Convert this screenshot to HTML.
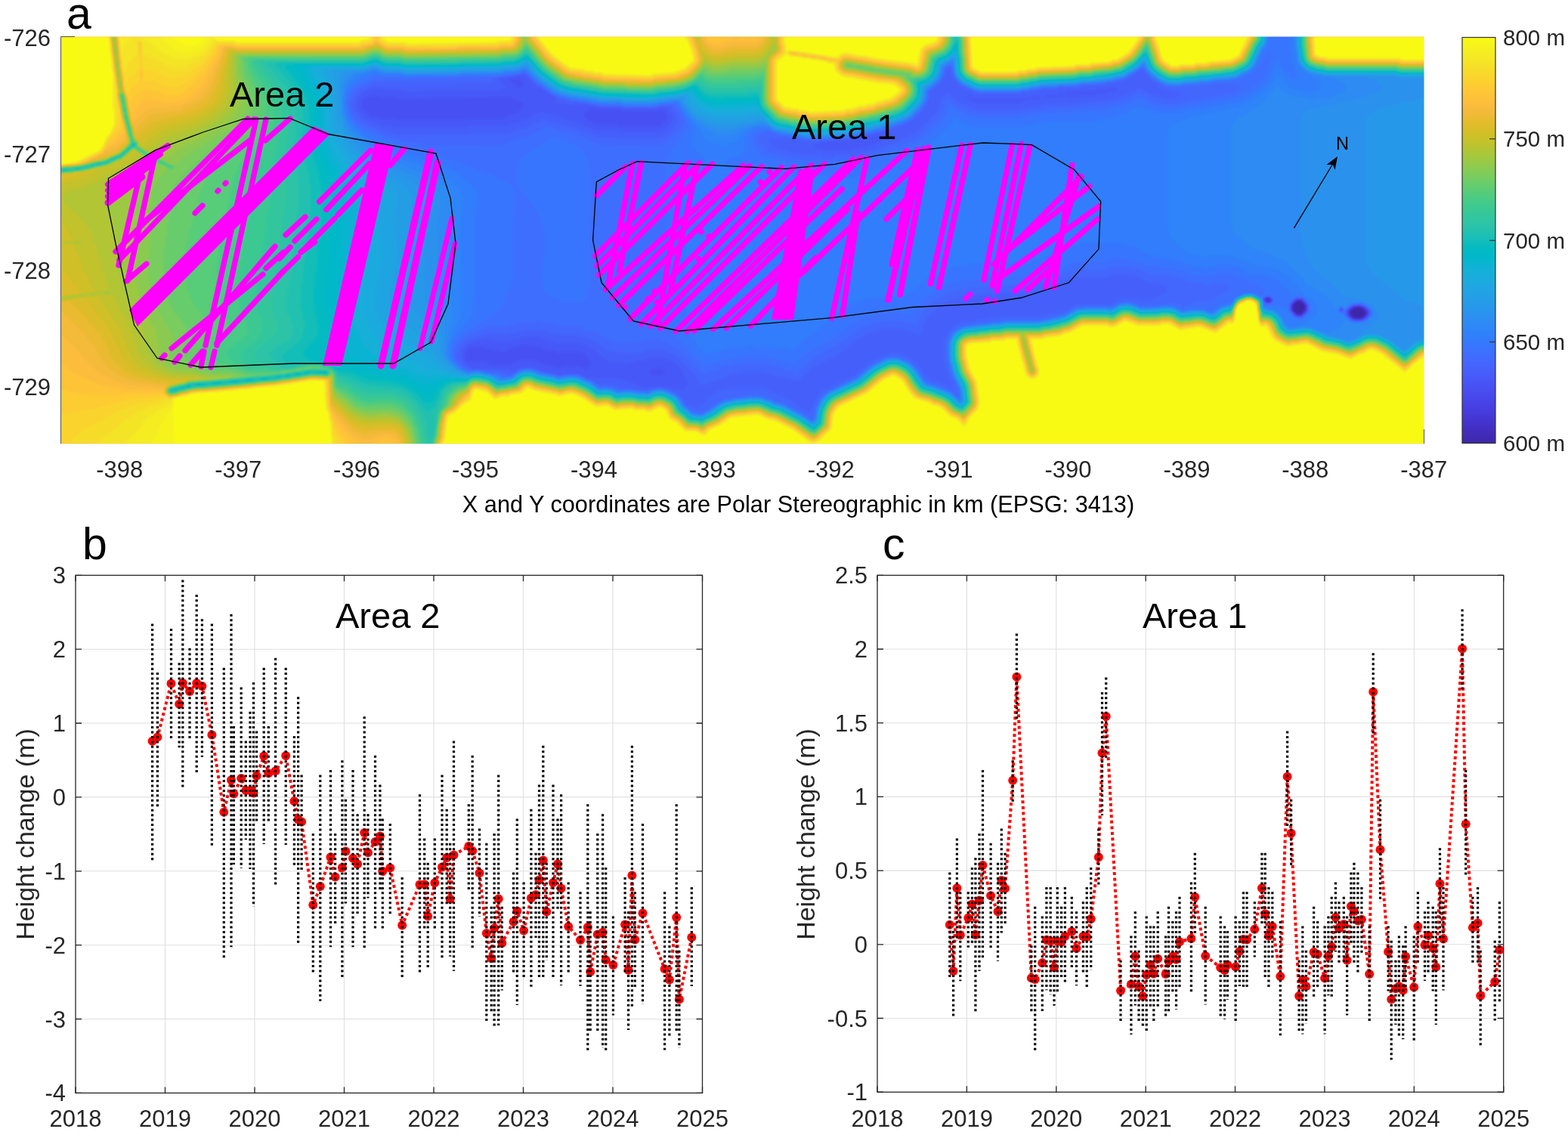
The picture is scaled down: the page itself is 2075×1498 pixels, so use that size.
<!DOCTYPE html>
<html><head><meta charset="utf-8"><title>Figure</title>
<style>html,body{margin:0;padding:0;background:#fff;}body{width:2075px;height:1498px;position:relative;overflow:hidden;}</style>
</head><body>
<svg xmlns="http://www.w3.org/2000/svg" width="2075" height="1498" viewBox="0 0 2075 1498" style="position:absolute;left:0;top:0" font-family="'Liberation Sans', Arial, sans-serif"><defs>
<filter id="cmap" filterUnits="userSpaceOnUse" x="80" y="48" width="1805" height="540" color-interpolation-filters="sRGB">
<feGaussianBlur stdDeviation="1.6"/><feComponentTransfer><feFuncR type="table" tableValues="0.2422 0.2504 0.2578 0.2647 0.2706 0.2751 0.2783 0.2803 0.2813 0.2810 0.2795 0.2760 0.2699 0.2602 0.2440 0.2206 0.1963 0.1834 0.1786 0.1764 0.1687 0.1540 0.1460 0.1380 0.1248 0.1113 0.0952 0.0689 0.0297 0.0036 0.0067 0.0433 0.0964 0.1408 0.1717 0.1938 0.2161 0.2470 0.2906 0.3406 0.3909 0.4456 0.5044 0.5616 0.6174 0.6720 0.7242 0.7738 0.8203 0.8634 0.9035 0.9393 0.9728 0.9956 0.9970 0.9952 0.9892 0.9786 0.9676 0.9610 0.9597 0.9628 0.9691 0.9769"/><feFuncG type="table" tableValues="0.1504 0.1650 0.1818 0.1978 0.2147 0.2342 0.2559 0.2782 0.3006 0.3228 0.3447 0.3667 0.3892 0.4123 0.4358 0.4603 0.4847 0.5074 0.5289 0.5499 0.5703 0.5902 0.6091 0.6276 0.6459 0.6635 0.6798 0.6948 0.7082 0.7203 0.7312 0.7411 0.7500 0.7584 0.7670 0.7758 0.7843 0.7918 0.7973 0.8008 0.8029 0.8024 0.7993 0.7942 0.7876 0.7793 0.7698 0.7598 0.7498 0.7406 0.7330 0.7288 0.7298 0.7434 0.7659 0.7893 0.8136 0.8386 0.8639 0.8890 0.9135 0.9373 0.9606 0.9839"/><feFuncB type="table" tableValues="0.6603 0.7076 0.7511 0.7952 0.8364 0.8710 0.8991 0.9221 0.9414 0.9579 0.9717 0.9829 0.9906 0.9952 0.9988 0.9973 0.9892 0.9798 0.9682 0.9520 0.9359 0.9218 0.9079 0.8973 0.8883 0.8763 0.8598 0.8394 0.8163 0.7917 0.7660 0.7394 0.7120 0.6842 0.6554 0.6251 0.5923 0.5567 0.5188 0.4789 0.4354 0.3909 0.3480 0.3045 0.2612 0.2227 0.1910 0.1646 0.1535 0.1596 0.1774 0.2100 0.2394 0.2371 0.2199 0.2028 0.1885 0.1766 0.1643 0.1537 0.1423 0.1265 0.1064 0.0805"/><feFuncA type="identity"/></feComponentTransfer>
</filter>
<filter id="b3" filterUnits="userSpaceOnUse" x="0" y="0" width="2075" height="700" color-interpolation-filters="sRGB"><feGaussianBlur stdDeviation="3"/></filter>
<filter id="b6" filterUnits="userSpaceOnUse" x="0" y="0" width="2075" height="700" color-interpolation-filters="sRGB"><feGaussianBlur stdDeviation="6"/></filter>
<filter id="b9" filterUnits="userSpaceOnUse" x="0" y="0" width="2075" height="700" color-interpolation-filters="sRGB"><feGaussianBlur stdDeviation="9"/></filter>
<filter id="b14" filterUnits="userSpaceOnUse" x="0" y="0" width="2075" height="700" color-interpolation-filters="sRGB"><feGaussianBlur stdDeviation="14"/></filter>
<filter id="b22" filterUnits="userSpaceOnUse" x="0" y="0" width="2075" height="700" color-interpolation-filters="sRGB"><feGaussianBlur stdDeviation="22"/></filter>
<filter id="b35" filterUnits="userSpaceOnUse" x="0" y="0" width="2075" height="700" color-interpolation-filters="sRGB"><feGaussianBlur stdDeviation="35"/></filter>
<clipPath id="mapclip"><rect x="80" y="48.5" width="1804.5" height="538.7"/></clipPath>
<clipPath id="bclip"><rect x="100" y="761" width="830" height="686"/></clipPath>
<clipPath id="cclip"><rect x="1161" y="761" width="829" height="686"/></clipPath>
<linearGradient id="cbar" x1="0" y1="1" x2="0" y2="0"><stop offset="0.0000" stop-color="#3e26a8"/><stop offset="0.0159" stop-color="#402ab4"/><stop offset="0.0317" stop-color="#422ec0"/><stop offset="0.0476" stop-color="#4332cb"/><stop offset="0.0635" stop-color="#4537d5"/><stop offset="0.0794" stop-color="#463cde"/><stop offset="0.0952" stop-color="#4741e5"/><stop offset="0.1111" stop-color="#4747eb"/><stop offset="0.1270" stop-color="#484df0"/><stop offset="0.1429" stop-color="#4852f4"/><stop offset="0.1587" stop-color="#4758f8"/><stop offset="0.1746" stop-color="#465efb"/><stop offset="0.1905" stop-color="#4563fd"/><stop offset="0.2063" stop-color="#4269fe"/><stop offset="0.2222" stop-color="#3e6fff"/><stop offset="0.2381" stop-color="#3875fe"/><stop offset="0.2540" stop-color="#327cfc"/><stop offset="0.2698" stop-color="#2f81fa"/><stop offset="0.2857" stop-color="#2e87f7"/><stop offset="0.3016" stop-color="#2d8cf3"/><stop offset="0.3175" stop-color="#2b91ef"/><stop offset="0.3333" stop-color="#2797eb"/><stop offset="0.3492" stop-color="#259be8"/><stop offset="0.3651" stop-color="#23a0e5"/><stop offset="0.3810" stop-color="#20a5e3"/><stop offset="0.3968" stop-color="#1ca9df"/><stop offset="0.4127" stop-color="#18addb"/><stop offset="0.4286" stop-color="#12b1d6"/><stop offset="0.4444" stop-color="#08b5d0"/><stop offset="0.4603" stop-color="#01b8ca"/><stop offset="0.4762" stop-color="#02bac3"/><stop offset="0.4921" stop-color="#0bbdbd"/><stop offset="0.5079" stop-color="#19bfb6"/><stop offset="0.5238" stop-color="#24c1ae"/><stop offset="0.5397" stop-color="#2cc4a7"/><stop offset="0.5556" stop-color="#31c69f"/><stop offset="0.5714" stop-color="#37c897"/><stop offset="0.5873" stop-color="#3fca8e"/><stop offset="0.6032" stop-color="#4acb84"/><stop offset="0.6190" stop-color="#57cc7a"/><stop offset="0.6349" stop-color="#64cd6f"/><stop offset="0.6508" stop-color="#72cd64"/><stop offset="0.6667" stop-color="#81cc59"/><stop offset="0.6825" stop-color="#8fcb4e"/><stop offset="0.6984" stop-color="#9dc943"/><stop offset="0.7143" stop-color="#abc739"/><stop offset="0.7302" stop-color="#b9c431"/><stop offset="0.7460" stop-color="#c5c22a"/><stop offset="0.7619" stop-color="#d1bf27"/><stop offset="0.7778" stop-color="#dcbd29"/><stop offset="0.7937" stop-color="#e6bb2d"/><stop offset="0.8095" stop-color="#f0ba36"/><stop offset="0.8254" stop-color="#f8ba3d"/><stop offset="0.8413" stop-color="#febe3c"/><stop offset="0.8571" stop-color="#fec338"/><stop offset="0.8730" stop-color="#fec934"/><stop offset="0.8889" stop-color="#fccf30"/><stop offset="0.9048" stop-color="#fad62d"/><stop offset="0.9206" stop-color="#f7dc2a"/><stop offset="0.9365" stop-color="#f5e327"/><stop offset="0.9524" stop-color="#f5e924"/><stop offset="0.9683" stop-color="#f6ef20"/><stop offset="0.9841" stop-color="#f7f51b"/><stop offset="1.0000" stop-color="#f9fb15"/></linearGradient>
</defs><g clip-path="url(#mapclip)"><g filter="url(#cmap)"><rect x="78" y="46" width="1810" height="544" fill="#000000"/><path fill-rule="evenodd" fill="#050505" d="M1787,413L1793,407L1801,407L1807,415L1801,421L1793,421ZM1715,399L1723,399L1725,401L1727,409L1723,415L1715,415L1713,413L1711,405ZM79,47L79,589L1887,589L1887,47Z"/><path fill-rule="evenodd" fill="#0a0a0a" d="M1787,411L1791,407L1803,407L1807,411L1807,417L1803,421L1791,421L1787,417ZM1715,399L1723,399L1727,403L1727,411L1723,415L1715,415L1711,411L1711,403ZM79,47L79,589L1887,589L1887,47Z"/><path fill-rule="evenodd" fill="#0f0f0f" d="M1785,413L1791,407L1803,407L1809,415L1803,421L1791,421ZM1717,397L1721,397L1727,403L1727,411L1721,417L1717,417L1711,411L1711,403ZM79,47L79,589L1887,589L1887,47Z"/><path fill-rule="evenodd" fill="#141414" d="M1785,411L1789,407L1799,405L1801,407L1805,407L1809,411L1809,417L1805,421L1795,423L1793,421L1789,421L1785,417ZM1715,397L1723,397L1729,405L1729,409L1723,417L1715,417L1709,409L1709,405ZM1677,393L1683,397L1679,401L1673,397ZM79,47L79,589L1887,589L1887,47Z"/><path fill-rule="evenodd" fill="#1a1a1a" d="M1785,411L1793,405L1801,405L1809,411L1809,417L1801,423L1793,423L1785,417ZM1715,397L1723,397L1729,403L1729,411L1723,417L1715,417L1709,411L1709,403ZM1673,395L1675,393L1681,393L1683,395L1683,399L1681,401L1675,401L1673,399ZM79,47L79,589L1887,589L1887,47Z"/><path fill-rule="evenodd" fill="#1f1f1f" d="M1783,413L1785,409L1791,405L1803,405L1809,409L1811,415L1809,419L1803,423L1791,423L1785,419ZM1719,395L1729,403L1729,411L1719,419L1709,411L1709,403ZM1673,395L1675,393L1681,393L1683,395L1683,399L1681,401L1675,401L1673,399ZM79,47L79,589L1887,589L1887,47Z"/><path fill-rule="evenodd" fill="#242424" d="M1773,409L1775,407L1777,411L1775,413ZM1783,411L1789,405L1805,405L1811,411L1811,417L1805,423L1789,423L1783,417ZM1717,395L1725,397L1729,401L1729,405L1731,407L1729,409L1729,413L1721,419L1713,417L1709,413L1709,409L1707,407L1709,405L1709,401ZM1673,395L1675,393L1681,393L1683,395L1683,399L1681,401L1675,401L1673,399ZM79,47L79,589L1887,589L1887,47Z"/><path fill-rule="evenodd" fill="#292929" d="M859,493L865,487L875,487L881,493L877,497L863,497ZM615,467L623,459L641,459L643,461L649,461L651,463L657,463L667,467L671,463L681,459L687,459L689,457L707,457L709,459L715,459L717,461L737,465L739,467L743,467L745,465L765,465L767,467L773,467L781,477L781,483L775,489L765,485L745,485L743,487L739,487L737,485L715,481L707,477L689,477L673,483L651,483L641,479L619,479L615,475ZM1771,409L1773,407L1777,407L1779,411L1777,413L1773,413ZM1783,411L1789,405L1799,403L1801,405L1805,405L1811,411L1811,417L1805,423L1795,425L1793,423L1789,423L1783,417ZM1715,395L1723,395L1731,405L1729,413L1723,419L1715,419L1707,409L1709,401ZM1673,395L1675,393L1681,393L1683,395L1683,399L1681,401L1675,401L1673,399ZM773,149L783,143L789,143L791,145L821,145L823,147L869,147L871,145L877,145L883,151L883,159L873,167L819,167L817,165L787,165L773,155ZM479,133L483,129L487,129L489,127L501,127L503,129L525,129L527,131L675,129L691,135L693,137L693,141L685,149L677,151L667,157L615,157L613,159L527,159L525,157L503,157L501,155L493,155L489,153L479,143ZM673,105L675,103L683,103L687,101L693,111L693,115L691,117L687,117ZM79,47L79,589L1887,589L1887,47Z"/><path fill-rule="evenodd" fill="#2e2e2e" d="M611,465L617,457L629,451L641,449L643,447L645,449L667,453L669,451L677,451L679,449L687,449L689,447L697,447L699,445L709,445L711,447L717,447L719,449L739,453L741,455L743,453L767,453L789,465L805,479L829,481L831,479L839,479L841,477L853,477L859,473L877,473L879,475L883,475L891,479L903,491L911,507L909,511L903,515L889,515L887,513L849,513L839,507L835,507L827,503L821,503L815,499L777,501L765,495L745,495L743,497L739,497L737,495L715,491L707,487L689,487L683,491L675,491L673,489L665,489L663,487L627,489L613,479L611,475ZM1771,409L1773,407L1777,407L1779,411L1777,413L1773,413ZM1781,413L1787,405L1801,403L1803,405L1807,405L1811,409L1813,415L1807,423L1793,425L1791,423L1787,423L1783,419ZM1713,395L1725,395L1731,403L1731,411L1725,419L1713,419L1707,411L1707,403ZM1671,397L1675,393L1681,393L1685,397L1681,401L1675,401ZM1181,177L1175,183L1163,189L1159,189L1145,195L1139,195L1137,197L1129,197L1127,199L1089,199L1087,197L1081,197L1077,193L1081,189L1085,189L1087,187L1125,185L1127,183L1135,183L1145,179L1161,177L1169,173L1173,173ZM1279,129L1281,127L1287,127L1289,129L1363,129L1365,127L1375,127L1377,129L1375,131L1357,133L1349,137L1293,137L1283,133ZM1479,117L1477,121L1465,123L1463,125L1451,125L1449,127L1429,127L1427,129L1413,129L1411,127L1405,127L1403,129L1385,129L1383,127L1385,125L1399,125L1401,123L1411,123L1413,121L1449,119L1451,117L1467,117L1469,115L1477,115ZM891,159L881,171L873,175L819,175L817,173L787,173L767,163L763,163L755,159L749,159L743,155L737,155L717,147L695,159L691,159L683,163L677,163L671,167L621,167L619,169L521,169L519,167L507,167L491,159L487,159L475,149L471,137L473,135L473,131L483,121L493,117L533,119L535,121L661,119L663,117L671,117L659,105L661,103L695,99L711,115L715,115L733,127L737,131L733,133L741,137L749,137L751,139L775,137L777,139L787,139L789,141L819,141L821,143L871,143L873,141L881,141L889,149ZM79,47L79,589L1887,589L1887,47Z"/><path fill-rule="evenodd" fill="#333333" d="M1259,513L1261,511L1263,513L1261,515ZM1771,409L1773,407L1777,407L1779,411L1777,413L1773,413ZM1781,411L1791,403L1803,403L1813,411L1813,417L1803,425L1791,425L1781,417ZM1717,393L1725,395L1731,401L1731,413L1721,421L1713,419L1707,413L1707,401ZM1677,391L1685,397L1679,403L1671,397ZM1545,383L1539,389L1519,397L1509,397L1507,395L1483,395L1469,403L1425,403L1405,413L1393,415L1391,417L1379,417L1377,419L1325,419L1323,421L1307,421L1305,423L1291,423L1289,425L1271,427L1263,431L1253,441L1249,451L1249,479L1251,481L1251,487L1253,489L1255,499L1261,509L1259,513L1251,509L1247,509L1241,505L1231,503L1223,495L1219,487L1207,475L1189,467L1177,467L1155,477L1131,497L1089,517L1079,529L1071,547L1045,529L1011,513L985,513L983,515L959,515L957,517L951,517L935,527L935,529L923,539L919,539L917,537L907,537L903,529L895,521L877,513L867,513L859,517L843,517L841,515L825,515L809,509L793,511L785,505L761,495L735,497L733,495L711,491L703,487L693,487L691,489L687,489L677,497L663,491L623,489L615,485L609,479L605,471L609,459L621,449L631,447L643,441L671,443L673,441L683,441L685,439L693,439L695,437L719,437L735,443L763,443L765,445L771,445L789,453L807,465L825,467L827,469L829,467L843,467L845,465L849,467L857,463L879,463L897,473L919,495L927,509L935,509L937,507L947,505L953,501L957,501L963,497L967,497L969,495L981,495L983,493L1011,493L1013,495L1021,495L1023,497L1045,501L1053,505L1059,505L1059,503L1077,485L1109,469L1135,449L1155,439L1159,439L1167,435L1195,435L1197,437L1207,439L1217,445L1219,443L1221,433L1229,419L1241,407L1263,395L1281,393L1283,391L1317,389L1319,387L1369,387L1371,385L1389,383L1411,371L1423,369L1425,367L1465,367L1475,363L1493,363L1495,365L1501,365L1521,375L1535,375ZM897,163L887,175L877,181L871,181L869,183L791,181L779,175L775,175L755,167L747,167L739,163L727,161L721,157L697,169L685,171L671,177L623,177L621,179L525,179L523,177L507,173L501,169L497,169L481,161L467,145L467,131L475,121L495,111L603,111L605,109L653,109L651,107L653,103L681,101L683,99L695,97L707,109L729,125L741,131L747,131L757,135L767,135L769,137L779,137L781,139L791,139L793,141L823,141L825,143L867,143L869,141L883,141L887,139L897,153ZM1017,189L1021,183L1057,183L1059,185L1069,185L1071,187L1117,185L1119,183L1129,183L1131,181L1139,181L1149,177L1157,177L1159,175L1165,175L1173,171L1179,171L1181,169L1191,167L1207,159L1223,143L1229,131L1229,121L1237,117L1245,109L1251,97L1251,91L1257,87L1259,89L1259,95L1263,105L1271,113L1293,123L1351,123L1353,121L1363,121L1365,119L1375,119L1377,117L1399,117L1401,115L1427,115L1429,113L1463,111L1465,109L1475,109L1477,107L1489,105L1511,91L1525,107L1539,117L1543,117L1551,121L1557,121L1563,125L1557,129L1541,131L1539,129L1527,127L1515,121L1511,117L1507,117L1495,125L1491,125L1483,129L1477,129L1475,131L1467,131L1465,133L1431,135L1429,137L1377,139L1375,141L1365,141L1363,143L1353,143L1351,145L1291,145L1265,133L1255,123L1245,131L1243,141L1237,151L1213,175L1185,189L1181,189L1155,199L1149,199L1147,201L1141,201L1131,205L1105,205L1103,207L1089,207L1087,205L1063,205L1061,203L1051,203L1041,199L1033,199L1023,195ZM79,47L79,589L1887,589L1887,47Z"/><path fill-rule="evenodd" fill="#383838" d="M1771,409L1773,407L1777,407L1779,411L1777,413L1773,413ZM1779,413L1781,409L1789,403L1805,403L1813,409L1815,415L1813,419L1805,425L1789,425L1781,419ZM1715,393L1723,393L1733,405L1731,413L1723,421L1715,421L1705,409L1707,401ZM1671,395L1679,391L1685,395L1685,399L1677,403L1671,399ZM1629,381L1625,385L1609,393L1603,399L1583,399L1581,401L1575,401L1569,405L1565,405L1557,401L1547,401L1545,403L1535,403L1533,405L1509,405L1501,401L1493,401L1489,399L1487,401L1479,401L1469,407L1465,405L1433,405L1431,407L1423,407L1405,417L1401,417L1393,421L1383,421L1381,423L1331,423L1329,425L1313,425L1311,427L1295,427L1293,429L1273,431L1259,441L1255,447L1255,455L1253,457L1253,473L1255,475L1257,491L1269,515L1269,523L1267,525L1249,513L1245,513L1239,509L1225,505L1213,487L1201,477L1193,473L1185,473L1181,471L1179,473L1171,473L1159,479L1133,499L1093,519L1087,525L1079,539L1079,547L1075,557L1059,545L1035,533L1025,531L1013,525L1005,525L1003,523L975,525L973,527L957,529L939,541L927,547L923,547L921,545L917,545L909,539L897,523L883,515L875,515L871,513L869,515L861,515L855,519L853,517L839,517L837,515L823,515L819,517L813,513L805,513L803,511L797,511L795,513L781,503L767,497L753,495L751,497L743,497L741,499L739,497L733,497L731,495L725,495L723,493L717,493L715,491L701,489L699,487L695,489L687,489L677,497L671,499L659,493L645,493L643,491L635,491L633,489L623,491L611,485L601,473L601,465L605,457L615,447L639,435L643,435L645,433L669,433L671,431L677,431L687,427L715,425L717,427L727,427L729,429L737,429L739,431L759,431L761,433L769,433L771,435L781,437L787,441L791,441L811,453L833,455L835,453L849,453L857,449L871,449L873,451L879,451L901,465L927,491L929,495L935,495L941,491L945,491L959,485L965,485L967,483L981,483L983,481L1013,481L1015,483L1023,483L1025,485L1031,485L1033,487L1055,493L1077,473L1109,457L1117,449L1143,433L1147,433L1157,427L1163,427L1165,425L1197,425L1199,427L1205,427L1211,431L1221,413L1237,397L1255,387L1267,385L1269,383L1297,381L1299,379L1315,379L1317,377L1367,377L1369,375L1387,373L1409,361L1421,359L1423,357L1463,357L1471,353L1497,353L1499,355L1505,355L1521,363L1545,363L1547,365L1553,365L1555,367L1565,369L1571,373L1591,375L1599,379L1609,375L1621,375ZM905,163L903,167L885,185L877,191L869,191L867,193L793,191L767,179L763,179L755,175L747,175L725,167L701,179L679,185L669,191L565,193L563,191L553,191L551,189L531,187L529,185L507,179L493,171L485,169L467,155L463,147L461,135L465,125L473,117L493,107L543,105L545,103L667,101L669,99L685,99L695,95L709,109L731,125L753,133L763,133L765,135L775,135L777,137L787,137L789,139L819,139L821,141L871,141L873,139L887,139L891,137L899,147L905,159ZM1003,187L1003,179L1011,175L1023,175L1031,179L1049,181L1051,183L1061,183L1063,185L1101,185L1103,183L1125,183L1127,181L1135,181L1137,179L1153,177L1155,175L1161,175L1169,171L1175,171L1177,169L1193,165L1205,159L1223,141L1229,127L1229,121L1245,107L1249,99L1249,95L1255,87L1259,89L1261,99L1267,109L1295,123L1349,123L1351,121L1361,121L1363,119L1373,119L1375,117L1397,117L1399,115L1425,115L1427,113L1461,111L1463,109L1473,109L1475,107L1487,105L1511,89L1515,91L1521,101L1533,109L1547,115L1563,115L1565,113L1605,113L1607,111L1615,111L1617,113L1621,111L1635,111L1641,115L1635,121L1625,125L1617,125L1615,127L1607,127L1605,129L1593,129L1585,133L1573,133L1563,137L1537,137L1535,135L1529,135L1507,123L1495,131L1475,135L1473,137L1465,137L1463,139L1429,141L1427,143L1395,143L1393,145L1391,143L1385,143L1383,145L1361,147L1359,149L1351,149L1349,151L1295,151L1293,149L1285,149L1261,137L1255,131L1251,135L1251,139L1243,155L1213,183L1191,193L1175,197L1169,201L1149,205L1147,207L1141,207L1139,209L1131,209L1129,211L1103,211L1101,213L1091,213L1089,211L1059,211L1057,209L1047,209L1045,207L1033,207L1031,205L1025,205L1015,201ZM79,47L79,589L1887,589L1887,47Z"/><path fill-rule="evenodd" fill="#3d3d3d" d="M1771,409L1773,407L1777,407L1779,411L1777,413L1773,413ZM1779,411L1785,405L1799,401L1809,405L1815,411L1815,417L1809,423L1795,427L1785,423L1779,417ZM1713,393L1725,393L1733,403L1733,411L1725,421L1713,421L1705,411L1705,403ZM1675,391L1681,391L1685,395L1685,399L1681,403L1675,403L1671,399L1671,395ZM731,181L713,193L707,195L687,213L685,223L683,225L683,241L693,257L703,267L717,291L717,297L721,307L721,339L719,341L717,373L719,375L721,385L727,391L745,399L769,399L775,395L777,391L777,383L779,381L779,217L777,215L777,209L769,197L751,187L747,187L739,183L733,183ZM459,133L461,131L463,121L471,113L497,101L535,101L537,103L659,101L661,99L677,99L679,97L687,97L695,93L711,109L733,125L743,129L757,131L759,133L769,133L771,135L781,135L783,137L793,137L795,139L825,139L827,141L865,141L867,139L895,137L903,149L911,167L903,181L889,197L887,203L883,207L883,213L881,215L881,263L879,265L879,273L881,275L881,419L889,439L931,483L937,483L939,481L951,479L967,473L979,473L981,471L1015,471L1017,473L1025,473L1027,475L1033,475L1035,477L1041,477L1043,479L1053,481L1065,469L1077,461L1101,449L1123,431L1147,419L1151,419L1159,415L1167,415L1169,413L1191,413L1193,415L1201,415L1205,417L1215,403L1225,393L1251,377L1255,377L1263,373L1271,373L1273,371L1303,369L1305,367L1321,367L1323,365L1373,365L1375,363L1383,363L1405,351L1409,351L1417,347L1431,347L1433,345L1453,345L1457,347L1465,343L1485,341L1487,343L1499,343L1501,345L1511,347L1517,351L1529,351L1531,353L1555,355L1557,357L1567,359L1573,363L1601,365L1603,363L1611,363L1613,361L1629,361L1647,369L1655,375L1663,375L1671,379L1675,385L1669,393L1665,393L1659,389L1647,389L1645,391L1641,391L1629,401L1621,401L1613,405L1605,413L1595,409L1573,409L1571,411L1565,411L1555,405L1529,405L1527,407L1513,407L1499,401L1481,401L1471,407L1425,407L1407,417L1403,417L1395,421L1387,421L1385,423L1375,423L1373,425L1323,425L1321,427L1305,427L1303,429L1275,431L1267,435L1255,449L1255,481L1257,483L1259,495L1269,513L1269,519L1271,521L1271,527L1269,529L1259,519L1237,509L1227,507L1219,499L1215,491L1203,479L1191,473L1173,473L1151,485L1135,499L1097,517L1085,529L1079,541L1079,549L1075,557L1061,547L1033,533L1023,531L1011,525L967,527L951,533L941,541L929,547L917,547L893,521L881,515L863,515L857,519L847,519L845,517L817,517L811,513L793,513L783,505L765,497L745,497L743,499L739,499L737,497L715,493L707,489L689,489L675,499L665,499L659,495L651,495L641,491L619,491L611,487L601,477L599,473L599,459L609,445L663,409L667,401L667,397L671,391L671,387L675,381L675,377L679,371L679,325L677,323L677,297L679,295L679,285L681,283L681,253L677,245L669,239L665,239L649,231L633,227L619,219L615,219L609,215L605,215L591,209L585,209L565,201L559,201L557,199L551,199L549,197L543,197L541,195L535,195L533,193L523,191L495,177L491,177L471,165L461,149ZM1683,71L1683,77L1681,79L1677,95L1671,105L1655,119L1635,129L1629,129L1619,133L1593,135L1583,139L1571,139L1569,141L1561,141L1559,143L1537,143L1535,141L1529,141L1523,137L1519,137L1511,131L1505,131L1495,137L1491,137L1483,141L1477,141L1475,143L1467,143L1465,145L1431,147L1429,149L1375,151L1373,153L1363,153L1361,155L1353,155L1351,157L1293,157L1291,155L1283,155L1257,141L1251,155L1245,163L1219,187L1189,201L1185,201L1159,211L1153,211L1145,215L1137,215L1135,217L1125,217L1123,219L1067,219L1065,217L1053,217L1051,215L1035,215L1033,213L1025,213L1023,211L1011,209L1001,201L995,189L995,181L1005,173L1021,173L1027,177L1033,177L1035,179L1045,179L1047,181L1057,181L1059,183L1069,183L1071,185L1093,185L1095,183L1117,183L1119,181L1139,179L1141,177L1157,175L1159,173L1165,173L1173,169L1179,169L1181,167L1191,165L1203,159L1223,139L1227,131L1227,121L1245,105L1249,97L1249,91L1257,85L1261,87L1261,97L1265,105L1271,111L1291,121L1353,121L1355,119L1365,119L1367,117L1377,117L1379,115L1429,113L1431,111L1449,111L1451,109L1477,107L1497,99L1513,87L1517,95L1525,103L1543,113L1567,113L1569,111L1587,111L1589,109L1623,107L1625,105L1635,105L1641,101L1645,101L1659,95L1667,87L1679,69ZM79,47L79,589L1887,589L1887,47Z"/><path fill-rule="evenodd" fill="#424242" d="M1775,405L1779,409L1775,415L1771,411ZM1779,411L1787,403L1801,401L1803,403L1807,403L1815,411L1815,417L1807,425L1793,427L1791,425L1787,425L1779,417ZM459,123L463,115L469,109L495,97L505,97L507,99L529,99L531,101L609,101L611,99L665,99L667,97L683,97L685,95L695,93L705,103L733,123L755,131L765,131L767,133L777,133L779,135L789,135L791,137L821,137L823,139L869,139L871,137L895,135L917,167L917,179L915,181L915,193L917,197L935,213L933,219L917,231L909,245L909,251L907,253L907,411L909,413L909,429L911,431L911,437L915,447L923,459L933,469L947,467L963,461L987,459L989,457L997,457L999,459L1027,459L1029,461L1051,463L1065,449L1085,435L1103,417L1117,407L1125,403L1129,403L1135,399L1139,399L1147,395L1157,395L1159,393L1189,393L1191,395L1197,395L1225,369L1231,367L1239,361L1243,361L1249,357L1253,357L1261,353L1271,353L1273,351L1283,351L1285,349L1305,349L1307,347L1363,347L1365,345L1379,343L1387,337L1407,327L1419,325L1421,323L1433,323L1435,321L1449,321L1451,323L1455,321L1479,321L1481,323L1489,323L1491,325L1501,327L1523,339L1543,341L1545,343L1559,345L1579,353L1591,353L1593,355L1597,355L1599,353L1607,353L1609,351L1629,351L1631,353L1643,355L1655,363L1673,363L1691,371L1707,387L1709,395L1717,391L1725,393L1733,401L1733,413L1725,421L1717,423L1705,413L1705,407L1697,407L1695,405L1675,405L1673,407L1671,405L1671,397L1667,393L1659,389L1647,389L1637,393L1629,403L1617,405L1605,413L1599,413L1591,409L1563,411L1551,405L1509,407L1495,401L1485,401L1473,407L1429,407L1405,419L1391,421L1389,423L1379,423L1377,425L1327,425L1325,427L1309,427L1307,429L1279,431L1265,437L1259,443L1255,453L1255,477L1257,479L1257,485L1259,487L1261,497L1271,517L1271,527L1269,529L1261,521L1239,511L1225,507L1213,489L1205,481L1187,473L1177,473L1155,483L1133,501L1095,519L1087,527L1079,545L1079,553L1075,557L1063,549L1035,535L1025,533L1019,529L1015,529L1007,525L989,525L987,527L971,527L969,529L963,529L949,535L939,543L927,549L925,547L917,547L903,535L901,529L895,523L877,515L867,515L859,519L815,517L807,513L793,513L785,507L761,497L735,499L733,497L711,493L703,489L693,489L691,491L687,491L677,499L671,499L669,501L665,501L661,497L657,497L655,495L647,495L637,491L625,491L621,493L609,487L599,477L597,473L597,457L601,447L621,425L625,417L625,409L627,407L627,393L629,391L629,285L631,283L631,275L633,273L631,253L629,249L607,229L591,221L571,215L565,211L525,199L481,177L461,155L459,141L457,139ZM79,47L79,589L1887,589L1887,47L1707,47L1709,79L1717,101L1713,105L1705,101L1699,95L1693,83L1693,75L1685,91L1685,95L1679,105L1663,121L1657,123L1653,127L1641,133L1629,135L1627,137L1617,137L1615,139L1607,139L1605,141L1593,141L1591,143L1571,145L1561,149L1529,149L1527,147L1505,141L1487,151L1483,151L1469,157L1459,157L1457,159L1449,159L1447,161L1397,161L1395,163L1393,161L1385,161L1383,163L1373,163L1371,165L1363,165L1361,167L1353,167L1351,169L1291,169L1289,167L1283,167L1263,155L1259,163L1223,197L1199,209L1195,209L1185,215L1181,215L1167,223L1163,223L1157,227L1153,227L1139,233L1131,233L1129,235L1117,235L1115,233L1089,233L1087,231L1061,231L1059,229L1045,229L1043,227L1011,227L1009,225L973,225L971,223L965,223L959,215L967,209L979,207L985,201L985,197L987,195L987,181L993,175L1001,171L1017,169L1021,173L1031,177L1049,179L1051,181L1061,181L1063,183L1101,183L1103,181L1125,181L1127,179L1135,179L1137,177L1153,175L1155,173L1161,173L1169,169L1175,169L1177,167L1193,163L1207,155L1219,143L1225,133L1227,119L1241,109L1247,99L1249,89L1259,83L1261,85L1261,95L1267,107L1275,113L1293,121L1351,121L1353,119L1363,119L1365,117L1375,117L1377,115L1399,115L1401,113L1427,113L1429,111L1463,109L1465,107L1475,107L1477,105L1489,103L1513,87L1523,101L1535,109L1545,113L1565,113L1567,111L1585,111L1587,109L1603,109L1605,107L1633,105L1651,97L1659,91L1673,63L1677,59L1679,47Z"/><path fill-rule="evenodd" fill="#474747" d="M1775,405L1779,409L1775,415L1771,411ZM1777,413L1785,403L1789,403L1791,401L1803,401L1805,403L1809,403L1815,409L1817,415L1809,425L1805,425L1803,427L1791,427L1789,425L1785,425L1779,419ZM79,47L79,589L1887,589L1887,47L1713,47L1713,63L1715,65L1717,83L1725,95L1741,105L1747,111L1747,115L1743,119L1739,119L1737,121L1725,121L1723,119L1711,117L1705,113L1691,99L1691,97L1689,97L1689,101L1681,113L1673,121L1655,133L1637,141L1631,141L1621,145L1611,145L1601,149L1593,149L1585,153L1577,153L1571,157L1567,157L1553,163L1547,169L1547,173L1545,175L1545,303L1547,305L1549,315L1561,327L1577,337L1583,337L1593,341L1597,341L1599,339L1627,339L1629,341L1635,341L1637,343L1647,345L1657,351L1671,351L1673,353L1679,353L1701,363L1719,381L1723,389L1735,397L1743,407L1741,417L1733,423L1707,435L1701,431L1697,421L1687,411L1677,409L1671,405L1671,397L1667,393L1659,389L1647,389L1637,393L1629,403L1619,405L1605,415L1595,411L1589,411L1587,409L1569,411L1565,413L1555,407L1549,407L1547,405L1537,405L1535,407L1507,407L1505,405L1489,401L1487,403L1481,403L1471,409L1467,409L1465,407L1433,407L1431,409L1425,409L1407,419L1395,421L1393,423L1383,423L1381,425L1331,425L1329,427L1313,427L1311,429L1283,431L1267,437L1259,445L1257,455L1255,457L1255,473L1257,475L1259,489L1271,513L1271,525L1273,527L1271,531L1269,531L1259,521L1237,511L1223,507L1213,491L1203,481L1191,475L1181,473L1179,475L1173,475L1157,483L1135,501L1097,519L1087,529L1081,541L1079,557L1077,559L1033,535L1029,535L1017,529L1005,527L1003,525L975,527L973,529L959,531L941,543L929,549L923,549L921,547L915,547L907,539L905,539L901,531L893,523L873,515L863,517L857,521L853,519L839,519L837,517L823,517L821,519L817,519L811,515L805,515L803,513L793,515L783,507L771,501L759,499L757,497L739,501L737,499L731,499L729,497L723,497L721,495L715,495L713,493L697,489L695,491L685,493L679,499L675,499L673,501L663,501L657,497L651,497L649,495L643,495L633,491L619,493L607,487L595,473L595,453L601,441L601,437L607,429L607,425L611,419L611,323L609,321L611,285L613,283L613,259L611,257L611,253L607,247L589,231L581,229L561,219L557,219L551,215L535,211L503,195L499,191L483,183L463,163L457,149L455,133L457,131L457,121L461,113L471,103L487,95L493,95L495,93L505,97L527,97L529,99L611,99L613,97L667,97L669,95L685,95L695,91L709,105L725,117L743,127L749,127L751,129L761,129L763,131L773,131L775,133L785,133L787,135L797,135L799,137L829,137L831,139L861,139L863,137L877,137L879,135L891,135L893,133L897,133L909,153L927,173L933,185L945,191L961,193L963,191L973,189L979,181L989,173L1005,167L1015,167L1023,173L1035,175L1037,177L1045,177L1047,179L1057,179L1059,181L1069,181L1071,183L1093,183L1095,181L1117,181L1119,179L1137,177L1139,175L1155,173L1157,171L1163,171L1171,167L1177,167L1179,165L1195,161L1205,155L1219,141L1225,129L1225,121L1241,107L1245,101L1247,89L1259,81L1261,83L1261,91L1263,93L1265,103L1273,111L1289,119L1295,119L1297,121L1347,121L1349,119L1359,119L1361,117L1371,117L1373,115L1395,115L1397,113L1423,113L1425,111L1459,109L1461,107L1471,107L1473,105L1487,103L1507,91L1513,85L1517,93L1533,107L1549,113L1561,113L1563,111L1581,111L1583,109L1599,109L1601,107L1629,105L1631,103L1637,103L1653,95L1661,87L1671,65L1677,57L1679,47Z"/><path fill-rule="evenodd" fill="#4c4c4c" d="M1771,409L1775,405L1779,409L1789,401L1805,401L1817,411L1817,417L1805,427L1789,427L1785,425L1777,417L1777,413L1775,415ZM79,47L79,589L1887,589L1887,47L1715,47L1715,69L1717,71L1717,81L1719,85L1733,97L1747,99L1749,101L1757,101L1777,109L1781,113L1781,117L1777,121L1757,129L1741,129L1739,131L1733,131L1731,129L1711,127L1699,121L1691,113L1673,133L1651,149L1639,155L1631,163L1631,167L1629,169L1629,295L1631,297L1631,305L1633,309L1655,329L1681,337L1701,347L1725,369L1731,379L1735,379L1751,389L1775,415L1777,419L1777,429L1773,433L1761,439L1747,439L1735,433L1717,433L1715,435L1707,435L1701,431L1697,421L1687,411L1673,409L1671,407L1671,399L1669,395L1657,389L1643,391L1635,395L1629,405L1615,407L1605,415L1601,415L1593,411L1575,411L1573,413L1565,413L1553,407L1511,409L1497,403L1483,403L1471,409L1427,409L1403,421L1389,423L1387,425L1377,425L1375,427L1325,427L1323,429L1307,429L1305,431L1277,433L1267,437L1259,445L1259,449L1257,451L1257,479L1259,481L1259,487L1261,489L1263,499L1273,519L1273,529L1271,531L1269,531L1259,521L1251,517L1225,509L1213,491L1203,481L1189,475L1175,475L1157,483L1135,501L1097,519L1087,529L1083,537L1081,551L1077,559L1037,537L1027,535L1021,531L1017,531L1009,527L969,529L967,531L955,533L929,549L917,549L903,537L901,531L893,523L879,517L865,517L857,521L845,521L843,519L817,519L809,515L793,515L783,507L763,499L747,499L745,501L737,501L735,499L713,495L705,491L691,491L689,493L685,493L677,501L663,503L659,499L655,499L647,495L641,495L639,493L623,493L621,495L605,487L595,477L591,467L591,457L593,455L595,437L599,427L599,405L597,403L597,389L595,387L595,313L593,311L595,307L597,271L599,269L597,265L597,257L593,249L583,239L515,209L511,205L505,203L487,191L467,173L457,157L457,153L455,151L455,139L453,137L457,113L467,101L473,97L489,95L491,93L499,93L501,95L509,95L511,97L533,97L535,99L605,99L607,97L661,97L663,95L679,95L681,93L689,93L695,89L711,105L727,117L741,125L753,127L755,129L765,129L767,131L777,131L779,133L789,133L791,135L821,135L823,137L869,137L871,135L899,133L909,149L925,165L949,181L967,181L979,175L983,171L987,171L995,167L1001,167L1003,165L1015,165L1025,173L1037,175L1039,177L1061,179L1063,181L1101,181L1103,179L1125,179L1127,177L1135,177L1145,173L1153,173L1155,171L1175,167L1201,157L1221,137L1225,127L1225,119L1243,103L1247,89L1261,79L1263,81L1263,97L1265,101L1275,111L1291,119L1353,119L1355,117L1365,117L1367,115L1377,115L1379,113L1401,113L1403,111L1429,111L1431,109L1465,107L1467,105L1485,103L1505,91L1513,83L1517,91L1535,107L1543,111L1567,111L1569,109L1587,109L1589,107L1605,107L1607,105L1635,103L1651,95L1661,85L1671,63L1677,55L1677,47Z"/><path fill-rule="evenodd" fill="#525252" d="M79,47L79,589L1887,589L1887,47L1715,47L1717,77L1721,87L1727,93L1743,99L1751,99L1753,101L1805,101L1807,103L1817,105L1829,113L1829,117L1817,125L1813,125L1805,129L1799,129L1797,131L1791,131L1789,133L1783,133L1781,135L1775,135L1773,137L1767,137L1765,139L1759,139L1757,141L1751,141L1749,143L1739,143L1737,145L1733,145L1725,149L1721,159L1721,311L1723,313L1723,323L1725,325L1727,335L1739,357L1755,371L1757,371L1775,389L1781,393L1791,393L1793,395L1799,395L1809,399L1815,403L1825,415L1823,423L1815,431L1805,437L1793,449L1781,451L1773,447L1759,445L1749,439L1745,439L1733,433L1705,435L1699,429L1697,423L1691,415L1685,411L1673,409L1671,407L1671,399L1669,395L1657,389L1649,389L1635,395L1629,405L1617,407L1607,415L1599,415L1591,411L1563,413L1551,407L1509,409L1495,403L1485,403L1473,409L1429,409L1405,421L1391,423L1389,425L1379,425L1377,427L1327,427L1325,429L1291,431L1289,433L1279,433L1277,435L1273,435L1263,441L1257,453L1257,477L1259,479L1259,485L1261,487L1263,497L1273,517L1273,531L1271,533L1257,521L1225,509L1217,501L1209,487L1201,481L1187,475L1177,475L1159,483L1133,503L1093,523L1083,539L1081,553L1075,561L1059,549L1035,537L1025,535L1019,531L1015,531L1007,527L989,527L987,529L971,529L969,531L963,531L953,535L943,543L927,551L925,549L917,549L901,535L897,527L877,517L867,517L859,521L815,519L807,515L791,515L781,507L761,499L735,501L733,499L711,495L703,491L693,491L691,493L687,493L677,501L661,503L645,495L639,495L637,493L625,493L623,495L619,495L603,487L593,477L589,469L589,419L583,403L581,385L579,383L579,311L577,309L577,301L579,299L579,287L581,285L581,277L583,275L583,257L573,245L515,217L487,197L463,173L457,163L457,159L453,151L453,115L459,103L467,95L483,95L485,93L499,91L507,95L529,95L531,97L609,97L611,95L665,95L667,93L683,93L691,89L697,89L713,105L739,123L751,125L753,127L763,127L765,129L775,129L777,131L787,131L789,133L819,133L821,135L871,135L873,133L899,131L917,155L925,161L935,165L939,169L943,169L949,173L957,173L961,175L963,173L969,173L991,165L1013,163L1023,171L1035,173L1037,175L1057,177L1059,179L1069,179L1071,181L1093,181L1095,179L1117,179L1119,177L1137,175L1147,171L1155,171L1157,169L1163,169L1165,167L1177,165L1199,157L1207,151L1221,135L1223,121L1225,119L1223,117L1225,115L1229,115L1237,109L1243,101L1245,89L1261,77L1263,79L1263,93L1267,103L1273,109L1295,119L1349,119L1351,117L1361,117L1363,115L1373,115L1375,113L1397,113L1399,111L1425,111L1427,109L1461,107L1463,105L1473,105L1475,103L1487,101L1507,89L1513,83L1517,87L1519,93L1533,105L1547,111L1563,111L1565,109L1583,109L1585,107L1601,107L1603,105L1631,103L1653,93L1659,87L1669,65L1673,61L1677,47Z"/><path fill-rule="evenodd" fill="#575757" d="M1885,129L1883,131L1877,131L1875,133L1855,137L1853,139L1841,139L1839,141L1827,143L1815,149L1809,155L1809,159L1807,161L1807,343L1813,357L1825,369L1845,383L1861,399L1869,399L1887,407L1887,129ZM1715,47L1715,61L1717,63L1719,81L1721,85L1733,95L1745,97L1747,99L1755,99L1757,101L1853,101L1855,103L1883,103L1887,105L1887,47ZM79,47L79,589L1887,589L1887,443L1879,447L1859,465L1841,451L1825,443L1819,443L1817,441L1805,443L1785,453L1777,449L1757,445L1747,439L1743,439L1737,435L1731,435L1729,433L1711,435L1707,437L1699,431L1695,421L1687,413L1673,409L1671,407L1669,397L1657,389L1649,389L1639,393L1629,405L1619,407L1605,417L1595,413L1589,413L1587,411L1569,413L1565,415L1555,409L1549,409L1547,407L1537,407L1535,409L1507,409L1505,407L1489,403L1487,405L1481,405L1471,411L1467,411L1465,409L1433,409L1431,411L1425,411L1407,421L1395,423L1393,425L1383,425L1381,427L1331,427L1329,429L1313,429L1311,431L1295,431L1293,433L1275,435L1267,439L1261,445L1259,455L1257,457L1257,473L1259,475L1261,489L1273,513L1273,525L1275,527L1275,531L1273,533L1269,533L1259,523L1247,517L1243,517L1237,513L1223,509L1211,491L1203,483L1191,477L1181,475L1179,477L1173,477L1157,485L1135,503L1097,521L1089,529L1083,541L1081,557L1077,561L1033,537L1029,537L1017,531L1005,529L1003,527L975,529L973,531L959,533L941,545L929,551L923,551L921,549L915,549L907,541L905,541L893,525L873,517L863,519L857,523L853,521L839,521L837,519L823,519L821,521L817,521L811,517L805,517L803,515L793,517L783,509L765,501L753,499L751,501L739,503L737,501L715,497L699,491L689,493L679,501L675,501L673,503L659,503L649,497L643,497L633,493L629,493L627,495L617,495L601,487L589,475L585,465L585,445L583,443L583,437L581,435L579,425L573,417L563,397L563,391L561,389L561,291L563,289L563,281L565,279L565,261L551,245L539,237L517,227L485,203L469,187L455,165L453,153L451,151L451,129L449,127L451,125L451,109L455,99L459,95L475,95L477,93L487,93L497,89L503,93L513,93L515,95L537,95L539,97L601,97L603,95L657,95L659,93L687,91L693,87L697,87L713,103L729,115L743,123L755,125L757,127L767,127L769,129L779,129L781,131L791,131L793,133L823,133L825,135L867,135L869,133L883,133L885,131L897,131L901,129L909,143L921,155L931,161L935,161L941,165L947,165L949,167L957,167L961,169L963,167L975,167L977,165L997,163L999,161L1007,161L1011,159L1019,167L1031,173L1049,175L1051,177L1061,177L1063,179L1101,179L1103,177L1125,177L1127,175L1135,175L1137,173L1153,171L1169,165L1175,165L1203,153L1217,139L1223,127L1223,117L1239,105L1245,93L1245,87L1249,83L1261,77L1263,79L1263,89L1265,91L1267,101L1275,109L1291,117L1297,117L1299,119L1345,119L1347,117L1357,117L1359,115L1369,115L1371,113L1421,111L1423,109L1441,109L1443,107L1469,105L1471,103L1485,101L1505,89L1513,81L1517,85L1519,91L1535,105L1543,109L1559,111L1561,109L1579,109L1581,107L1597,107L1599,105L1627,103L1629,101L1635,101L1651,93L1659,85L1669,63L1675,55L1675,49L1677,47Z"/><path fill-rule="evenodd" fill="#5c5c5c" d="M1717,47L1717,67L1719,69L1719,79L1727,91L1741,97L1749,97L1751,99L1847,99L1849,101L1887,101L1887,47ZM79,47L79,589L1887,589L1887,451L1879,451L1857,465L1843,453L1823,443L1807,443L1797,449L1783,453L1775,449L1755,445L1735,435L1705,437L1699,433L1693,419L1689,415L1681,411L1673,411L1671,409L1671,401L1669,397L1655,389L1651,389L1637,395L1629,407L1621,407L1605,417L1601,417L1593,413L1563,415L1553,409L1511,411L1497,405L1483,405L1473,411L1427,411L1409,421L1405,421L1397,425L1389,425L1387,427L1377,427L1375,429L1325,429L1323,431L1307,431L1305,433L1277,435L1265,441L1259,451L1259,479L1261,481L1263,493L1273,511L1273,517L1275,519L1275,531L1271,535L1261,525L1235,513L1225,511L1217,503L1205,485L1189,477L1175,477L1155,487L1133,505L1095,523L1091,527L1083,543L1083,551L1081,553L1081,557L1077,561L1073,561L1063,553L1031,537L1021,535L1009,529L969,531L949,539L931,551L917,551L909,543L901,539L895,527L879,519L865,519L859,523L845,523L843,521L815,521L809,517L793,517L785,511L763,501L747,501L745,503L737,503L735,501L713,497L705,493L691,493L683,497L677,503L669,503L667,505L661,505L647,497L641,497L639,495L623,495L621,497L601,489L585,473L581,463L579,449L571,435L545,411L539,401L539,391L537,387L539,385L539,367L541,365L541,353L543,351L543,319L541,317L541,301L539,297L541,295L541,285L545,277L545,261L541,253L533,245L517,237L495,221L469,195L459,181L451,161L451,155L449,153L449,131L447,129L447,103L449,101L449,97L453,93L481,93L491,89L499,89L509,93L531,93L533,95L607,95L609,93L663,93L665,91L681,91L697,85L709,99L737,119L753,125L763,125L765,127L775,127L777,129L787,129L789,131L819,131L821,133L871,133L873,131L887,131L889,129L901,129L903,127L907,137L919,151L939,161L947,161L949,163L981,163L983,161L995,161L997,159L1011,157L1021,167L1029,171L1045,173L1047,175L1057,175L1059,177L1069,177L1071,179L1093,179L1095,177L1117,177L1119,175L1137,173L1147,169L1155,169L1157,167L1163,167L1171,163L1177,163L1179,161L1189,159L1201,153L1217,137L1221,129L1221,121L1223,119L1221,117L1225,113L1231,111L1239,103L1243,95L1245,85L1257,79L1261,75L1265,77L1265,95L1269,103L1273,107L1293,117L1351,117L1353,115L1363,115L1365,113L1375,113L1377,111L1399,111L1401,109L1427,109L1429,107L1463,105L1465,103L1483,101L1495,95L1513,81L1517,83L1521,93L1533,103L1545,109L1565,109L1567,107L1585,107L1587,105L1603,105L1605,103L1633,101L1653,91L1657,87L1667,65L1671,61L1675,53L1675,47Z"/><path fill-rule="evenodd" fill="#616161" d="M1717,47L1717,65L1719,67L1719,77L1721,79L1721,83L1731,93L1735,93L1743,97L1751,97L1753,99L1849,99L1851,101L1887,101L1887,47ZM79,47L79,589L1887,589L1887,451L1875,453L1859,467L1839,451L1821,443L1809,443L1793,451L1781,453L1773,449L1759,447L1749,441L1745,441L1733,435L1705,437L1699,433L1695,423L1685,413L1673,411L1669,407L1669,397L1659,391L1647,391L1637,395L1629,407L1617,409L1605,419L1591,413L1563,415L1551,409L1509,411L1495,405L1485,405L1473,411L1429,411L1405,423L1391,425L1389,427L1379,427L1377,429L1327,429L1325,431L1309,431L1307,433L1279,435L1269,439L1261,447L1261,451L1259,453L1259,477L1261,479L1261,485L1263,487L1265,497L1275,517L1275,529L1277,531L1273,535L1267,533L1257,523L1249,519L1223,511L1211,493L1201,483L1187,477L1177,477L1159,485L1137,503L1099,521L1089,531L1083,545L1081,559L1077,563L1059,551L1035,539L1025,537L1019,533L1015,533L1007,529L989,529L987,531L971,531L969,533L963,533L953,537L943,545L927,553L925,551L915,551L901,539L899,533L891,525L877,519L867,519L859,523L815,521L807,517L791,517L781,509L761,501L735,503L733,501L711,497L703,493L693,493L691,495L687,495L679,503L671,503L669,505L659,505L651,499L639,497L637,495L615,497L613,495L603,493L589,485L579,475L571,463L567,453L553,441L547,439L529,427L517,411L517,405L515,403L515,387L517,385L517,375L519,373L519,365L521,363L521,355L523,353L523,339L525,337L523,317L521,315L521,305L519,303L519,289L521,287L521,281L525,271L525,261L521,253L505,239L503,239L467,203L451,179L451,175L447,169L447,163L445,161L443,117L441,115L441,105L439,103L439,93L441,91L485,91L487,89L499,87L505,91L527,91L529,93L611,93L613,91L667,91L669,89L685,89L697,83L713,101L729,113L743,121L749,121L759,125L769,125L771,127L781,127L783,129L793,129L795,131L825,131L827,133L865,133L867,131L895,129L905,125L913,139L921,147L937,155L943,155L945,157L987,157L989,155L1009,153L1023,167L1033,171L1051,173L1053,175L1063,175L1065,177L1099,177L1101,175L1123,175L1125,173L1133,173L1143,169L1151,169L1153,167L1173,163L1199,153L1217,135L1221,125L1221,115L1229,111L1239,101L1243,91L1243,85L1255,79L1261,73L1265,75L1265,93L1267,95L1267,99L1277,109L1295,117L1349,117L1351,115L1361,115L1363,113L1373,113L1375,111L1425,109L1427,107L1445,107L1447,105L1473,103L1475,101L1481,101L1491,97L1503,89L1513,79L1517,81L1519,89L1537,105L1547,109L1563,109L1565,107L1583,107L1585,105L1601,105L1603,103L1631,101L1649,93L1659,83L1669,61L1673,57L1675,47Z"/><path fill-rule="evenodd" fill="#666666" d="M1719,47L1719,69L1721,71L1721,81L1729,91L1739,95L1747,95L1749,97L1845,97L1847,99L1887,99L1887,47ZM79,47L79,589L1887,589L1887,451L1873,455L1859,467L1841,453L1825,445L1819,445L1817,443L1805,445L1785,455L1777,451L1757,447L1747,441L1743,441L1737,437L1731,437L1729,435L1711,437L1707,439L1697,431L1693,421L1687,415L1673,411L1669,407L1669,397L1659,391L1647,391L1637,395L1629,407L1619,409L1605,419L1595,415L1589,415L1587,413L1569,415L1565,417L1555,411L1549,411L1547,409L1537,409L1535,411L1507,411L1505,409L1489,405L1487,407L1481,407L1471,413L1467,413L1465,411L1433,411L1431,413L1425,413L1407,423L1395,425L1393,427L1383,427L1381,429L1331,429L1329,431L1313,431L1311,433L1295,433L1293,435L1275,437L1263,445L1261,455L1259,457L1259,473L1261,475L1263,489L1275,513L1275,525L1277,527L1277,531L1273,535L1269,535L1259,525L1247,519L1243,519L1237,515L1223,511L1203,485L1191,479L1181,477L1179,479L1173,479L1157,487L1135,505L1097,523L1091,529L1085,541L1083,557L1077,563L1033,539L1029,539L1017,533L1005,531L1003,529L975,531L973,533L959,535L941,547L929,553L923,553L921,551L915,551L907,543L905,543L893,527L873,519L863,521L857,525L853,523L839,523L837,521L823,521L821,523L817,523L811,519L805,519L803,517L793,519L783,511L765,503L753,501L751,503L739,505L737,503L715,499L699,493L689,495L679,503L675,503L673,505L663,505L661,507L649,499L643,499L633,495L621,497L619,499L609,497L587,489L549,461L539,457L535,453L523,447L507,431L499,417L495,397L497,395L497,383L499,381L499,373L501,371L501,363L503,361L503,351L505,349L505,321L503,319L503,307L501,305L503,259L495,245L461,207L445,181L445,177L441,169L441,159L439,157L439,125L437,123L435,109L429,95L431,91L479,91L481,89L487,89L497,85L503,89L509,89L511,91L533,91L535,93L661,91L663,89L679,89L681,87L687,87L697,81L715,101L741,119L753,121L755,123L765,123L767,125L777,125L779,127L789,127L791,129L821,129L823,131L869,131L871,129L885,129L887,127L909,125L915,135L925,145L939,151L949,151L951,153L975,153L977,151L995,151L997,149L1005,149L1021,165L1029,169L1045,171L1047,173L1057,173L1059,175L1069,175L1071,177L1093,177L1095,175L1117,175L1119,173L1137,171L1147,167L1155,167L1157,165L1163,165L1171,161L1177,161L1179,159L1189,157L1201,151L1215,137L1219,129L1219,121L1221,119L1219,115L1231,109L1237,103L1241,95L1243,85L1247,81L1257,77L1263,71L1267,79L1267,97L1269,101L1275,107L1291,115L1353,115L1355,113L1365,113L1367,111L1377,111L1379,109L1429,107L1431,105L1449,105L1451,103L1477,101L1493,95L1505,87L1515,77L1521,91L1535,103L1543,107L1567,107L1569,105L1587,105L1589,103L1605,103L1607,101L1635,99L1651,91L1657,85L1667,63L1673,55L1673,47Z"/><path fill-rule="evenodd" fill="#6b6b6b" d="M1719,47L1719,67L1721,69L1721,79L1731,91L1741,95L1749,95L1751,97L1847,97L1849,99L1887,99L1887,47ZM79,47L79,589L1887,589L1887,453L1879,453L1875,455L1859,469L1839,453L1823,445L1807,445L1797,451L1783,455L1775,451L1755,447L1735,437L1705,439L1697,433L1693,423L1685,415L1681,413L1673,413L1669,407L1669,397L1659,391L1647,391L1637,395L1627,409L1621,409L1607,419L1601,419L1593,415L1563,417L1553,411L1511,413L1497,407L1483,407L1473,413L1427,413L1409,423L1405,423L1397,427L1389,427L1387,429L1377,429L1375,431L1325,431L1323,433L1307,433L1305,435L1277,437L1269,441L1261,451L1261,479L1263,481L1265,493L1275,511L1275,517L1277,519L1277,533L1273,537L1267,535L1257,525L1235,515L1221,511L1209,493L1201,485L1189,479L1175,479L1153,491L1137,505L1099,523L1091,531L1085,543L1083,559L1077,565L1059,553L1031,539L1021,537L1009,531L969,533L953,539L943,547L931,553L915,553L899,539L897,533L891,527L879,521L865,521L859,525L845,525L843,523L815,523L809,519L791,519L781,511L763,503L747,503L745,505L737,505L735,503L713,499L705,495L691,495L677,505L669,505L667,507L659,507L655,503L639,497L623,497L621,499L599,497L597,495L583,493L581,491L559,485L517,465L499,449L489,435L481,419L481,415L479,413L479,387L481,385L481,377L483,375L483,367L485,365L485,355L487,353L487,319L485,317L485,305L483,303L483,285L485,283L485,269L487,265L485,263L483,249L453,209L439,183L439,179L435,171L435,129L433,127L433,121L427,111L427,107L421,97L421,91L423,89L483,89L493,85L499,85L507,89L529,89L531,91L665,89L667,87L683,87L693,83L697,79L715,99L731,111L745,119L751,119L761,123L771,123L773,125L783,125L785,127L795,127L797,129L827,129L829,131L863,131L865,129L879,129L881,127L893,127L903,123L911,123L927,141L941,147L989,147L991,145L1003,145L1023,165L1033,169L1051,171L1053,173L1063,173L1065,175L1099,175L1101,173L1123,173L1125,171L1133,171L1143,167L1151,167L1153,165L1173,161L1199,151L1215,135L1219,125L1219,113L1229,109L1237,101L1241,91L1241,85L1245,81L1255,77L1263,69L1267,77L1267,95L1269,99L1277,107L1293,115L1351,115L1353,113L1363,113L1365,111L1375,111L1377,109L1427,107L1429,105L1447,105L1449,103L1475,101L1491,95L1503,87L1515,75L1521,89L1537,103L1545,107L1565,107L1567,105L1585,105L1587,103L1603,103L1605,101L1633,99L1649,91L1657,83L1667,61L1673,53L1673,47Z"/><path fill-rule="evenodd" fill="#707070" d="M1719,47L1719,63L1721,65L1721,75L1725,85L1729,89L1745,95L1753,95L1755,97L1851,97L1853,99L1887,99L1887,47ZM79,47L79,589L1887,589L1887,453L1881,453L1873,457L1859,469L1841,455L1821,445L1809,445L1789,455L1781,455L1773,451L1753,447L1733,437L1703,439L1697,435L1691,421L1679,413L1673,413L1669,409L1669,399L1657,391L1649,391L1639,395L1633,401L1629,409L1623,409L1605,421L1591,415L1561,417L1551,411L1509,413L1495,407L1485,407L1471,415L1469,413L1429,413L1411,423L1407,423L1399,427L1391,427L1389,429L1379,429L1377,431L1327,431L1325,433L1309,433L1307,435L1279,437L1267,443L1261,453L1261,477L1263,479L1265,491L1275,509L1275,515L1277,517L1277,529L1279,531L1273,537L1269,537L1259,527L1243,519L1223,513L1215,505L1203,487L1187,479L1177,479L1157,489L1135,507L1097,525L1093,529L1085,545L1083,559L1077,565L1029,539L1019,537L1007,531L989,531L987,533L971,533L969,535L963,535L951,541L941,549L927,555L925,553L915,553L907,545L899,541L893,529L877,521L867,521L861,525L843,525L841,523L819,523L817,525L807,519L791,519L783,513L761,503L735,505L733,503L711,499L703,495L693,495L685,499L679,505L671,505L669,507L659,507L645,499L639,499L637,497L625,497L619,501L613,501L611,499L589,499L587,497L565,499L563,497L547,493L541,489L531,487L515,479L511,479L493,469L481,455L467,427L467,421L463,411L463,385L465,383L467,359L469,357L469,343L471,341L469,299L467,297L467,293L469,291L469,271L471,269L471,261L469,259L467,247L461,235L445,211L433,187L433,183L429,175L429,127L411,93L411,89L413,87L485,87L487,85L499,83L505,87L527,87L529,89L611,89L613,87L667,87L669,85L685,85L697,77L717,99L739,115L755,121L765,121L767,123L777,123L779,125L789,125L791,127L869,129L871,127L899,125L901,123L907,123L913,119L925,135L931,139L935,139L943,143L981,143L983,141L999,141L1001,139L1005,145L1025,165L1029,167L1045,169L1047,171L1057,171L1059,173L1069,173L1071,175L1093,175L1095,173L1117,173L1119,171L1137,169L1147,165L1155,165L1157,163L1177,159L1197,151L1215,133L1217,129L1217,121L1219,119L1217,117L1217,113L1227,109L1237,99L1241,83L1253,77L1263,67L1267,73L1267,91L1271,101L1275,105L1297,115L1347,115L1349,113L1359,113L1361,111L1371,111L1373,109L1423,107L1425,105L1443,105L1445,103L1471,101L1493,93L1505,85L1515,73L1519,79L1519,83L1523,91L1529,97L1549,107L1561,107L1563,105L1581,105L1583,103L1599,103L1601,101L1629,99L1651,89L1655,85L1665,63L1669,59L1673,47Z"/><path fill-rule="evenodd" fill="#757575" d="M1721,47L1721,67L1723,69L1723,79L1731,89L1741,93L1749,93L1751,95L1847,95L1849,97L1887,97L1887,47ZM79,47L79,589L1887,589L1887,453L1877,455L1859,471L1837,453L1817,445L1805,447L1785,457L1777,453L1757,449L1747,443L1743,443L1737,439L1731,439L1729,437L1711,439L1707,441L1697,435L1693,425L1683,415L1673,413L1669,409L1669,401L1667,397L1657,391L1649,391L1639,395L1633,401L1629,409L1619,411L1607,421L1603,421L1595,417L1589,417L1587,415L1569,417L1565,419L1555,413L1549,413L1547,411L1537,411L1535,413L1507,413L1505,411L1489,407L1487,409L1481,409L1471,415L1467,415L1465,413L1433,413L1431,415L1425,415L1407,425L1395,427L1393,429L1383,429L1381,431L1331,431L1329,433L1313,433L1311,435L1295,435L1293,437L1275,439L1263,449L1263,455L1261,457L1261,473L1263,475L1265,489L1277,513L1279,533L1273,539L1265,535L1255,525L1247,521L1243,521L1237,517L1221,513L1209,495L1199,485L1191,481L1181,479L1161,487L1139,505L1101,523L1091,533L1087,541L1085,557L1077,567L1057,553L1033,541L1029,541L1017,535L1005,533L1003,531L975,533L973,535L959,537L945,547L929,555L923,555L921,553L913,553L899,541L897,535L889,527L881,523L871,521L869,523L863,523L857,527L853,525L839,525L837,523L823,523L821,525L817,525L811,521L805,521L803,519L793,521L779,511L765,505L753,503L751,505L739,507L737,505L715,501L699,495L689,497L681,505L663,507L661,509L649,501L643,501L633,497L621,499L619,501L589,501L587,503L577,505L571,509L559,509L537,497L533,497L519,491L513,491L505,487L499,487L497,485L487,483L481,479L477,479L461,471L455,463L455,439L453,437L453,429L451,427L451,419L449,417L449,405L447,403L447,385L449,383L449,367L451,365L451,351L453,349L455,255L453,253L451,241L429,197L429,193L423,179L423,131L417,117L413,113L401,91L403,87L481,87L497,81L509,87L531,87L533,89L607,89L609,87L663,87L665,85L681,85L697,77L715,97L737,113L753,119L773,121L775,123L785,123L787,125L797,125L799,127L861,129L863,127L877,127L879,125L901,123L903,121L909,121L915,117L929,133L945,139L969,139L971,137L997,137L1001,135L1005,139L1005,143L1009,149L1021,161L1033,167L1051,169L1053,171L1063,171L1065,173L1099,173L1101,171L1123,171L1125,169L1133,169L1143,165L1159,163L1167,159L1173,159L1175,157L1191,153L1201,147L1215,131L1215,127L1217,125L1217,113L1221,109L1225,109L1233,103L1237,97L1239,85L1245,79L1257,73L1265,61L1267,63L1267,75L1269,77L1269,95L1277,105L1293,113L1351,113L1353,111L1363,111L1365,109L1375,109L1377,107L1427,105L1429,103L1447,103L1449,101L1463,101L1465,99L1483,97L1503,85L1515,71L1519,77L1519,81L1523,89L1531,97L1545,105L1565,105L1567,103L1585,103L1587,101L1603,101L1605,99L1633,97L1649,89L1655,83L1665,61L1671,53L1671,47Z"/><path fill-rule="evenodd" fill="#7a7a7a" d="M231,515L233,513L235,515L233,517ZM239,513L241,511L243,513L241,515ZM247,511L249,509L251,511L249,513ZM261,509L263,507L267,509L265,511ZM285,507L287,505L291,507L289,509ZM307,505L309,503L313,505L311,507ZM327,503L329,501L333,503L331,505ZM347,501L349,499L353,501L351,503ZM367,499L369,497L371,499L369,501ZM379,497L381,495L383,497L381,499ZM391,495L393,493L397,495L395,497ZM427,493L429,491L433,491L435,493L433,495L429,495ZM405,493L407,491L409,493L407,495ZM175,191L177,189L179,191L177,193ZM1721,47L1721,65L1723,67L1723,77L1725,79L1725,83L1731,89L1735,89L1743,93L1751,93L1753,95L1849,95L1851,97L1887,97L1887,47ZM79,47L79,589L1887,589L1887,455L1879,455L1875,457L1859,471L1839,455L1823,447L1807,447L1797,453L1783,457L1775,453L1755,449L1735,439L1705,441L1695,433L1691,423L1685,417L1681,415L1673,415L1671,413L1667,397L1657,391L1649,391L1639,395L1627,411L1621,411L1607,421L1601,421L1593,417L1563,419L1553,413L1511,415L1497,409L1483,409L1473,415L1427,415L1409,425L1405,425L1397,429L1389,429L1387,431L1377,431L1375,433L1325,433L1323,435L1307,435L1305,437L1277,439L1269,443L1263,451L1263,479L1265,481L1267,493L1277,511L1277,517L1279,519L1279,533L1273,539L1267,537L1257,527L1235,517L1221,513L1201,487L1189,481L1175,481L1153,493L1137,507L1099,525L1093,531L1087,543L1085,559L1077,567L1059,555L1031,541L1021,539L1009,533L969,535L953,541L943,549L931,555L915,555L897,539L895,533L891,529L879,523L865,523L859,527L845,527L843,525L815,525L809,521L791,521L781,513L763,505L747,505L745,507L737,507L735,505L713,501L705,497L691,497L677,507L669,507L667,509L659,509L655,505L639,499L623,499L617,503L595,503L585,507L571,521L565,523L545,509L533,503L521,501L519,499L511,499L509,497L501,497L499,495L491,495L489,493L477,491L463,485L455,485L453,483L437,481L427,473L427,465L433,459L439,447L439,435L437,433L437,425L433,415L431,383L433,381L433,363L435,361L435,343L437,341L437,319L439,317L441,255L439,253L439,245L437,243L437,237L435,235L433,225L429,219L429,215L425,209L425,205L421,199L419,187L417,185L417,177L415,175L415,153L417,151L415,129L389,87L391,85L483,85L485,83L499,81L507,85L529,85L531,87L609,87L611,85L665,85L667,83L683,83L685,81L689,81L697,75L717,97L743,115L755,117L757,119L767,119L769,121L779,121L781,123L791,123L793,125L867,127L869,125L897,123L899,121L911,119L917,115L929,129L937,133L945,133L947,135L961,135L963,133L995,133L997,131L1003,131L1005,133L1005,141L1009,147L1029,165L1045,167L1047,169L1057,169L1059,171L1069,171L1071,173L1093,173L1095,171L1117,171L1119,169L1137,167L1139,165L1163,161L1165,159L1177,157L1193,151L1199,147L1215,129L1215,121L1217,119L1215,117L1215,111L1217,109L1223,109L1233,101L1237,95L1239,83L1243,79L1255,73L1265,59L1267,61L1267,73L1269,75L1269,93L1271,95L1271,99L1277,105L1295,113L1349,113L1351,111L1361,111L1363,109L1373,109L1375,107L1425,105L1427,103L1445,103L1447,101L1461,101L1463,99L1481,97L1491,93L1503,85L1515,71L1519,75L1523,89L1531,97L1547,105L1563,105L1565,103L1583,103L1585,101L1601,101L1603,99L1631,97L1649,89L1655,83L1665,61L1669,57L1671,47Z"/><path fill-rule="evenodd" fill="#808080" d="M225,517L227,515L229,517L227,519ZM231,515L233,513L237,515L235,517ZM239,513L241,511L245,513L243,515ZM245,511L247,509L251,509L253,511L251,513L247,513ZM257,509L259,507L271,507L273,509L271,511L259,511ZM279,507L281,505L293,505L295,507L293,509L281,509ZM303,505L305,503L315,503L317,505L315,507L305,507ZM323,503L325,501L335,501L337,503L335,505L325,505ZM343,501L345,499L355,499L357,501L355,503L345,503ZM363,499L365,497L371,497L373,499L371,501L365,501ZM377,497L379,495L385,495L387,497L385,499L379,499ZM389,495L391,493L397,493L399,495L397,497L391,497ZM419,493L421,491L433,491L435,493L433,495L421,495ZM401,493L403,491L409,491L411,493L409,495L403,495ZM83,225L85,223L89,225L87,227ZM99,223L101,221L105,223L103,225ZM121,219L123,217L125,219L123,221ZM129,217L131,215L133,217L131,219ZM147,211L149,209L151,211L149,213ZM151,209L153,207L155,209L153,211ZM159,205L161,203L163,205L161,207ZM173,193L175,191L177,193L175,195ZM175,191L177,189L179,191L177,193ZM1721,47L1721,63L1723,65L1723,75L1725,77L1725,81L1733,89L1737,89L1745,93L1753,93L1755,95L1851,95L1853,97L1887,97L1887,47ZM79,47L79,589L1887,589L1887,455L1877,457L1859,473L1837,455L1821,447L1809,447L1789,457L1781,457L1773,453L1753,449L1733,439L1703,441L1695,435L1691,425L1683,417L1673,415L1669,411L1669,401L1667,397L1655,391L1651,391L1637,397L1629,411L1619,413L1607,423L1591,417L1561,419L1551,413L1509,415L1495,409L1485,409L1471,417L1469,415L1429,415L1411,425L1407,425L1399,429L1391,429L1389,431L1379,431L1377,433L1327,433L1325,435L1309,435L1307,437L1279,439L1271,443L1263,453L1263,477L1265,479L1267,491L1277,509L1279,529L1281,531L1273,541L1265,537L1255,527L1233,517L1219,513L1207,495L1199,487L1187,481L1177,481L1155,493L1139,507L1101,525L1093,533L1087,545L1085,561L1077,569L1057,555L1029,541L1019,539L1007,533L989,533L987,535L971,535L969,537L963,537L945,549L927,557L925,555L913,555L897,541L895,535L889,529L877,523L867,523L861,527L843,527L841,525L819,525L817,527L807,521L789,521L779,513L761,505L735,507L733,505L711,501L703,497L693,497L679,507L671,507L669,509L657,509L653,505L637,499L625,499L617,505L597,505L589,509L581,517L577,527L571,533L563,533L551,521L531,509L519,507L517,505L489,503L463,493L447,491L437,483L415,479L407,475L401,469L403,463L417,449L421,441L421,429L419,427L419,417L417,415L417,405L415,403L415,381L417,379L417,361L419,359L421,321L423,319L423,303L425,301L427,255L425,253L425,243L423,241L421,225L419,223L419,219L411,199L411,191L409,189L409,139L407,137L407,131L397,113L379,91L377,87L379,85L479,85L495,79L499,79L511,85L533,85L535,87L661,85L663,83L679,83L693,77L697,73L717,95L739,111L755,117L765,117L767,119L777,119L779,121L789,121L791,123L869,125L871,123L899,121L919,113L933,127L937,127L939,129L949,129L951,131L955,131L957,129L993,129L995,127L1003,127L1005,129L1005,137L1009,145L1025,161L1033,165L1051,167L1053,169L1063,169L1065,171L1099,171L1101,169L1123,169L1125,167L1133,167L1143,163L1151,163L1153,161L1159,161L1167,157L1173,157L1175,155L1185,153L1197,147L1211,133L1215,125L1215,113L1213,111L1227,105L1233,99L1237,91L1239,81L1243,77L1253,73L1259,67L1265,55L1267,57L1267,71L1269,73L1269,91L1271,93L1271,97L1279,105L1297,113L1347,113L1349,111L1359,111L1361,109L1371,109L1373,107L1423,105L1425,103L1443,103L1445,101L1459,101L1461,99L1479,97L1489,93L1501,85L1515,69L1519,73L1523,87L1533,97L1549,105L1629,97L1647,89L1655,81L1665,59L1669,55L1671,47Z"/><path fill-rule="evenodd" fill="#858585" d="M225,517L227,515L231,517L229,519ZM229,515L231,513L237,513L239,515L237,517L231,517ZM237,513L239,511L245,511L247,513L245,515L239,515ZM245,511L253,507L275,507L277,509L275,511L255,511L253,513L247,513ZM275,507L277,505L299,505L301,507L299,509L277,509ZM299,505L301,503L319,503L321,505L319,507L301,507ZM319,503L321,501L339,501L341,503L339,505L321,505ZM339,501L341,499L359,499L361,501L359,503L341,503ZM359,499L361,497L375,497L377,499L375,501L361,501ZM375,497L377,495L387,495L389,497L387,499L377,499ZM387,495L389,493L399,493L401,495L399,497L389,497ZM399,493L401,491L433,491L435,493L433,495L401,495ZM81,225L83,223L89,223L91,225L89,227L83,227ZM97,223L99,221L105,221L107,223L105,225L99,225ZM111,221L113,219L117,221L115,223ZM119,219L121,217L125,219L123,221ZM129,217L131,215L135,217L133,219ZM137,215L139,213L143,215L141,217ZM143,213L145,211L147,213L145,215ZM147,211L149,209L151,211L149,213ZM151,209L153,207L155,209L153,211ZM155,207L157,205L159,207L157,209ZM159,205L161,203L163,205L161,207ZM161,203L163,201L165,203L163,205ZM171,195L173,193L175,195L173,197ZM173,193L175,191L177,193L175,195ZM175,191L177,189L179,191L177,193ZM1723,47L1723,67L1725,69L1725,79L1731,87L1741,91L1749,91L1751,93L1847,93L1849,95L1887,95L1887,47ZM79,47L79,589L1887,589L1887,455L1875,459L1859,473L1839,457L1817,447L1807,449L1797,455L1793,455L1785,459L1769,453L1755,451L1745,445L1741,445L1729,439L1705,443L1695,437L1689,423L1685,419L1677,417L1669,411L1669,401L1667,397L1655,391L1651,391L1637,397L1629,411L1617,415L1607,423L1601,423L1587,417L1563,421L1547,413L1537,413L1535,415L1505,415L1489,409L1473,417L1467,417L1465,415L1433,415L1409,427L1395,429L1393,431L1383,431L1381,433L1331,433L1329,435L1313,435L1311,437L1283,439L1269,445L1263,457L1263,473L1265,475L1265,481L1267,483L1269,493L1277,507L1277,511L1279,513L1279,525L1281,527L1281,533L1273,541L1267,539L1257,529L1235,519L1221,515L1213,507L1201,489L1181,481L1159,491L1137,509L1099,527L1095,531L1089,543L1085,561L1077,569L1059,557L1031,543L1021,541L1015,537L1011,537L1003,533L967,537L953,543L943,551L931,557L923,557L921,555L913,555L905,547L897,543L891,531L873,523L865,525L859,529L855,529L853,527L839,527L837,525L823,525L821,527L815,527L803,521L791,523L781,515L757,505L739,509L737,507L707,501L699,497L687,501L681,507L663,509L661,511L647,503L635,501L633,499L623,501L617,505L599,507L591,511L585,517L579,533L575,539L567,545L563,543L543,521L533,515L521,513L519,511L497,511L495,509L485,509L463,499L447,495L445,491L435,483L429,483L427,481L387,483L385,481L379,481L373,473L373,471L381,463L393,455L399,447L401,437L403,435L403,425L401,423L397,395L399,393L399,375L401,373L403,341L405,339L405,321L407,319L409,287L411,285L411,243L409,241L409,231L407,229L407,223L403,213L403,205L401,203L401,187L399,185L399,173L401,171L401,141L399,139L399,133L389,115L365,87L367,83L481,83L497,77L509,83L531,83L533,85L663,83L665,81L681,81L683,79L687,79L697,71L719,95L741,111L751,115L769,117L771,119L781,119L783,121L793,121L795,123L865,125L867,123L895,121L897,119L909,117L921,111L931,121L939,125L989,125L991,123L1003,123L1005,125L1005,131L1007,133L1009,143L1027,161L1037,163L1039,165L1045,165L1047,167L1069,169L1071,171L1093,171L1095,169L1117,169L1119,167L1127,167L1137,163L1145,163L1147,161L1161,159L1169,155L1175,155L1195,147L1213,127L1213,121L1215,119L1213,117L1213,109L1215,107L1225,105L1233,97L1237,81L1241,77L1251,73L1259,65L1265,49L1269,55L1271,95L1277,103L1293,111L1351,111L1353,109L1363,109L1365,107L1375,107L1377,105L1427,103L1429,101L1447,101L1449,99L1463,99L1465,97L1483,95L1503,83L1515,69L1519,71L1519,75L1525,89L1531,95L1545,103L1565,103L1567,101L1585,101L1587,99L1603,99L1605,97L1633,95L1649,87L1653,83L1663,61L1669,53L1669,47Z"/><path fill-rule="evenodd" fill="#8a8a8a" d="M435,493L433,495L405,495L403,497L391,497L389,499L365,501L363,503L345,503L343,505L325,505L323,507L305,507L303,509L281,509L279,511L259,511L257,513L249,513L247,515L241,515L231,519L225,519L223,517L229,513L235,513L237,511L243,511L253,507L271,507L273,505L293,505L295,503L315,503L317,501L355,499L357,497L385,495L387,493L397,493L399,491L409,491L411,489L421,489L423,491L433,491ZM79,225L81,223L91,223L93,225L91,227L81,227ZM95,223L97,221L107,221L109,223L107,225L97,225ZM111,221L113,219L117,219L119,221L117,223L113,223ZM119,219L121,217L125,217L127,219L125,221L121,221ZM127,217L129,215L133,215L135,217L133,219L129,219ZM135,215L137,213L141,213L143,215L141,217L137,217ZM141,213L143,211L147,213L145,215ZM147,211L149,209L151,211L149,213ZM151,209L153,207L157,209L155,211ZM155,207L157,205L161,207L159,209ZM159,205L161,203L163,205L161,207ZM161,203L163,201L165,203L163,205ZM163,201L165,199L167,201L165,203ZM165,199L167,197L171,199L169,201ZM169,197L171,195L173,197L171,199ZM171,195L173,193L175,195L173,197ZM173,193L175,191L177,193L175,195ZM175,191L177,189L179,191L177,193ZM1723,47L1725,77L1733,87L1743,91L1751,91L1753,93L1849,93L1851,95L1887,95L1887,47ZM1267,47L1267,51L1269,53L1269,73L1271,75L1271,93L1279,103L1295,111L1349,111L1351,109L1361,109L1363,107L1373,107L1375,105L1425,103L1427,101L1445,101L1447,99L1473,97L1475,95L1481,95L1501,83L1515,67L1519,69L1519,73L1525,87L1533,95L1547,103L1563,103L1565,101L1583,101L1585,99L1619,97L1621,95L1631,95L1647,87L1653,81L1663,59L1669,51L1669,47ZM79,47L79,589L1887,589L1887,457L1879,457L1861,473L1857,473L1835,455L1823,449L1807,449L1797,455L1783,459L1775,455L1755,451L1735,441L1705,443L1695,437L1691,427L1681,417L1671,417L1669,415L1667,397L1659,393L1647,393L1637,397L1629,413L1621,413L1609,423L1601,423L1593,419L1563,421L1553,415L1511,417L1497,411L1483,411L1473,417L1427,417L1409,427L1405,427L1397,431L1389,431L1387,433L1377,433L1375,435L1325,435L1323,437L1307,437L1305,439L1277,441L1265,451L1265,479L1267,481L1269,493L1279,511L1279,517L1281,519L1281,535L1275,541L1271,541L1263,537L1253,527L1245,523L1219,515L1207,497L1197,487L1189,483L1175,483L1157,493L1141,507L1103,525L1093,535L1089,543L1087,561L1079,569L1071,567L1055,555L1031,543L1021,541L1009,535L987,535L985,537L969,537L967,539L961,539L947,549L933,555L929,559L927,557L913,557L897,543L895,537L887,529L879,525L865,525L859,529L845,529L843,527L815,527L809,523L791,523L777,513L763,507L747,507L745,509L737,509L735,507L713,503L705,499L691,499L683,507L669,509L667,511L657,511L651,505L641,503L639,501L623,501L617,507L605,507L603,509L599,509L587,519L585,527L581,533L581,537L577,543L577,565L575,567L575,575L573,577L573,581L569,583L565,575L565,563L559,547L547,531L537,523L523,517L511,517L509,515L483,515L465,505L461,505L455,501L447,499L445,497L445,493L437,485L425,483L423,481L407,481L405,483L395,483L393,485L377,487L367,481L357,471L357,467L365,459L379,453L387,443L387,431L385,429L383,419L379,413L379,389L381,387L381,379L383,377L383,369L385,367L389,313L391,311L391,297L393,295L393,283L395,281L395,237L393,235L393,225L391,223L391,213L389,211L389,185L391,183L391,161L393,159L391,137L381,117L369,105L369,103L355,87L353,83L355,81L485,81L487,79L499,77L505,81L527,81L529,83L611,83L613,81L667,81L669,79L685,79L697,69L715,91L743,111L753,113L755,115L765,115L767,117L777,117L779,119L789,119L791,121L821,121L823,123L869,123L871,121L885,121L887,119L907,117L921,109L935,119L939,119L941,121L987,121L989,119L1001,119L1005,117L1007,119L1007,137L1011,145L1025,159L1033,163L1051,165L1053,167L1063,167L1065,169L1099,169L1101,167L1123,167L1125,165L1133,165L1143,161L1151,161L1153,159L1159,159L1167,155L1173,155L1175,153L1185,151L1197,145L1209,133L1213,125L1213,113L1211,109L1213,107L1219,107L1231,99L1235,91L1237,79L1253,71L1257,67L1263,55L1263,47Z"/><path fill-rule="evenodd" fill="#8f8f8f" d="M435,493L433,495L407,495L405,497L381,499L379,501L369,501L367,503L349,503L347,505L329,505L327,507L309,507L307,509L287,509L285,511L263,511L261,513L241,515L233,519L225,519L223,517L227,513L233,513L235,511L241,511L251,507L265,507L267,505L289,505L291,503L311,503L313,501L331,501L333,499L369,497L371,495L395,493L397,491L407,491L409,489L429,489ZM1887,457L1877,459L1859,475L1837,457L1821,449L1809,449L1789,459L1781,459L1773,455L1753,451L1733,441L1703,443L1693,435L1689,425L1683,419L1679,417L1671,417L1669,415L1669,411L1667,409L1667,399L1657,393L1649,393L1639,397L1635,401L1629,413L1619,415L1607,425L1591,419L1561,421L1551,415L1509,417L1495,411L1485,411L1471,419L1469,417L1429,417L1411,427L1407,427L1399,431L1391,431L1389,433L1379,433L1377,435L1327,435L1325,437L1309,437L1307,439L1279,441L1271,445L1265,453L1265,477L1267,479L1269,491L1279,509L1281,529L1283,531L1273,543L1265,539L1255,529L1233,519L1219,515L1213,509L1205,495L1199,489L1187,483L1177,483L1161,491L1139,509L1101,527L1095,533L1089,545L1087,561L1077,571L1057,557L1029,543L1019,541L1007,535L989,535L987,537L971,537L969,539L963,539L945,551L927,559L925,557L913,557L895,541L893,535L889,531L877,525L867,525L861,529L843,529L841,527L819,527L817,529L807,523L789,523L779,515L761,507L735,509L733,507L711,503L703,499L693,499L679,509L657,511L645,503L625,501L613,509L599,511L589,521L579,547L577,567L575,569L575,577L573,579L571,589L1887,589ZM93,223L95,221L109,221L111,223L109,225L95,225ZM109,221L111,219L117,219L119,221L117,223L111,223ZM117,219L119,217L127,217L129,219L127,221L119,221ZM127,217L129,215L135,215L137,217L135,219L129,219ZM135,215L137,213L141,213L143,215L141,217L137,217ZM141,213L143,211L147,213L145,215ZM145,211L151,207L155,207L157,209L151,213L147,213ZM155,207L157,205L161,207L159,209ZM159,205L161,203L163,205L161,207ZM161,203L163,201L165,203L163,205ZM171,195L173,197L165,203L163,201ZM171,195L173,193L175,195L173,197ZM177,187L181,191L175,195L173,191ZM1723,47L1723,61L1725,63L1725,73L1729,83L1735,87L1739,87L1747,91L1755,91L1757,93L1853,93L1855,95L1887,95L1887,47ZM1267,47L1269,49L1269,69L1271,71L1271,89L1273,91L1273,95L1277,101L1299,111L1345,111L1347,109L1357,109L1359,107L1369,107L1371,105L1421,103L1423,101L1441,101L1443,99L1469,97L1471,95L1483,93L1503,81L1517,63L1527,89L1537,97L1551,103L1627,95L1651,83L1669,47ZM79,589L565,589L557,553L545,535L533,525L523,523L521,521L485,521L483,519L479,519L467,511L447,503L445,501L443,491L435,485L429,485L427,483L403,483L401,485L391,485L389,487L373,489L361,483L345,479L337,473L337,469L341,463L367,439L367,429L361,413L359,393L361,391L361,379L363,377L365,357L367,355L367,341L369,339L369,325L371,323L371,307L373,305L373,293L375,291L377,267L379,265L379,241L377,239L377,225L375,223L375,205L377,203L377,193L379,191L379,181L381,179L381,167L383,165L383,141L381,139L381,133L371,117L349,91L345,83L347,81L479,81L481,79L487,79L489,77L499,75L511,81L533,81L535,83L605,83L607,81L661,81L663,79L679,79L689,75L697,69L719,93L741,109L751,113L757,113L759,115L769,115L771,117L781,117L783,119L793,119L795,121L865,123L867,121L881,121L883,119L903,117L923,107L941,117L983,117L985,115L1001,115L1005,113L1007,115L1007,131L1009,133L1009,139L1027,159L1037,161L1039,163L1045,163L1047,165L1069,167L1071,169L1093,169L1095,167L1117,167L1119,165L1127,165L1137,161L1145,161L1147,159L1161,157L1169,153L1175,153L1195,145L1211,127L1211,121L1213,119L1209,109L1215,105L1225,103L1231,97L1233,87L1235,85L1235,79L1251,71L1257,65L1261,57L1263,47L79,47L79,223L93,223L95,225L93,227L79,227Z"/><path fill-rule="evenodd" fill="#949494" d="M437,493L433,497L429,497L427,495L409,495L407,497L397,497L395,499L385,499L383,501L371,501L369,503L353,503L351,505L333,505L331,507L315,507L313,509L291,509L289,511L251,513L249,515L235,517L227,521L223,517L227,513L231,513L233,511L239,511L249,507L261,507L263,505L285,505L287,503L307,503L309,501L347,499L349,497L365,497L367,495L379,495L381,493L405,491L407,489L433,489ZM1887,457L1879,459L1861,475L1857,475L1835,457L1817,449L1807,451L1797,457L1793,457L1785,461L1769,455L1755,453L1745,447L1741,447L1729,441L1705,445L1693,437L1689,427L1681,419L1677,419L1675,417L1671,419L1669,417L1667,399L1657,393L1649,393L1639,397L1635,401L1629,415L1627,413L1625,415L1621,415L1609,425L1601,425L1587,419L1563,423L1547,415L1537,415L1535,417L1505,417L1489,411L1473,419L1467,419L1465,417L1433,417L1409,429L1395,431L1393,433L1383,433L1381,435L1331,435L1329,437L1295,439L1293,441L1283,441L1281,443L1277,443L1267,451L1267,455L1265,457L1265,473L1267,475L1267,481L1269,483L1271,493L1279,507L1279,511L1281,513L1281,525L1283,527L1283,535L1275,543L1271,543L1263,539L1253,529L1245,525L1219,517L1213,511L1205,497L1197,489L1183,483L1163,491L1141,509L1103,527L1095,535L1089,549L1087,563L1079,571L1071,569L1055,557L1031,545L1021,543L1015,539L1011,539L1003,535L975,537L973,539L961,541L947,551L933,557L929,561L921,557L911,557L895,543L893,537L887,531L873,525L865,527L859,531L855,531L853,529L839,529L837,527L823,527L821,529L815,529L803,523L791,525L777,515L757,507L739,511L737,509L731,509L729,507L723,507L721,505L715,505L713,503L707,503L697,499L695,501L691,501L683,509L675,509L673,511L663,511L661,513L657,513L647,505L629,501L627,503L623,503L617,509L609,509L599,513L589,525L585,541L581,545L581,549L579,551L575,581L571,589L1887,589ZM187,201L189,199L191,201L189,203ZM181,197L183,195L185,197L183,199ZM177,187L181,191L163,207L161,207L159,205ZM173,185L175,183L177,187L175,189ZM171,179L173,177L175,179L173,181ZM169,171L171,169L173,171L171,173ZM167,163L169,161L171,165L169,167ZM165,155L167,153L169,155L167,157ZM163,145L165,143L167,145L165,147ZM161,135L163,133L165,135L163,137ZM159,125L161,123L163,125L161,127ZM1725,47L1725,67L1727,69L1727,79L1735,87L1739,87L1741,89L1749,89L1751,91L1847,91L1849,93L1887,93L1887,47ZM1269,47L1269,53L1271,55L1271,75L1273,77L1273,95L1281,103L1293,109L1351,109L1353,107L1363,107L1365,105L1375,105L1377,103L1427,101L1429,99L1447,99L1449,97L1475,95L1477,93L1483,93L1499,83L1517,63L1525,85L1535,95L1545,101L1565,101L1567,99L1585,99L1587,97L1621,95L1623,93L1633,93L1645,87L1653,79L1663,57L1667,53L1667,47ZM79,589L561,589L557,565L549,547L535,531L527,527L521,527L519,525L481,525L463,515L459,511L451,507L447,507L445,505L445,497L443,493L433,485L427,485L425,483L405,483L403,485L393,485L391,487L371,489L369,491L367,489L353,487L351,485L331,485L319,475L319,467L341,449L347,435L345,421L339,407L339,377L341,375L341,365L343,363L343,355L345,353L345,341L347,339L347,329L349,327L351,301L353,299L353,289L355,287L355,277L357,275L357,263L359,261L359,217L361,215L361,207L363,205L363,199L365,197L365,191L367,189L367,183L369,181L371,167L373,165L373,139L371,137L371,133L363,119L343,93L337,81L339,79L483,79L493,75L501,75L507,79L529,79L531,81L609,81L611,79L665,79L667,77L683,77L697,67L721,93L743,109L755,111L757,113L791,117L793,119L867,121L869,119L883,119L885,117L905,115L919,109L925,103L941,113L979,113L981,111L1001,111L1003,109L1007,109L1009,111L1009,137L1011,141L1029,159L1039,161L1041,163L1063,165L1065,167L1099,167L1101,165L1123,165L1125,163L1133,163L1143,159L1151,159L1153,157L1173,153L1193,145L1211,125L1211,113L1207,107L1209,105L1219,105L1231,95L1235,79L1239,75L1249,71L1257,63L1261,55L1261,47L79,47L79,223L107,221L109,219L117,219L119,217L141,213L155,205L159,205L161,207L137,219L129,219L127,221L121,221L111,225L81,227L79,229Z"/><path fill-rule="evenodd" fill="#999999" d="M437,493L433,497L411,495L409,497L399,497L397,499L387,499L385,501L373,501L371,503L337,505L335,507L317,507L315,509L295,509L293,511L273,511L271,513L253,513L251,515L245,515L243,517L237,517L227,521L223,519L223,515L225,513L231,513L247,507L257,507L259,505L279,505L281,503L303,503L305,501L323,501L325,499L363,497L365,495L377,495L379,493L389,493L391,491L401,491L403,489L433,489ZM1887,459L1877,461L1859,477L1837,459L1821,451L1809,451L1789,461L1781,461L1773,457L1753,453L1733,443L1703,445L1693,439L1687,425L1679,419L1671,419L1669,417L1665,397L1657,393L1649,393L1639,397L1635,401L1629,415L1619,417L1607,427L1591,421L1561,423L1551,417L1509,419L1495,413L1485,413L1471,421L1469,419L1429,419L1411,429L1407,429L1399,433L1391,433L1389,435L1379,435L1377,437L1327,437L1325,439L1309,439L1307,441L1279,443L1271,447L1267,453L1267,477L1269,479L1271,491L1281,509L1283,529L1285,531L1273,545L1265,541L1255,531L1233,521L1219,517L1211,509L1203,495L1199,491L1187,485L1177,485L1161,493L1139,511L1101,529L1097,533L1091,545L1089,561L1077,573L1057,559L1029,545L1019,543L1007,537L989,537L987,539L971,539L969,541L963,541L945,553L927,561L925,559L913,559L903,549L895,545L889,533L877,527L867,527L861,531L843,531L841,529L819,529L817,531L807,525L789,525L779,517L761,509L735,511L733,509L711,505L703,501L693,501L679,511L657,513L645,505L625,503L615,511L607,511L595,519L589,531L589,535L581,547L579,567L577,569L577,577L575,579L573,589L1887,589ZM223,221L225,219L229,221L227,223ZM219,219L221,217L225,219L223,221ZM215,217L217,215L221,217L219,219ZM211,215L213,213L217,215L215,217ZM207,213L209,211L213,213L211,215ZM203,211L205,209L209,211L207,213ZM199,209L201,207L205,209L203,211ZM197,207L199,205L201,207L199,209ZM193,205L195,203L197,205L195,207ZM191,203L193,201L195,203L193,205ZM187,201L189,199L191,201L189,203ZM185,199L187,197L189,199L187,201ZM181,197L183,195L185,197L183,199ZM179,195L181,193L183,195L181,197ZM173,175L175,177L175,181L173,183L171,181L171,177ZM171,167L173,169L173,173L171,175L169,173L169,169ZM167,163L169,161L171,165L169,167ZM167,151L169,153L169,157L167,159L165,157L165,153ZM165,141L167,143L167,147L165,149L163,147L163,143ZM163,131L165,133L165,137L163,139L161,137L161,133ZM159,125L161,123L163,127L161,129ZM1725,47L1725,63L1727,65L1727,75L1729,77L1729,81L1733,85L1737,85L1745,89L1753,89L1755,91L1851,91L1853,93L1887,93L1887,47ZM1269,47L1271,51L1271,71L1273,73L1273,91L1275,93L1275,97L1279,101L1297,109L1347,109L1349,107L1359,107L1361,105L1371,105L1373,103L1423,101L1425,99L1443,99L1445,97L1471,95L1473,93L1485,91L1501,81L1509,73L1517,61L1521,67L1527,87L1543,99L1547,99L1549,101L1561,101L1563,99L1581,99L1583,97L1617,95L1619,93L1629,93L1647,85L1651,81L1667,49L1667,47ZM79,589L559,589L551,557L545,547L531,533L521,531L519,529L497,529L495,531L479,529L459,515L449,511L445,507L445,501L441,491L435,487L423,485L421,483L409,483L407,485L397,485L395,487L375,489L373,491L357,491L355,489L327,489L309,479L301,471L301,465L313,453L323,449L329,441L327,427L317,407L317,399L315,397L315,373L317,371L317,357L319,355L319,343L321,341L323,319L325,317L325,309L327,307L329,285L331,283L333,263L335,261L337,233L339,231L343,211L353,191L353,187L357,181L357,177L363,163L363,139L353,117L341,101L333,85L333,81L335,79L477,79L479,77L485,77L495,73L499,73L505,77L511,77L513,79L535,79L537,81L659,79L661,77L677,77L679,75L685,75L691,71L697,63L709,79L721,91L743,107L753,111L759,111L761,113L771,113L773,115L783,115L785,117L795,117L797,119L863,121L865,119L893,117L895,115L907,113L919,107L927,99L933,105L941,109L973,109L975,107L1001,107L1003,105L1007,105L1009,107L1009,131L1011,133L1011,139L1027,157L1037,159L1039,161L1045,161L1047,163L1069,165L1071,167L1093,167L1095,165L1117,165L1119,163L1127,163L1137,159L1145,159L1147,157L1161,155L1169,151L1175,151L1195,143L1209,127L1209,121L1211,119L1209,117L1207,107L1215,103L1221,103L1229,97L1231,87L1233,85L1233,79L1237,75L1251,69L1255,65L1259,57L1261,47L79,47L79,223L105,221L107,219L115,219L125,215L133,215L161,203L173,191L173,185L175,183L177,187L181,189L181,193L179,195L175,195L161,209L153,211L143,217L123,221L121,223L113,223L111,225L99,225L97,227L83,227L79,229Z"/><path fill-rule="evenodd" fill="#9e9e9e" d="M437,491L437,495L435,497L401,497L399,499L389,499L387,501L377,501L375,503L361,503L359,505L341,505L339,507L321,507L319,509L301,509L299,511L277,511L275,513L255,513L253,515L247,515L245,517L239,517L229,521L225,521L223,519L223,515L225,513L237,511L253,505L275,505L277,503L299,503L301,501L319,501L321,499L359,497L361,495L375,495L377,493L387,493L389,491L399,491L401,489L435,489ZM1887,459L1881,459L1863,475L1857,477L1833,457L1821,451L1809,451L1789,461L1781,461L1773,457L1753,453L1733,443L1703,445L1693,439L1689,429L1679,419L1671,419L1669,417L1665,397L1657,393L1649,393L1639,397L1635,401L1629,415L1623,415L1607,427L1591,421L1561,423L1551,417L1509,419L1495,413L1485,413L1471,421L1469,419L1429,419L1411,429L1407,429L1399,433L1391,433L1389,435L1379,435L1377,437L1327,437L1325,439L1309,439L1307,441L1279,443L1267,453L1267,477L1269,479L1271,491L1281,509L1283,529L1285,531L1283,533L1283,537L1275,545L1261,539L1251,529L1243,525L1217,517L1205,499L1195,489L1187,485L1177,485L1165,491L1143,509L1105,527L1095,537L1091,545L1089,563L1077,573L1053,557L1029,545L1019,543L1007,537L989,537L987,539L971,539L969,541L963,541L949,551L935,557L931,561L927,561L925,559L911,559L895,545L893,539L885,531L877,527L867,527L861,531L843,531L841,529L819,529L817,531L807,525L789,525L775,515L761,509L735,511L733,509L711,505L703,501L693,501L685,509L671,511L669,513L659,513L657,515L645,505L625,503L617,511L603,515L595,523L589,539L581,547L579,567L577,569L577,577L575,579L573,589L1887,589ZM223,221L225,219L229,221L227,223ZM219,219L221,217L225,219L223,221ZM215,217L217,215L221,217L219,219ZM211,215L213,213L217,215L215,217ZM207,213L209,211L213,213L211,215ZM203,211L205,209L209,211L207,213ZM199,209L201,207L205,209L203,211ZM193,205L197,203L201,207L197,209ZM187,201L191,199L195,203L191,205ZM183,199L185,197L189,199L187,201ZM181,197L183,195L185,197L183,199ZM179,195L181,193L183,195L181,197ZM171,167L175,175L175,181L173,183L169,175L169,169ZM169,159L171,161L171,167L169,169L167,167L167,161ZM167,149L169,151L169,159L167,161L165,159L165,151ZM165,139L167,141L167,149L165,151L163,149L163,141ZM163,129L165,131L165,139L163,141L161,139L161,131ZM161,123L163,125L163,129L161,131L159,129L159,125ZM1727,47L1727,67L1729,69L1729,79L1735,85L1739,85L1741,87L1749,87L1751,89L1847,89L1849,91L1887,91L1887,47ZM1271,47L1271,53L1273,55L1273,75L1275,77L1275,95L1281,101L1293,107L1351,107L1353,105L1363,105L1365,103L1375,103L1377,101L1427,99L1429,97L1447,97L1449,95L1475,93L1477,91L1483,91L1499,81L1509,71L1517,59L1521,65L1527,85L1535,93L1545,99L1565,99L1567,97L1585,97L1587,95L1621,93L1623,91L1633,91L1645,85L1651,79L1661,57L1665,53L1665,47ZM79,589L557,589L555,587L553,571L547,559L547,555L533,539L519,533L495,533L493,535L487,535L471,529L465,523L447,513L443,509L443,497L441,493L433,487L427,487L425,485L405,485L403,487L393,487L391,489L371,491L369,493L329,493L297,481L289,481L279,473L279,469L297,449L303,437L301,421L289,397L289,387L287,385L287,341L289,339L289,327L291,325L291,317L293,315L293,309L297,299L297,291L301,281L301,271L303,269L305,251L307,249L309,235L319,215L339,189L349,171L349,167L353,159L353,135L345,117L341,113L329,89L329,83L327,81L329,77L481,77L497,71L509,77L531,77L533,79L663,77L665,75L681,75L689,71L697,61L709,77L723,91L745,107L755,109L757,111L791,115L793,117L867,119L869,117L897,115L917,107L927,97L935,103L939,103L941,105L1001,103L1009,99L1011,101L1011,137L1029,157L1039,159L1041,161L1063,163L1065,165L1099,165L1101,163L1123,163L1125,161L1133,161L1143,157L1151,157L1153,155L1173,151L1193,143L1209,125L1209,113L1203,105L1205,103L1219,103L1229,95L1231,85L1233,83L1233,77L1249,69L1255,63L1259,55L1259,47L79,47L79,223L103,221L105,219L113,219L115,217L123,217L125,215L139,213L149,207L157,205L173,191L173,183L175,181L177,183L177,187L181,189L181,193L171,199L161,209L153,213L149,213L139,219L123,221L113,225L101,225L99,227L85,227L83,229L79,229Z"/><path fill-rule="evenodd" fill="#a3a3a3" d="M437,491L437,495L435,497L405,497L403,499L391,499L389,501L365,503L363,505L345,505L343,507L325,507L323,509L305,509L303,511L281,511L279,513L259,513L257,515L249,515L247,517L241,517L231,521L225,521L221,517L229,511L235,511L237,509L243,509L253,505L271,505L273,503L293,503L295,501L315,501L317,499L355,497L357,495L385,493L387,491L397,491L399,489L409,489L411,487L435,489ZM1887,459L1879,461L1861,477L1857,477L1835,459L1817,451L1807,453L1797,459L1793,459L1785,463L1769,457L1755,455L1745,449L1741,449L1729,443L1705,447L1697,443L1691,437L1687,427L1681,421L1677,421L1675,419L1671,421L1669,419L1669,411L1667,409L1667,401L1665,397L1657,393L1649,393L1639,397L1635,401L1629,417L1627,415L1625,417L1621,417L1609,427L1601,427L1587,421L1563,425L1547,417L1537,417L1535,419L1505,419L1489,413L1473,421L1467,421L1465,419L1433,419L1409,431L1395,433L1393,435L1383,435L1381,437L1331,437L1329,439L1295,441L1293,443L1283,443L1281,445L1277,445L1269,451L1269,455L1267,457L1267,473L1269,475L1269,481L1271,483L1273,493L1283,513L1285,535L1275,545L1271,545L1263,541L1253,531L1245,527L1219,519L1211,511L1203,497L1197,491L1183,485L1163,493L1141,511L1103,529L1097,535L1093,543L1089,563L1079,573L1071,571L1055,559L1031,547L1021,545L1015,541L1011,541L1003,537L975,539L973,541L961,543L947,553L933,559L929,563L921,559L911,559L893,543L891,537L887,533L873,527L865,529L859,533L855,533L853,531L839,531L837,529L823,529L821,531L815,531L803,525L791,527L777,517L757,509L739,513L737,511L731,511L729,509L723,509L721,507L715,507L713,505L707,505L697,501L695,503L691,503L683,511L675,511L673,513L663,513L661,515L657,515L647,507L629,503L627,505L623,505L615,513L611,513L603,517L597,523L593,531L593,535L583,545L581,557L579,559L577,581L573,589L1887,589ZM1727,47L1729,77L1733,83L1743,87L1751,87L1753,89L1849,89L1851,91L1887,91L1887,47ZM1271,47L1271,51L1273,53L1273,73L1275,75L1275,93L1279,99L1295,107L1349,107L1351,105L1361,105L1363,103L1373,103L1375,101L1425,99L1427,97L1445,97L1447,95L1473,93L1475,91L1481,91L1501,79L1507,73L1517,57L1521,63L1521,67L1529,87L1547,99L1563,99L1565,97L1583,97L1585,95L1619,93L1621,91L1631,91L1647,83L1659,59L1665,51L1665,47ZM79,589L553,589L549,567L543,555L535,545L519,537L479,537L471,533L457,521L443,513L443,499L439,491L431,487L425,487L423,485L407,485L405,487L395,487L393,489L373,491L371,493L359,493L357,495L325,495L323,493L303,489L301,487L281,487L279,485L275,485L261,469L263,461L281,447L281,435L277,427L257,403L249,387L247,375L245,373L245,353L243,351L243,347L245,345L245,327L247,325L251,303L255,295L259,273L261,271L265,255L271,245L271,241L277,229L293,211L305,203L327,183L337,169L343,155L343,149L345,147L343,129L327,97L325,83L323,81L323,77L325,75L483,75L493,71L501,71L507,75L529,75L531,77L665,75L667,73L683,73L687,71L695,61L697,61L721,89L747,107L753,107L763,111L773,111L775,113L785,113L787,115L797,115L799,117L829,117L831,119L861,119L863,117L891,115L893,113L907,111L919,105L929,95L939,101L1001,99L1009,95L1011,97L1011,131L1013,133L1013,139L1031,157L1037,157L1047,161L1057,161L1059,163L1069,163L1071,165L1093,165L1095,163L1117,163L1119,161L1127,161L1137,157L1145,157L1147,155L1161,153L1163,151L1175,149L1191,143L1207,127L1207,121L1209,119L1207,117L1207,111L1201,105L1203,103L1221,101L1229,93L1229,87L1231,85L1233,75L1247,69L1255,61L1259,47L79,47L79,223L83,223L85,221L99,221L101,219L113,219L115,217L121,217L131,213L139,213L153,205L157,205L173,191L169,169L165,161L161,133L159,131L159,125L161,123L165,129L165,137L167,139L167,147L169,149L169,157L171,159L175,181L177,183L177,187L181,189L181,193L195,203L225,217L229,221L227,225L199,211L177,195L161,209L145,217L125,221L123,223L117,223L115,225L79,229Z"/><path fill-rule="evenodd" fill="#a8a8a8" d="M427,487L403,487L401,489L391,489L389,491L381,491L379,493L355,495L369,495L371,493L395,491L397,489L407,489L409,487ZM1887,461L1877,463L1859,479L1837,461L1821,453L1809,453L1789,463L1781,463L1773,459L1753,455L1733,445L1703,447L1691,439L1683,423L1679,421L1671,421L1669,419L1665,399L1655,393L1651,393L1641,397L1635,403L1629,417L1619,419L1607,429L1591,423L1561,425L1551,419L1509,421L1495,415L1485,415L1471,423L1469,421L1429,421L1411,431L1407,431L1399,435L1391,435L1389,437L1379,437L1377,439L1327,439L1325,441L1309,441L1307,443L1279,445L1271,449L1269,453L1269,477L1271,479L1273,491L1283,509L1285,529L1287,531L1273,547L1265,543L1255,533L1233,523L1217,519L1201,495L1187,487L1177,487L1161,495L1139,513L1101,531L1093,545L1091,561L1077,575L1057,561L1029,547L1019,545L1007,539L989,539L987,541L971,541L969,543L963,543L945,555L927,563L925,561L913,561L903,551L897,549L893,545L889,535L877,529L867,529L861,533L843,533L841,531L819,531L817,533L807,527L789,527L779,519L761,511L735,513L733,511L711,507L703,503L693,503L689,505L685,511L671,513L669,515L657,515L645,507L625,505L621,507L617,513L605,517L595,529L593,537L585,543L583,553L581,555L581,567L579,569L579,577L577,579L575,589L1887,589ZM1197,99L1199,97L1205,97L1207,99L1205,101L1199,101ZM1183,97L1185,95L1195,95L1197,97L1195,99L1185,99ZM1167,95L1169,93L1181,93L1183,95L1181,97L1169,97ZM1153,93L1155,91L1165,91L1167,93L1165,95L1155,95ZM1143,91L1145,89L1153,89L1155,91L1153,93L1145,93ZM1131,89L1133,87L1141,87L1143,89L1141,91L1133,91ZM1119,87L1121,85L1129,85L1131,87L1129,89L1121,89ZM1727,47L1729,75L1735,83L1745,87L1753,87L1755,89L1851,89L1853,91L1887,91L1887,47ZM1271,47L1273,51L1275,91L1281,99L1297,107L1347,107L1349,105L1359,105L1361,103L1371,103L1373,101L1423,99L1425,97L1443,97L1445,95L1471,93L1473,91L1479,91L1499,79L1507,71L1517,55L1521,61L1521,65L1529,85L1535,91L1549,99L1581,97L1583,95L1599,95L1601,93L1617,93L1619,91L1629,91L1645,83L1649,79L1659,57L1665,49L1665,47ZM79,589L551,589L551,583L549,581L549,575L547,573L545,563L535,549L519,541L481,541L479,539L475,539L443,515L441,511L441,495L435,489L431,489L435,489L437,491L437,495L435,497L407,497L405,499L381,501L379,503L369,503L367,505L349,505L347,507L329,507L327,509L309,509L307,511L287,511L285,513L263,513L261,515L249,515L233,521L223,521L221,519L221,515L227,511L233,511L235,509L241,509L251,505L289,503L291,501L311,501L313,499L331,499L333,497L351,497L323,497L321,495L305,493L303,491L277,491L249,477L243,471L243,459L247,449L247,435L239,421L229,411L223,399L219,379L217,377L217,327L219,325L219,313L221,311L221,295L223,293L223,271L225,269L225,259L231,245L239,237L239,235L271,205L313,179L325,167L333,153L333,149L335,147L335,129L333,127L331,117L327,111L327,107L323,101L321,81L319,79L321,75L479,75L495,69L499,69L511,75L533,75L535,77L661,75L663,73L679,73L681,71L685,71L693,63L693,61L697,59L711,75L711,77L723,89L745,105L757,107L759,109L793,113L795,115L825,115L827,117L865,117L867,115L895,113L917,105L931,91L939,97L947,97L949,99L951,97L965,97L967,95L1001,95L1011,91L1013,93L1013,135L1017,143L1027,153L1035,157L1053,159L1055,161L1065,161L1067,163L1097,163L1099,161L1121,161L1123,159L1131,159L1141,155L1149,155L1151,153L1157,153L1165,149L1171,149L1173,147L1183,145L1195,139L1203,131L1207,123L1207,115L1203,107L1197,103L1199,101L1217,101L1225,97L1229,89L1231,75L1251,65L1257,53L1257,47L79,47L79,223L83,221L111,219L121,215L137,213L159,203L169,193L171,193L173,187L171,185L171,179L169,177L169,171L167,169L167,163L163,153L161,135L159,133L159,125L161,123L165,127L169,155L171,157L171,163L173,165L177,185L183,191L181,193L199,205L231,221L231,223L227,225L199,211L179,197L175,197L159,211L155,211L141,219L125,221L123,223L107,225L105,227L79,229Z"/><path fill-rule="evenodd" fill="#adadad" d="M425,487L405,487L403,489L383,491L405,489L407,487ZM1887,461L1879,463L1861,479L1857,479L1835,461L1819,453L1811,453L1787,465L1771,459L1751,455L1731,445L1721,445L1719,447L1709,447L1705,449L1691,441L1685,427L1681,423L1671,421L1669,419L1665,399L1655,393L1651,393L1641,397L1635,403L1629,417L1621,419L1609,429L1603,429L1589,423L1579,423L1577,425L1567,425L1563,427L1549,419L1535,419L1533,421L1507,421L1493,415L1487,415L1473,423L1469,423L1467,421L1431,421L1413,431L1409,431L1401,435L1393,435L1391,437L1381,437L1379,439L1329,439L1327,441L1311,441L1309,443L1281,445L1273,449L1269,455L1269,475L1271,477L1273,489L1283,507L1285,527L1287,529L1285,537L1275,547L1271,547L1263,543L1253,533L1241,527L1237,527L1231,523L1217,519L1209,511L1201,497L1197,493L1185,487L1179,487L1163,495L1141,513L1103,531L1099,535L1093,547L1091,563L1079,575L1071,573L1055,561L1027,547L1017,545L1005,539L991,539L989,541L973,541L971,543L965,543L947,555L933,561L929,565L923,561L911,561L901,551L893,547L887,535L875,529L869,529L859,535L855,533L841,533L839,531L821,531L819,533L815,533L805,527L795,527L791,529L777,519L759,511L751,511L741,515L739,513L709,507L701,503L695,503L681,513L673,513L671,515L661,515L657,517L651,511L643,507L627,505L623,507L617,515L613,515L605,519L599,525L595,537L585,545L583,555L581,557L579,579L575,589L1887,589ZM79,229L79,589L549,589L543,565L529,549L521,545L483,545L469,539L453,525L443,519L443,515L441,513L441,497L439,495L433,499L429,499L427,497L409,497L407,499L397,499L395,501L385,501L383,503L371,503L369,505L353,505L351,507L333,507L331,509L315,509L313,511L291,511L289,513L251,515L249,517L243,517L241,519L225,523L221,519L221,515L225,511L231,511L233,509L239,509L249,505L261,505L263,503L285,503L287,501L307,501L309,499L327,499L311,497L309,495L281,495L279,493L265,491L251,485L237,483L233,481L225,471L225,461L229,453L229,445L227,443L227,439L219,429L205,403L205,399L199,385L199,377L197,375L197,331L199,329L199,305L201,303L201,275L199,273L201,271L201,255L211,235L223,223L225,223L195,209L179,197L175,197L159,211L151,215L147,215L141,219L135,219L133,221L127,221L117,225L109,225L107,227ZM157,111L159,109L161,111L159,113ZM155,99L157,97L159,99L157,101ZM1117,85L1119,83L1123,83L1125,85L1147,87L1149,89L1157,89L1159,91L1173,91L1175,93L1187,93L1189,95L1203,95L1207,99L1205,101L1193,101L1191,99L1163,97L1161,95L1151,95L1149,93L1139,93L1137,91L1119,89ZM153,85L155,83L157,85L155,87ZM151,67L153,65L155,67L153,69ZM1729,47L1731,77L1733,81L1743,85L1751,85L1753,87L1849,87L1851,89L1887,89L1887,47ZM1273,47L1273,51L1275,53L1275,73L1277,75L1277,93L1279,97L1295,105L1349,105L1351,103L1361,103L1363,101L1373,101L1375,99L1425,97L1427,95L1445,95L1447,93L1473,91L1475,89L1481,89L1501,77L1517,55L1521,57L1521,61L1531,87L1547,97L1563,97L1565,95L1583,95L1585,93L1619,91L1621,89L1631,89L1647,81L1657,59L1663,51L1663,47ZM79,223L81,221L109,219L111,217L119,217L121,215L141,211L147,207L151,207L159,203L171,191L173,187L169,179L169,173L167,171L167,165L163,155L163,147L161,145L161,137L159,135L159,125L161,123L165,125L165,133L167,135L167,143L169,145L169,153L171,155L171,163L175,171L177,185L183,189L183,193L203,207L229,219L259,197L265,195L269,191L305,171L321,155L327,141L327,127L325,125L325,119L323,117L323,113L319,105L319,97L317,95L317,75L319,73L481,73L497,67L509,73L531,73L533,75L663,73L665,71L681,71L685,69L691,63L695,55L723,87L749,105L767,107L769,109L779,109L781,111L791,111L793,113L823,113L825,115L867,115L869,113L897,111L917,103L931,89L945,95L953,95L955,93L963,93L965,91L1001,91L1011,87L1013,89L1013,131L1017,141L1029,153L1039,157L1045,157L1047,159L1057,159L1059,161L1069,161L1071,163L1093,163L1095,161L1117,161L1119,159L1127,159L1137,155L1145,155L1147,153L1167,149L1193,139L1203,129L1207,119L1203,109L1195,103L1197,101L1213,101L1223,97L1227,91L1231,73L1249,65L1255,55L1257,47L79,47Z"/><path fill-rule="evenodd" fill="#b2b2b2" d="M1363,489L1365,487L1367,489L1365,491ZM1361,481L1363,479L1365,481L1363,483ZM1359,473L1361,471L1363,473L1361,475ZM1357,467L1359,465L1361,467L1359,469ZM1355,459L1357,457L1359,459L1357,461ZM1353,451L1355,449L1357,451L1355,453ZM1351,441L1353,439L1355,441L1353,443ZM1887,461L1879,463L1861,479L1857,479L1835,461L1817,453L1807,455L1797,461L1793,461L1785,465L1769,459L1755,457L1745,451L1741,451L1729,445L1705,449L1691,441L1685,427L1681,423L1677,423L1675,421L1669,423L1667,421L1665,399L1657,395L1649,395L1637,401L1633,409L1633,415L1629,419L1627,417L1625,419L1621,419L1609,429L1601,429L1587,423L1563,427L1547,419L1537,419L1535,421L1505,421L1489,415L1473,423L1467,423L1465,421L1433,421L1409,433L1395,435L1393,437L1383,437L1381,439L1331,439L1329,441L1295,443L1293,445L1283,445L1281,447L1277,447L1271,451L1271,455L1269,457L1269,473L1271,475L1271,481L1273,483L1275,493L1285,513L1287,535L1275,547L1271,547L1263,543L1253,533L1245,529L1219,521L1209,511L1197,493L1183,487L1163,495L1141,513L1103,531L1095,543L1091,563L1079,575L1071,573L1055,561L1031,549L1021,547L1015,543L1011,543L1003,539L975,541L973,543L961,545L947,555L933,561L929,565L921,561L911,561L901,551L893,547L887,535L873,529L865,531L859,535L855,535L853,533L839,533L837,531L823,531L821,533L815,533L803,527L791,529L777,519L757,511L739,515L737,513L731,513L729,511L723,511L721,509L715,509L713,507L707,507L697,503L695,505L691,505L683,513L675,513L673,515L663,515L661,517L657,517L647,509L629,505L627,507L623,507L615,517L607,519L601,525L597,533L597,537L585,545L583,557L581,559L579,581L575,589L1887,589ZM79,229L79,589L547,589L545,577L539,563L527,551L515,549L513,547L503,547L501,549L485,549L483,547L477,547L469,543L451,527L449,527L441,517L441,501L439,499L439,495L435,499L411,497L409,499L399,499L397,501L387,501L385,503L375,503L373,505L337,507L335,509L319,509L317,511L295,511L293,513L273,513L271,515L253,515L251,517L245,517L243,519L237,519L235,521L225,523L221,519L221,515L225,511L245,507L247,505L257,505L259,503L279,503L281,501L303,501L305,499L323,499L307,499L305,497L275,497L273,495L267,495L257,491L231,489L223,485L215,477L211,469L205,437L189,407L189,403L183,391L181,377L179,375L179,361L177,359L177,347L179,345L179,285L177,283L177,275L175,273L175,261L183,241L189,233L207,217L207,215L197,211L181,199L175,197L163,209L147,217L143,217L135,221L129,221L127,223L111,225L109,227ZM159,107L161,109L161,115L159,117L157,115L157,109ZM157,93L159,95L159,101L157,103L155,101L155,95ZM155,79L157,81L157,87L155,89L153,87L153,81ZM153,63L155,65L155,71L153,73L151,71L151,65ZM149,51L151,49L153,53L151,55ZM1729,47L1731,77L1737,83L1741,83L1743,85L1751,85L1753,87L1849,87L1851,89L1887,89L1887,47ZM1273,47L1273,51L1275,53L1275,73L1277,75L1277,93L1283,99L1295,105L1349,105L1351,103L1361,103L1363,101L1373,101L1375,99L1425,97L1427,95L1445,95L1447,93L1473,91L1475,89L1481,89L1497,79L1507,69L1517,53L1521,57L1529,83L1537,91L1547,97L1563,97L1565,95L1583,95L1585,93L1619,91L1621,89L1631,89L1643,83L1649,77L1659,55L1663,51L1663,47ZM79,221L109,219L111,217L117,217L127,213L135,213L161,201L171,191L171,181L165,165L165,157L163,155L163,147L161,145L161,137L159,135L159,127L157,125L161,121L165,125L169,153L171,155L171,161L173,163L177,183L183,189L183,193L213,211L219,209L239,195L269,181L273,177L297,165L309,155L319,135L319,123L317,121L315,101L313,99L313,75L315,73L477,73L493,67L501,67L513,73L535,73L537,75L659,73L661,71L677,71L679,69L683,69L691,61L695,51L703,63L725,87L751,105L769,107L771,109L781,109L783,111L793,111L795,113L825,113L827,115L865,115L867,113L881,113L883,111L903,109L915,103L933,85L945,91L953,91L955,89L963,89L965,87L1001,87L1013,81L1015,83L1015,135L1031,153L1041,155L1043,157L1065,159L1067,161L1097,161L1099,159L1121,159L1123,157L1131,157L1133,155L1149,153L1151,151L1157,151L1165,147L1171,147L1173,145L1183,143L1191,139L1205,123L1205,115L1203,111L1191,101L1171,99L1169,97L1157,97L1155,95L1145,95L1143,93L1135,93L1133,91L1123,91L1117,87L1119,83L1129,83L1131,85L1141,85L1143,87L1165,89L1167,91L1179,91L1181,93L1195,93L1197,95L1205,95L1209,99L1217,99L1225,93L1227,83L1229,81L1229,75L1233,71L1247,65L1251,61L1255,53L1255,47L79,47Z"/><path fill-rule="evenodd" fill="#b8b8b8" d="M1365,485L1367,487L1367,491L1365,493L1363,491L1363,487ZM1363,477L1365,479L1365,483L1363,485L1361,483L1361,479ZM1361,469L1363,471L1363,475L1361,477L1359,475L1359,471ZM1359,461L1361,463L1361,469L1359,471L1357,469L1357,463ZM1357,455L1359,457L1359,461L1357,463L1355,461L1355,457ZM1355,445L1357,447L1357,453L1355,455L1353,453L1353,447ZM1887,463L1881,463L1863,479L1857,481L1833,461L1821,455L1809,455L1789,465L1781,465L1773,461L1753,457L1733,447L1703,449L1695,445L1689,439L1685,429L1679,423L1669,423L1667,421L1665,401L1657,395L1649,395L1637,401L1633,409L1633,415L1629,419L1623,419L1607,431L1591,425L1561,427L1551,421L1509,423L1495,417L1485,417L1471,425L1469,423L1429,423L1411,433L1407,433L1399,437L1379,439L1377,441L1355,441L1355,445L1353,447L1351,445L1351,441L1327,441L1325,443L1309,443L1307,445L1279,447L1271,453L1271,477L1273,479L1275,491L1285,509L1287,529L1289,531L1287,533L1287,537L1275,549L1261,543L1251,533L1243,529L1217,521L1209,513L1201,499L1195,493L1187,489L1177,489L1165,495L1143,513L1105,531L1099,537L1095,545L1093,563L1077,577L1053,561L1029,549L1019,547L1007,541L989,541L987,543L971,543L969,545L963,545L949,555L935,561L931,565L927,565L925,563L911,563L891,545L889,539L885,535L877,531L867,531L861,535L843,535L841,533L819,533L817,535L807,529L789,529L775,519L761,513L735,515L733,513L711,509L703,505L693,505L685,513L671,515L669,517L659,517L657,519L645,509L625,507L617,517L613,517L603,525L599,533L599,537L591,541L585,547L583,567L581,569L581,577L579,579L577,589L1887,589ZM79,395L81,393L83,395L81,397ZM91,393L93,391L97,393L95,395ZM105,391L107,389L111,391L109,393ZM119,389L121,387L125,387L127,389L125,391L121,391ZM137,387L139,385L145,385L147,387L145,389L139,389ZM79,231L79,589L545,589L543,579L537,565L533,559L527,555L517,551L497,551L495,553L479,551L461,541L441,523L441,515L439,513L439,497L435,499L401,499L399,501L389,501L387,503L377,503L375,505L341,507L339,509L321,509L319,511L301,511L299,513L255,515L253,517L247,517L245,519L225,523L221,519L221,515L225,511L229,511L237,507L243,507L253,503L275,503L277,501L299,501L301,499L273,499L271,497L261,497L259,495L227,493L207,481L195,463L195,457L193,455L193,449L191,447L189,437L171,403L167,389L163,385L163,377L161,375L159,359L157,357L155,315L153,313L153,305L151,303L149,291L139,271L139,263L141,261L141,257L153,243L175,227L185,217L195,211L195,209L177,197L161,211L157,211L143,219L129,221L127,223L121,223L111,227L97,227L95,229L81,229ZM159,105L161,107L161,117L159,119L157,117L157,107ZM157,91L159,93L159,103L157,105L155,103L155,93ZM155,77L157,79L157,91L155,93L153,91L153,79ZM1015,73L1017,71L1019,73L1017,75ZM1017,71L1019,69L1021,71L1019,73ZM1019,69L1021,67L1023,69L1021,71ZM1025,59L1027,61L1027,65L1023,69L1021,65ZM153,59L155,61L155,75L153,77L151,75L151,61ZM151,49L153,51L153,57L151,59L149,57L149,51ZM1729,47L1729,61L1731,63L1731,73L1733,75L1733,79L1747,85L1755,85L1757,87L1853,87L1855,89L1887,89L1887,47ZM1273,47L1275,49L1275,69L1277,71L1277,89L1279,91L1279,95L1299,105L1345,105L1347,103L1357,103L1359,101L1369,101L1371,99L1421,97L1423,95L1441,95L1443,93L1469,91L1471,89L1483,87L1499,77L1519,51L1521,53L1531,85L1545,95L1559,97L1561,95L1579,95L1581,93L1615,91L1617,89L1627,89L1645,81L1663,47ZM697,53L713,71L713,73L727,87L749,103L767,105L769,107L779,107L781,109L791,109L793,111L867,113L869,111L897,109L913,103L931,85L933,81L943,87L955,87L957,85L965,85L967,83L1001,83L1003,81L1007,81L1015,75L1017,77L1015,81L1015,131L1017,133L1017,137L1033,153L1037,153L1039,155L1057,157L1059,159L1069,159L1071,161L1093,161L1095,159L1117,159L1119,157L1127,157L1129,155L1145,153L1147,151L1153,151L1161,147L1167,147L1169,145L1185,141L1203,125L1203,121L1205,119L1203,117L1203,113L1189,101L1179,101L1177,99L1165,99L1163,97L1151,97L1149,95L1141,95L1139,93L1119,91L1115,87L1119,81L1133,83L1135,85L1145,85L1147,87L1157,87L1159,89L1171,89L1173,91L1185,91L1187,93L1201,93L1203,95L1207,95L1209,99L1213,99L1215,97L1219,97L1225,91L1229,73L1233,69L1237,69L1245,65L1251,59L1255,47L697,47ZM79,221L107,219L117,215L133,213L157,203L171,191L171,183L169,181L169,175L167,173L167,167L163,157L163,149L161,147L161,139L159,137L159,129L157,127L161,117L167,133L167,141L169,143L169,151L171,153L177,183L183,187L183,193L201,205L219,195L223,191L235,185L239,185L249,179L253,179L291,159L305,145L311,131L309,77L313,71L479,71L495,65L501,65L511,71L533,71L535,73L661,71L663,69L679,69L683,67L689,61L693,53L693,47L79,47Z"/><path fill-rule="evenodd" fill="#bdbdbd" d="M1887,463L1879,465L1861,481L1857,481L1835,463L1819,455L1811,455L1787,467L1771,461L1751,457L1731,447L1721,447L1719,449L1709,449L1705,451L1693,445L1689,441L1681,425L1677,423L1671,423L1669,425L1667,423L1665,401L1657,395L1649,395L1637,401L1633,409L1633,415L1629,419L1621,421L1609,431L1603,431L1589,425L1579,425L1577,427L1567,427L1563,429L1549,421L1535,421L1533,423L1507,423L1493,417L1487,417L1473,425L1469,425L1467,423L1431,423L1413,433L1409,433L1401,437L1381,439L1379,441L1355,441L1357,451L1359,453L1359,459L1361,461L1361,467L1363,469L1363,475L1369,491L1367,495L1363,493L1363,487L1357,471L1351,441L1329,441L1327,443L1311,443L1309,445L1281,447L1273,451L1271,455L1271,475L1273,477L1275,489L1285,507L1289,533L1275,551L1263,545L1253,535L1231,525L1215,521L1199,497L1185,489L1179,489L1163,497L1141,515L1103,533L1095,547L1093,563L1079,577L1071,575L1055,563L1027,549L1017,547L1005,541L991,541L989,543L973,543L971,545L965,545L947,557L933,563L929,567L923,563L911,563L901,553L895,551L891,547L887,537L875,531L869,531L859,537L855,535L841,535L839,533L821,533L819,535L815,535L805,529L795,529L791,531L777,521L759,513L751,513L741,517L739,515L709,509L701,505L695,505L691,507L687,513L657,519L651,513L643,509L627,507L623,509L615,519L609,521L603,527L601,535L595,541L587,545L585,555L583,557L581,579L577,589L1887,589ZM79,395L81,393L87,393L89,395L87,397L81,397ZM87,393L89,391L101,391L103,393L101,395L89,395ZM101,391L103,389L115,389L117,391L115,393L103,393ZM115,389L117,387L129,387L131,389L129,391L117,391ZM85,321L87,319L109,319L111,321L109,323L87,323ZM79,231L79,589L543,589L539,579L539,573L531,561L519,555L479,555L477,553L473,553L459,543L441,525L441,517L439,515L439,499L437,497L435,499L405,499L403,501L391,501L389,503L365,505L363,507L345,507L343,509L325,509L323,511L305,511L303,513L283,513L281,515L259,515L257,517L249,517L247,519L241,519L231,523L223,523L219,519L219,515L223,511L227,511L229,509L243,507L251,503L293,501L269,501L267,499L251,499L249,497L225,497L203,487L187,473L183,465L177,443L165,419L161,415L149,389L131,389L129,387L131,385L147,385L141,375L141,371L135,357L135,351L133,349L133,343L131,341L127,321L121,321L119,319L121,317L125,317L119,303L113,295L83,267L83,259L89,253L109,249L131,239L135,235L167,219L181,209L185,203L179,199L175,199L161,211L153,215L149,215L143,219L123,223L121,225L113,225L111,227L99,227L97,229L83,229ZM1731,47L1733,77L1737,81L1741,81L1743,83L1751,83L1753,85L1849,85L1851,87L1887,87L1887,47ZM1521,47L1521,55L1523,57L1531,83L1547,95L1563,95L1565,93L1583,93L1585,91L1601,91L1603,89L1631,87L1643,81L1647,77L1657,55L1661,51L1661,47ZM1275,47L1275,51L1277,53L1277,73L1279,75L1279,93L1283,97L1295,103L1349,103L1351,101L1361,101L1363,99L1373,99L1375,97L1425,95L1427,93L1445,93L1447,91L1473,89L1475,87L1481,87L1497,77L1505,69L1517,51L1517,47ZM697,47L699,55L715,73L715,75L725,85L747,101L759,103L761,105L795,109L797,111L827,111L829,113L863,113L865,111L879,111L881,109L893,109L895,107L907,105L915,101L929,87L929,83L933,77L943,83L957,83L959,81L969,81L971,79L1001,79L1009,75L1019,65L1025,51L1027,53L1027,61L1029,65L1023,69L1017,77L1017,135L1019,139L1035,153L1053,155L1055,157L1065,157L1067,159L1121,157L1123,155L1131,155L1141,151L1149,151L1151,149L1157,149L1165,145L1171,145L1173,143L1183,141L1191,137L1201,127L1203,123L1203,115L1201,111L1191,103L1187,103L1185,101L1173,101L1171,99L1159,99L1157,97L1147,97L1145,95L1135,95L1133,93L1123,93L1115,89L1115,83L1117,81L1127,81L1129,83L1139,83L1141,85L1151,85L1153,87L1163,87L1165,89L1177,89L1179,91L1193,91L1195,93L1205,93L1209,97L1217,97L1221,95L1225,89L1225,83L1227,81L1229,71L1247,63L1253,53L1253,47ZM79,221L105,219L107,217L115,217L117,215L139,211L145,207L149,207L157,203L165,195L167,195L171,189L171,183L169,181L165,161L163,159L159,131L157,129L157,123L159,121L157,119L155,95L153,93L153,79L151,77L151,63L149,61L149,49L151,47L155,57L155,73L157,75L157,89L159,91L159,101L161,103L161,115L167,131L167,139L169,141L169,149L171,151L173,167L175,169L179,185L181,185L185,193L193,199L213,185L225,179L251,171L273,161L297,143L305,123L305,85L307,83L307,71L309,69L481,69L497,63L509,69L531,69L533,71L663,69L665,67L681,67L685,65L691,55L691,47L79,47Z"/><path fill-rule="evenodd" fill="#c2c2c2" d="M1887,463L1881,465L1863,481L1857,483L1833,463L1817,455L1813,455L1803,461L1799,461L1789,467L1785,467L1769,461L1749,457L1729,447L1703,451L1689,443L1683,429L1675,423L1669,425L1667,423L1665,401L1657,395L1649,395L1637,401L1633,409L1633,415L1629,421L1627,419L1607,433L1587,425L1561,429L1547,421L1537,421L1535,423L1505,423L1489,417L1475,425L1467,425L1465,423L1433,423L1415,433L1411,433L1403,437L1383,439L1381,441L1355,441L1357,443L1363,473L1369,489L1369,493L1367,495L1363,493L1363,489L1359,481L1359,475L1357,473L1357,467L1355,465L1355,459L1353,457L1353,451L1351,449L1351,443L1349,441L1331,441L1329,443L1313,443L1311,445L1283,447L1275,451L1271,457L1271,473L1273,475L1275,487L1285,505L1289,535L1275,553L1271,549L1261,545L1251,535L1229,525L1215,521L1207,513L1199,499L1195,495L1183,489L1165,497L1143,515L1105,533L1101,537L1095,549L1093,565L1077,579L1053,563L1025,549L1015,547L1003,541L967,545L949,557L935,563L931,567L927,567L921,563L909,563L899,553L891,549L885,537L873,531L861,537L855,537L853,535L839,535L837,533L813,535L803,529L789,531L775,521L757,513L739,517L737,515L707,509L699,505L693,507L683,515L663,517L657,521L649,513L641,509L629,507L625,509L617,519L611,521L605,527L601,537L597,541L591,543L587,547L585,557L583,559L581,581L577,589L1887,589ZM79,397L79,589L541,589L533,567L521,559L479,559L469,555L461,549L439,527L437,499L407,499L405,501L381,503L379,505L369,505L367,507L349,507L347,509L329,509L327,511L309,511L307,513L287,513L285,515L263,515L261,517L251,517L249,519L243,519L233,523L223,523L219,519L219,515L227,509L233,509L235,507L241,507L251,503L265,503L261,501L227,501L225,499L211,497L185,485L173,471L171,463L167,457L167,453L161,443L161,439L133,397L131,391L107,393L105,395L93,395L91,397ZM79,291L79,393L83,391L95,391L97,389L109,389L111,387L125,387L127,385L121,377L109,353L109,349L105,343L105,339L101,333L99,325L97,323L87,323L85,325L81,325L79,323L81,319L97,319L89,307L85,297ZM179,199L175,199L161,211L139,221L123,223L113,227L79,231L79,245L81,243L97,241L99,239L115,235L135,223L139,223L165,211L179,201ZM927,69L929,67L931,71L929,73ZM1731,47L1733,75L1735,79L1745,83L1753,83L1755,85L1851,85L1853,87L1887,87L1887,47ZM1521,53L1533,85L1549,95L1561,95L1563,93L1581,93L1583,91L1599,91L1601,89L1629,87L1645,79L1661,47L1521,47ZM1275,47L1277,51L1279,91L1281,95L1297,103L1347,103L1349,101L1359,101L1361,99L1371,99L1373,97L1423,95L1425,93L1443,93L1445,91L1471,89L1473,87L1479,87L1499,75L1517,49L1517,47ZM699,47L701,55L717,73L717,75L725,83L747,99L757,101L759,103L793,107L795,109L825,109L827,111L865,111L867,109L881,109L883,107L903,105L915,99L927,87L929,83L929,73L931,71L943,79L957,79L959,77L971,77L973,75L985,75L987,77L991,75L1001,75L1009,71L1017,63L1021,55L1021,51L1025,47L1027,49L1029,67L1019,75L1019,79L1017,81L1017,131L1019,133L1019,137L1033,151L1045,153L1047,155L1069,157L1071,159L1117,157L1119,155L1127,155L1137,151L1153,149L1161,145L1167,145L1169,143L1185,139L1201,125L1201,121L1203,119L1201,117L1201,113L1189,103L1165,101L1163,99L1141,97L1139,95L1131,95L1129,93L1119,93L1113,87L1119,79L1123,81L1133,81L1135,83L1155,85L1157,87L1199,91L1201,93L1207,93L1213,97L1215,95L1219,95L1223,91L1227,71L1233,67L1237,67L1245,63L1249,59L1253,47L923,47L921,49L919,47ZM79,221L85,221L87,219L101,219L103,217L113,217L115,215L123,215L125,213L139,211L153,203L157,203L171,187L169,177L165,169L163,153L161,151L161,143L159,141L159,133L157,131L157,111L155,109L155,97L153,95L153,83L151,81L151,65L149,63L149,49L151,47L155,53L155,69L157,71L157,85L159,87L161,113L167,129L171,157L173,159L177,179L185,189L185,193L189,193L197,185L217,173L257,161L273,153L287,143L297,127L297,121L299,119L299,103L301,101L301,87L303,85L303,75L307,67L311,69L477,69L493,63L501,63L513,69L535,69L537,71L659,69L661,67L677,67L679,65L683,65L689,57L691,47L79,47Z"/><path fill-rule="evenodd" fill="#c7c7c7" d="M1887,465L1881,465L1863,481L1857,483L1833,463L1821,457L1809,457L1789,467L1781,467L1773,463L1753,459L1733,449L1703,451L1689,443L1683,429L1679,425L1669,425L1667,423L1667,413L1665,411L1665,403L1663,399L1655,395L1651,395L1641,399L1637,403L1633,411L1633,417L1629,421L1623,421L1607,433L1591,427L1561,429L1551,423L1509,425L1495,419L1485,419L1471,427L1469,425L1429,425L1411,435L1407,435L1399,439L1379,441L1377,443L1357,443L1361,463L1363,465L1363,471L1369,487L1369,493L1367,495L1365,495L1361,489L1357,469L1351,453L1351,445L1349,443L1327,443L1325,445L1309,445L1307,447L1279,449L1273,453L1273,477L1275,479L1277,491L1287,509L1289,529L1291,531L1289,533L1289,537L1275,553L1271,549L1261,545L1251,535L1243,531L1239,531L1233,527L1217,523L1207,513L1199,499L1187,491L1177,491L1165,497L1143,515L1105,533L1097,545L1095,563L1077,579L1053,563L1029,551L1019,549L1007,543L989,543L987,545L971,545L969,547L963,547L949,557L935,563L931,567L927,567L925,565L911,565L899,553L891,549L885,537L877,533L867,533L861,537L843,537L841,535L819,535L817,537L807,531L789,531L775,521L761,515L735,517L733,515L711,511L703,507L693,507L685,515L671,517L669,519L659,519L657,521L645,511L625,509L621,513L619,519L611,523L603,535L587,547L585,567L583,569L583,577L581,579L579,589L1887,589ZM79,399L79,589L537,589L537,583L531,569L521,563L493,563L491,565L485,565L483,563L477,563L463,555L439,531L437,499L433,501L429,501L427,499L409,499L407,501L397,501L395,503L385,503L383,505L371,505L369,507L353,507L351,509L333,509L331,511L315,511L313,513L291,513L289,515L251,517L249,519L243,519L241,521L225,525L219,519L219,515L225,509L247,505L247,503L219,503L217,501L201,499L179,491L163,475L145,437L113,395L97,395L95,397L83,397ZM79,345L79,391L105,389L107,387L93,371L85,359ZM119,225L115,227L105,227L103,229L79,231L79,237L99,233ZM923,57L925,55L927,59L925,61ZM1731,47L1733,73L1737,79L1747,83L1755,83L1757,85L1853,85L1855,87L1887,87L1887,47ZM1521,51L1533,83L1551,95L1559,95L1561,93L1579,93L1581,91L1597,91L1599,89L1627,87L1645,77L1655,55L1661,47L1521,47ZM1275,47L1277,49L1279,89L1283,95L1299,103L1345,103L1347,101L1357,101L1359,99L1369,99L1371,97L1421,95L1423,93L1441,93L1443,91L1457,91L1459,89L1477,87L1497,75L1503,69L1517,47ZM1019,135L1035,151L1053,153L1055,155L1065,155L1067,157L1121,155L1123,153L1131,153L1141,149L1149,149L1151,147L1157,147L1165,143L1171,143L1173,141L1183,139L1201,123L1201,115L1193,107L1187,103L1173,103L1171,101L1159,101L1157,99L1147,99L1145,97L1117,93L1113,89L1113,83L1117,79L1127,79L1129,81L1137,81L1139,83L1149,83L1151,85L1161,85L1163,87L1177,87L1179,89L1191,89L1193,91L1205,91L1211,95L1217,95L1223,89L1223,83L1225,81L1227,71L1231,67L1235,67L1243,63L1249,57L1251,47L1027,47L1031,67L1019,77ZM699,47L701,53L717,71L717,73L727,83L753,101L771,103L773,105L783,105L785,107L795,107L797,109L827,109L829,111L863,111L865,109L879,109L881,107L901,105L913,99L929,81L929,75L925,65L927,61L935,71L943,75L959,75L961,73L971,73L973,71L1001,71L1009,67L1019,53L1019,47L923,47L925,49L925,55L923,57L919,47ZM79,221L83,221L85,219L99,219L101,217L113,217L115,215L121,215L123,213L143,209L159,201L171,187L169,185L169,179L167,177L167,171L165,169L165,163L161,153L159,135L157,133L157,113L155,111L153,87L151,85L151,69L149,67L149,49L151,47L155,51L157,83L159,85L159,97L161,99L163,121L167,127L167,135L169,137L169,145L171,147L171,155L173,157L177,179L183,187L199,173L215,165L221,165L229,161L235,161L237,159L243,159L245,157L255,155L281,139L287,131L293,117L293,109L295,107L297,89L301,79L301,71L305,65L309,67L479,67L495,61L501,61L511,67L533,67L535,69L661,67L663,65L679,65L683,63L689,53L689,47L79,47Z"/><path fill-rule="evenodd" fill="#cccccc" d="M79,399L79,589L535,589L531,575L521,567L479,569L467,563L439,535L437,501L421,501L419,499L413,499L411,501L399,501L397,503L387,503L385,505L375,505L373,507L337,509L335,511L319,511L317,513L297,513L295,515L253,517L251,519L245,519L243,521L237,521L235,523L225,525L219,521L219,513L225,509L237,507L223,507L221,505L207,505L205,503L187,501L185,499L175,497L165,491L151,477L135,445L115,423L115,421L91,397L87,399ZM1887,465L1883,465L1859,485L1831,463L1819,457L1811,457L1787,469L1771,463L1751,459L1731,449L1721,449L1719,451L1709,451L1705,453L1693,447L1687,441L1683,431L1677,425L1671,425L1669,427L1667,425L1667,413L1665,411L1665,403L1663,399L1655,395L1651,395L1641,399L1637,403L1633,411L1633,417L1629,421L1625,421L1609,433L1603,433L1589,427L1579,427L1577,429L1567,429L1563,431L1549,423L1535,423L1533,425L1507,425L1493,419L1487,419L1473,427L1469,427L1467,425L1431,425L1413,435L1409,435L1401,439L1381,441L1379,443L1357,443L1359,453L1361,455L1361,461L1365,469L1367,483L1369,485L1369,493L1367,495L1361,491L1349,443L1329,443L1327,445L1311,445L1309,447L1281,449L1273,455L1273,475L1275,477L1277,489L1287,507L1291,533L1289,535L1289,539L1275,555L1269,549L1259,545L1249,535L1241,531L1237,531L1231,527L1215,523L1207,515L1199,501L1193,495L1185,491L1179,491L1167,497L1145,515L1107,533L1101,539L1097,547L1095,565L1079,579L1073,579L1051,563L1027,551L1017,549L1005,543L991,543L989,545L973,545L971,547L965,547L951,557L937,563L929,569L923,565L909,565L889,547L887,541L883,537L875,533L869,533L859,539L855,537L841,537L839,535L821,535L819,537L815,537L805,531L795,531L791,533L773,521L759,515L751,515L741,519L739,517L709,511L701,507L695,507L687,515L655,521L643,511L627,509L621,517L607,529L605,535L587,549L585,569L583,571L583,579L579,589L1887,589ZM79,385L79,391L85,391ZM1733,47L1735,77L1743,81L1751,81L1753,83L1849,83L1851,85L1887,85L1887,47ZM1523,47L1523,55L1525,57L1533,83L1547,93L1563,93L1565,91L1583,91L1585,89L1601,89L1603,87L1631,85L1645,77L1655,55L1659,51L1659,47ZM1277,47L1277,51L1279,53L1279,73L1281,75L1281,93L1295,101L1349,101L1351,99L1361,99L1363,97L1373,97L1375,95L1425,93L1427,91L1445,91L1447,89L1473,87L1475,85L1481,85L1497,75L1515,51L1515,47ZM1021,137L1033,149L1045,151L1047,153L1069,155L1071,157L1117,155L1119,153L1127,153L1137,149L1153,147L1161,143L1167,143L1169,141L1185,137L1199,125L1199,121L1201,119L1199,117L1199,113L1189,105L1183,105L1181,103L1167,103L1165,101L1155,101L1153,99L1119,95L1115,93L1111,87L1113,81L1121,77L1123,79L1143,81L1145,83L1155,83L1157,85L1167,85L1169,87L1197,89L1199,91L1207,91L1213,95L1221,91L1225,71L1229,67L1245,61L1249,55L1251,47L1027,47L1029,49L1031,67L1021,75L1021,79L1019,81L1019,131L1021,133ZM925,47L927,49L927,55L933,65L943,71L957,71L959,69L967,69L969,67L999,67L1001,65L1005,65L1015,55L1015,51L1017,49L1017,47ZM701,47L701,51L717,69L717,71L729,83L751,99L769,101L771,103L781,103L783,105L793,105L795,107L865,109L867,107L895,105L911,99L927,83L925,65L917,47ZM79,221L83,219L97,219L99,217L111,217L121,213L129,213L135,209L155,203L169,191L169,181L167,179L167,173L165,171L165,165L161,155L161,147L159,145L159,137L157,135L157,117L155,115L155,103L153,101L153,89L151,87L151,73L149,71L149,55L147,53L147,49L149,47L153,47L155,49L155,61L157,63L157,79L159,81L163,121L167,125L167,133L169,135L173,163L177,171L179,183L189,171L203,161L207,161L215,157L223,157L225,155L233,155L235,153L247,151L253,147L261,145L273,137L285,121L285,117L289,109L289,103L291,101L291,95L293,93L293,89L297,81L297,75L299,73L299,67L301,65L311,65L313,67L475,67L477,65L483,65L499,59L515,67L537,67L539,69L657,67L659,65L675,65L677,63L681,63L685,59L689,47L79,47Z"/><path fill-rule="evenodd" fill="#d1d1d1" d="M79,411L79,589L533,589L529,579L521,571L501,571L499,573L481,575L465,567L437,537L435,501L401,501L399,503L389,503L387,505L377,505L375,507L361,507L359,509L341,509L339,511L301,513L299,515L277,515L275,517L255,517L253,519L223,525L219,521L219,513L223,509L227,509L207,509L205,507L181,505L179,503L167,501L147,489L133,473L127,461L115,445L81,411ZM1887,465L1881,467L1863,483L1857,485L1833,465L1817,457L1813,457L1803,463L1799,463L1789,469L1785,469L1769,463L1749,459L1729,449L1703,453L1691,447L1687,443L1679,427L1675,425L1669,427L1667,425L1667,413L1665,411L1665,403L1663,399L1655,395L1651,395L1641,399L1637,403L1633,411L1633,417L1629,423L1627,421L1607,435L1587,427L1561,431L1547,423L1537,423L1535,425L1505,425L1489,419L1475,427L1467,427L1465,425L1433,425L1415,435L1411,435L1403,439L1383,441L1381,443L1359,443L1361,459L1363,461L1367,481L1371,489L1371,493L1367,497L1361,493L1357,473L1355,471L1351,451L1349,449L1349,443L1331,443L1329,445L1313,445L1311,447L1283,449L1275,453L1273,457L1273,473L1275,475L1277,487L1287,505L1291,535L1275,555L1271,551L1261,547L1251,537L1229,527L1213,523L1197,499L1183,491L1165,499L1143,517L1105,535L1097,549L1095,565L1077,581L1053,565L1025,551L1015,549L1003,543L967,547L949,559L935,565L931,569L927,569L921,565L909,565L899,555L893,553L889,549L885,539L873,533L861,539L855,539L853,537L839,537L837,535L813,537L803,531L789,533L775,523L757,515L739,519L737,517L707,511L699,507L693,509L689,515L675,517L673,519L663,519L657,523L649,515L641,511L629,509L623,513L621,519L615,523L597,543L589,547L587,557L585,559L583,581L579,589L1887,589ZM1733,47L1735,75L1739,79L1743,79L1745,81L1753,81L1755,83L1851,83L1853,85L1887,85L1887,47ZM1523,53L1525,55L1533,81L1549,93L1561,93L1563,91L1581,91L1583,89L1599,89L1601,87L1629,85L1641,79L1645,75L1659,47L1523,47ZM1277,47L1279,51L1281,91L1285,95L1297,101L1347,101L1349,99L1359,99L1361,97L1371,97L1373,95L1423,93L1425,91L1443,91L1445,89L1471,87L1473,85L1479,85L1495,75L1503,67L1515,49L1515,47ZM1021,135L1035,149L1053,151L1055,153L1065,153L1067,155L1121,153L1123,151L1131,151L1141,147L1149,147L1151,145L1157,145L1165,141L1171,141L1173,139L1183,137L1199,123L1199,115L1187,105L1175,105L1173,103L1161,103L1159,101L1149,101L1147,99L1137,99L1135,97L1117,95L1111,89L1111,83L1117,77L1125,77L1127,79L1149,81L1151,83L1159,83L1161,85L1175,85L1177,87L1189,87L1191,89L1205,89L1211,93L1217,93L1221,89L1225,69L1231,65L1235,65L1243,61L1249,53L1249,47L1029,47L1033,67L1021,77ZM929,47L931,57L943,67L955,67L965,63L997,63L1007,59L1013,51L1013,47ZM701,47L703,49L703,53L719,71L719,73L727,81L749,97L761,99L763,101L797,105L799,107L861,109L863,107L891,105L913,97L925,85L925,81L927,79L917,47ZM79,221L81,219L95,219L97,217L109,217L111,215L115,215L133,205L143,203L155,197L169,185L169,181L165,173L165,167L163,165L163,159L161,157L157,129L155,127L157,119L155,117L155,105L153,103L151,77L149,75L149,59L147,57L147,49L149,47L153,47L155,49L163,117L169,133L169,141L171,143L171,151L173,153L173,161L175,163L177,175L193,157L205,151L239,147L267,133L273,127L283,109L287,93L291,87L291,83L299,63L307,63L309,65L479,65L481,63L493,61L499,57L511,65L533,65L535,67L661,65L663,63L679,63L685,57L687,47L79,47Z"/><path fill-rule="evenodd" fill="#d6d6d6" d="M79,441L79,589L529,589L527,583L517,575L507,575L505,577L499,577L489,581L479,581L465,573L453,561L453,559L439,543L439,539L437,537L435,501L405,501L403,503L391,503L389,505L365,507L363,509L345,509L343,511L325,511L323,513L305,513L303,515L283,515L281,517L259,517L257,519L249,519L247,521L241,521L231,525L223,525L217,519L217,515L219,513L203,513L201,511L181,511L179,509L169,509L167,507L161,507L141,499L129,491L105,467L105,465ZM1887,467L1883,467L1859,487L1831,465L1819,459L1811,459L1787,471L1771,465L1751,461L1731,451L1721,451L1719,453L1709,453L1705,455L1689,447L1681,431L1677,427L1669,427L1667,425L1667,413L1665,411L1665,403L1663,399L1655,395L1651,395L1641,399L1637,403L1633,411L1633,417L1629,423L1625,423L1609,435L1603,435L1589,429L1579,429L1577,431L1567,431L1563,433L1549,425L1535,425L1533,427L1507,427L1493,421L1487,421L1473,429L1469,429L1467,427L1431,427L1413,437L1409,437L1401,441L1381,443L1379,445L1359,445L1361,449L1361,457L1367,473L1367,479L1371,487L1371,495L1369,497L1363,497L1361,495L1359,483L1353,467L1353,461L1351,459L1351,453L1349,451L1349,445L1329,445L1327,447L1311,447L1309,449L1281,451L1275,455L1275,475L1277,477L1279,489L1289,507L1293,533L1291,535L1291,539L1275,557L1269,551L1259,547L1249,537L1241,533L1237,533L1231,529L1215,525L1205,515L1197,501L1185,493L1179,493L1167,499L1145,517L1107,535L1099,547L1097,565L1079,581L1073,581L1051,565L1027,553L1017,551L1005,545L991,545L989,547L973,547L971,549L965,549L951,559L937,565L929,571L923,567L909,567L897,555L889,551L883,539L875,535L869,535L859,541L855,539L841,539L839,537L821,537L819,539L815,539L805,533L795,533L791,535L773,523L759,517L751,517L741,521L739,519L709,513L701,509L695,509L687,517L655,523L643,513L627,511L623,515L621,521L617,523L599,543L593,545L589,549L587,569L585,571L585,579L581,589L1887,589ZM1735,47L1737,77L1741,77L1743,79L1751,79L1753,81L1849,81L1851,83L1887,83L1887,47ZM1525,47L1525,55L1527,57L1533,79L1537,85L1547,91L1563,91L1565,89L1583,89L1585,87L1601,87L1603,85L1631,83L1643,77L1653,55L1657,51L1657,47ZM1279,47L1279,51L1281,53L1281,73L1283,75L1283,93L1295,99L1349,99L1351,97L1361,97L1363,95L1373,95L1375,93L1425,91L1427,89L1445,89L1447,87L1473,85L1475,83L1481,83L1497,73L1513,51L1513,47ZM1021,131L1023,135L1039,149L1057,151L1059,153L1069,153L1071,155L1117,153L1119,151L1127,151L1137,147L1145,147L1147,145L1153,145L1161,141L1167,141L1169,139L1179,137L1187,133L1197,123L1199,119L1193,111L1181,105L1155,103L1153,101L1143,101L1141,99L1133,99L1131,97L1121,97L1119,95L1115,95L1111,91L1111,81L1115,77L1131,77L1133,79L1153,81L1155,83L1167,83L1169,85L1181,85L1183,87L1197,87L1199,89L1207,89L1213,93L1217,91L1221,85L1221,79L1223,77L1225,67L1243,59L1249,47L1029,47L1031,49L1031,57L1033,59L1033,69L1027,73L1021,81ZM931,47L933,55L945,63L959,61L967,57L1001,57L1009,51L1009,47ZM703,47L705,53L721,71L721,73L749,95L759,97L761,99L795,103L797,105L863,107L865,105L893,103L913,95L925,81L923,67L915,47ZM153,47L157,57L157,73L159,75L159,89L161,91L161,101L163,103L163,115L167,123L167,131L169,133L169,141L171,143L171,151L173,153L175,167L183,155L193,145L197,145L199,143L225,143L227,141L237,141L255,133L263,127L273,115L281,99L281,95L293,73L293,69L297,61L307,61L309,63L479,63L481,61L493,59L499,55L511,63L533,63L535,65L605,65L607,63L661,63L663,61L679,61L685,53L685,47ZM149,47L79,47L79,219L109,217L133,205L139,199L153,193L161,187L167,179L163,159L161,157L157,129L155,127L155,123L157,121L155,119L153,95L151,93L151,81L149,79L149,63L147,61L147,49Z"/><path fill-rule="evenodd" fill="#dbdbdb" d="M79,481L79,589L525,589L515,581L507,581L487,589L477,589L473,587L451,565L437,545L437,539L435,537L433,501L407,501L405,503L381,505L379,507L369,507L367,509L329,511L327,513L311,513L309,515L287,515L285,517L263,517L261,519L251,519L249,521L243,521L233,525L223,525L217,519L217,515L215,517L161,515L159,513L147,513L145,511L131,509L97,493ZM1887,467L1883,467L1859,487L1831,465L1819,459L1811,459L1787,471L1771,465L1751,461L1731,451L1721,451L1719,453L1709,453L1705,455L1689,447L1681,431L1677,427L1671,427L1669,429L1665,425L1663,401L1655,397L1651,397L1639,403L1631,425L1629,423L1625,423L1609,435L1603,435L1589,429L1579,429L1577,431L1567,431L1563,433L1549,425L1535,425L1533,427L1507,427L1493,421L1487,421L1473,429L1469,429L1467,427L1431,427L1413,437L1409,437L1401,441L1381,443L1379,445L1359,445L1361,447L1367,477L1371,485L1371,495L1369,497L1363,497L1359,491L1359,485L1355,477L1355,471L1353,469L1353,463L1351,461L1351,455L1347,445L1329,445L1327,447L1311,447L1309,449L1281,451L1275,455L1275,475L1277,477L1279,489L1289,507L1293,533L1291,535L1291,539L1275,557L1269,551L1259,547L1249,537L1241,533L1237,533L1231,529L1215,525L1205,515L1197,501L1185,493L1179,493L1167,499L1145,517L1107,535L1099,547L1097,565L1079,581L1073,581L1051,565L1027,553L1017,551L1005,545L991,545L989,547L973,547L971,549L965,549L951,559L937,565L929,571L923,567L909,567L897,555L889,551L883,539L875,535L869,535L859,541L855,539L841,539L839,537L821,537L819,539L815,539L805,533L795,533L791,535L773,523L759,517L751,517L741,521L739,519L709,513L701,509L695,509L687,517L655,523L643,513L627,511L623,515L621,523L617,525L599,543L593,545L589,549L587,569L585,571L585,579L581,589L1887,589ZM1097,79L1099,77L1103,79L1101,81ZM1087,77L1089,75L1093,77L1091,79ZM1073,75L1075,73L1079,73L1081,75L1079,77L1075,77ZM1061,73L1063,71L1067,73L1065,75ZM1047,71L1049,69L1053,69L1055,71L1053,73L1049,73ZM1735,47L1737,75L1745,79L1753,79L1755,81L1851,81L1853,83L1887,83L1887,47ZM1525,53L1527,55L1535,81L1549,91L1561,91L1563,89L1581,89L1583,87L1599,87L1601,85L1629,83L1643,75L1657,47L1525,47ZM1279,47L1281,51L1283,91L1297,99L1347,99L1349,97L1359,97L1361,95L1371,95L1373,93L1423,91L1425,89L1443,89L1445,87L1471,85L1473,83L1479,83L1495,73L1513,49L1513,47ZM1023,133L1037,147L1055,149L1057,151L1067,151L1069,153L1119,151L1121,149L1129,149L1139,145L1147,145L1149,143L1155,143L1163,139L1169,139L1171,137L1181,135L1197,121L1197,117L1185,107L1177,107L1175,105L1163,105L1161,103L1149,103L1147,101L1139,101L1137,99L1117,97L1109,89L1109,83L1107,81L1109,79L1113,79L1117,75L1125,75L1127,77L1135,77L1137,79L1147,79L1149,81L1159,81L1161,83L1173,83L1175,85L1187,85L1189,87L1203,87L1205,89L1215,91L1219,87L1223,67L1229,63L1233,63L1241,59L1245,55L1247,47L1031,47L1033,51L1033,59L1035,61L1035,69L1023,79ZM935,47L935,51L943,57L953,57L969,49L979,49L981,51L999,51L1003,49L1003,47ZM705,47L705,51L721,69L721,71L729,79L751,95L769,97L771,99L781,99L783,101L793,101L795,103L865,105L867,103L895,101L911,95L923,83L921,65L913,47ZM155,47L155,51L157,53L157,69L159,71L159,85L161,87L161,99L163,101L163,113L165,115L165,121L169,131L173,159L177,153L179,145L189,133L199,131L201,133L215,133L217,135L233,135L251,127L259,121L269,109L279,89L283,85L291,69L291,65L295,61L309,61L311,63L477,63L479,61L491,59L499,53L505,59L513,63L535,63L537,65L603,65L605,63L659,63L661,61L677,61L685,51L685,47ZM147,47L79,47L79,219L107,217L135,203L143,193L149,191L165,175L165,169L161,159L161,151L159,149L159,141L157,139L157,131L155,129L155,111L153,109L153,97L151,95L151,83L149,81Z"/><path fill-rule="evenodd" fill="#e0e0e0" d="M465,589L451,573L439,553L439,547L435,537L433,503L429,503L427,501L409,501L407,503L397,503L395,505L385,505L383,507L353,509L351,511L333,511L331,513L315,513L313,515L291,515L289,517L251,519L249,521L229,525L227,527L221,525L217,519L213,519L211,521L165,521L163,523L117,523L115,521L103,521L101,519L93,519L91,517L79,515L79,589ZM1887,467L1877,473L1859,489L1829,465L1817,459L1813,459L1803,465L1799,465L1789,471L1785,471L1769,465L1749,461L1729,451L1703,455L1691,449L1685,443L1681,433L1675,427L1669,429L1665,425L1663,401L1655,397L1651,397L1639,403L1631,425L1627,423L1609,437L1587,429L1561,433L1547,425L1537,425L1535,427L1505,427L1489,421L1475,429L1467,429L1465,427L1433,427L1415,437L1411,437L1403,441L1383,443L1381,445L1361,445L1365,467L1367,469L1371,489L1373,491L1367,499L1359,493L1359,487L1355,479L1355,473L1353,471L1353,465L1349,457L1349,449L1347,445L1331,445L1329,447L1313,447L1311,449L1283,451L1275,457L1275,473L1277,475L1279,487L1289,505L1293,535L1291,537L1291,541L1275,559L1267,551L1257,547L1247,537L1239,533L1235,533L1229,529L1213,525L1205,517L1197,503L1191,497L1183,493L1169,499L1147,517L1109,535L1103,541L1099,549L1097,567L1085,579L1077,583L1071,581L1049,565L1025,553L1015,551L1003,545L967,549L953,559L939,565L931,573L921,567L907,567L887,549L885,543L881,539L873,535L861,541L855,541L853,539L839,539L837,537L813,539L803,533L789,535L771,523L757,517L739,521L737,519L707,513L697,509L689,517L675,519L673,521L663,521L655,525L645,515L629,511L623,517L621,523L601,543L595,545L589,551L585,581L581,589L1887,589ZM187,93L189,95L189,103L187,105L185,103L185,95ZM1095,79L1097,77L1103,77L1105,79L1103,81L1097,81ZM1083,77L1085,75L1093,75L1095,77L1093,79L1085,79ZM1071,75L1073,73L1081,73L1083,75L1081,77L1073,77ZM1059,73L1061,71L1069,71L1071,73L1069,75L1061,75ZM1045,71L1047,69L1055,69L1057,71L1055,73L1047,73ZM185,53L187,55L187,59L185,61L183,59L183,55ZM1735,47L1737,73L1741,77L1745,77L1747,79L1755,79L1757,81L1853,81L1855,83L1887,83L1887,47ZM1525,51L1527,53L1535,79L1551,91L1559,91L1561,89L1579,89L1581,87L1597,87L1599,85L1627,83L1639,77L1643,73L1653,51L1657,47L1525,47ZM1279,47L1281,49L1283,89L1287,93L1299,99L1345,99L1347,97L1357,97L1359,95L1369,95L1371,93L1421,91L1423,89L1441,89L1443,87L1469,85L1471,83L1477,83L1493,73L1501,65L1513,47ZM1023,131L1025,135L1039,147L1057,149L1059,151L1069,151L1071,153L1117,151L1119,149L1127,149L1137,145L1145,145L1147,143L1153,143L1161,139L1167,139L1169,137L1179,135L1187,131L1195,123L1197,119L1193,113L1183,107L1157,105L1155,103L1145,103L1143,101L1133,101L1131,99L1121,99L1119,97L1115,97L1109,91L1109,83L1105,81L1107,79L1111,79L1115,75L1129,75L1131,77L1141,77L1143,79L1153,79L1155,81L1165,81L1167,83L1207,87L1213,91L1217,89L1219,85L1219,79L1221,77L1223,67L1227,63L1231,63L1243,57L1247,47L1031,47L1033,49L1033,57L1035,59L1035,67L1037,69L1027,75L1023,81ZM941,47L943,49L953,49L957,47ZM705,47L721,69L731,79L753,95L771,97L773,99L783,99L785,101L795,101L797,103L863,105L865,103L893,101L909,95L923,81L921,67L913,47ZM155,47L157,51L157,65L159,67L161,97L163,99L163,109L165,111L165,121L169,129L171,147L175,131L189,119L199,119L201,121L207,121L223,127L233,127L249,119L271,95L287,71L289,63L293,59L307,59L309,61L479,61L481,59L493,57L497,51L503,57L511,61L533,61L535,63L605,63L607,61L661,61L663,59L679,59L683,53L683,47ZM147,47L79,47L79,219L105,217L133,203L139,197L141,191L147,187L163,169L161,153L159,151L159,143L157,141L157,133L155,131L155,113L153,111L153,101L151,99L149,69L147,67L147,53L145,51Z"/><path fill-rule="evenodd" fill="#e6e6e6" d="M455,587L441,565L441,557L439,555L439,549L435,539L433,503L421,503L419,501L399,503L397,505L387,505L385,507L375,507L373,509L357,509L355,511L337,511L335,513L319,513L317,515L297,515L295,517L253,519L251,521L245,521L229,527L223,527L219,523L215,523L213,525L201,525L199,527L177,527L175,529L167,529L165,531L159,531L157,533L151,533L149,535L143,535L141,537L135,537L125,541L117,541L115,543L107,543L105,545L97,545L95,547L85,547L83,549L79,549L79,589L455,589ZM1887,469L1883,469L1859,489L1831,467L1819,461L1811,461L1787,473L1771,467L1751,463L1731,453L1721,453L1719,455L1709,455L1705,457L1689,449L1685,445L1677,429L1671,429L1669,431L1665,425L1663,403L1659,399L1651,397L1639,403L1635,411L1635,417L1631,427L1629,425L1625,425L1609,437L1603,437L1589,431L1579,431L1577,433L1567,433L1563,435L1549,427L1535,427L1533,429L1507,429L1493,423L1487,423L1473,431L1469,431L1467,429L1431,429L1413,439L1409,439L1401,443L1381,445L1379,447L1361,447L1363,457L1365,459L1365,465L1369,473L1371,487L1373,489L1373,495L1369,499L1363,499L1359,495L1347,447L1329,447L1327,449L1311,449L1309,451L1281,453L1277,455L1277,475L1279,477L1281,489L1291,507L1295,533L1293,535L1293,539L1281,551L1277,559L1269,553L1259,549L1249,539L1241,535L1237,535L1231,531L1211,525L1195,501L1185,495L1179,495L1167,501L1145,519L1107,537L1101,547L1099,565L1079,583L1073,583L1051,567L1027,555L1017,553L1005,547L991,547L989,549L973,549L971,551L965,551L951,561L937,567L929,573L923,569L909,569L897,557L891,555L887,551L883,541L875,537L869,537L859,543L855,541L841,541L839,539L821,539L819,541L815,541L805,535L795,535L791,537L773,525L759,519L751,519L741,523L739,521L709,515L701,511L695,511L693,515L687,519L655,525L643,515L627,513L623,519L623,523L599,545L591,549L589,569L587,571L587,579L583,589L1887,589ZM185,53L187,55L187,71L185,73L183,71L183,55ZM1737,47L1739,75L1743,75L1745,77L1753,77L1755,79L1851,79L1853,81L1887,81L1887,47ZM1527,53L1529,55L1537,81L1549,89L1561,89L1563,87L1581,87L1583,85L1599,85L1601,83L1629,81L1641,75L1655,47L1527,47ZM1281,47L1283,51L1285,91L1297,97L1347,97L1349,95L1359,95L1361,93L1371,93L1373,91L1423,89L1425,87L1443,87L1445,85L1471,83L1473,81L1479,81L1495,71L1511,49L1511,47ZM1025,133L1037,145L1055,147L1057,149L1067,149L1069,151L1119,149L1121,147L1129,147L1139,143L1147,143L1149,141L1155,141L1163,137L1169,137L1171,135L1181,133L1195,121L1195,117L1185,109L1179,109L1177,107L1163,107L1161,105L1151,105L1149,103L1139,103L1137,101L1129,101L1127,99L1117,99L1109,93L1107,83L1103,81L1083,79L1081,77L1071,77L1069,75L1057,75L1055,73L1045,73L1043,69L1045,67L1047,69L1059,69L1061,71L1095,75L1097,77L1105,77L1107,79L1117,73L1123,73L1125,75L1147,77L1149,79L1157,79L1159,81L1187,83L1189,85L1201,85L1203,87L1215,89L1217,87L1221,67L1225,63L1241,57L1245,51L1245,47L1033,47L1035,51L1035,59L1037,61L1037,69L1025,79ZM707,47L723,69L731,77L753,93L771,95L773,97L783,97L785,99L795,99L797,101L863,103L865,101L893,99L909,93L921,81L919,67L911,47ZM155,47L157,49L157,61L159,63L159,79L161,81L161,93L163,95L165,119L169,129L169,125L175,115L185,107L185,85L187,83L189,85L189,107L203,107L221,115L235,115L253,105L267,91L267,89L283,71L289,59L311,59L313,61L475,61L477,59L483,59L493,55L497,47L503,55L515,61L537,61L539,63L601,63L603,61L657,61L659,59L675,59L679,57L683,47ZM147,47L79,47L79,219L85,219L87,217L101,217L131,203L139,195L143,185L159,167L161,155L159,153L159,145L157,143L157,135L155,133L155,117L153,115L153,103L151,101L151,89L149,87L147,55L145,53L145,49Z"/><path fill-rule="evenodd" fill="#ebebeb" d="M449,589L443,577L439,573L439,555L437,553L437,547L433,537L431,503L403,503L401,505L389,505L387,507L361,509L359,511L341,511L339,513L301,515L299,517L277,517L275,519L255,519L253,521L239,523L231,527L217,527L207,531L187,533L185,535L179,535L167,541L163,541L139,553L135,557L117,565L105,573L91,587L91,589ZM1887,469L1877,475L1859,491L1829,467L1817,461L1813,461L1803,467L1799,467L1789,473L1785,473L1769,467L1749,463L1729,453L1703,457L1687,449L1679,433L1675,429L1671,431L1667,429L1665,425L1663,403L1659,399L1651,397L1639,403L1635,411L1633,425L1631,427L1627,425L1609,439L1587,431L1561,435L1547,427L1537,427L1535,429L1505,429L1489,423L1475,431L1467,431L1465,429L1433,429L1415,439L1411,439L1403,443L1383,445L1381,447L1361,447L1363,449L1365,463L1367,465L1371,485L1373,487L1373,495L1369,499L1363,499L1357,491L1357,485L1351,469L1347,447L1331,447L1329,449L1313,449L1311,451L1283,453L1277,457L1277,473L1279,475L1281,487L1291,505L1295,535L1293,537L1293,541L1281,553L1277,561L1275,561L1267,553L1257,549L1247,539L1239,535L1235,535L1229,531L1213,527L1203,517L1195,503L1183,495L1169,501L1147,519L1109,537L1101,549L1099,567L1085,581L1077,585L1071,583L1049,567L1025,555L1015,553L1003,547L967,551L953,561L939,567L931,575L921,569L907,569L895,557L887,553L881,541L873,537L861,543L855,543L853,541L839,541L837,539L813,541L803,535L789,537L771,525L757,519L739,523L737,521L707,515L697,511L689,519L675,521L673,523L663,523L655,527L645,517L629,513L625,517L623,525L601,545L595,547L591,551L587,581L583,589L1887,589ZM1737,47L1739,75L1743,75L1745,77L1753,77L1755,79L1851,79L1853,81L1887,81L1887,47ZM1527,53L1529,55L1537,81L1549,89L1561,89L1563,87L1581,87L1583,85L1599,85L1601,83L1629,81L1641,75L1655,47L1527,47ZM1281,47L1283,51L1285,91L1297,97L1347,97L1349,95L1359,95L1361,93L1371,93L1373,91L1423,89L1425,87L1443,87L1445,85L1471,83L1473,81L1479,81L1495,71L1511,49L1511,47ZM1025,131L1039,145L1057,147L1059,149L1069,149L1071,151L1117,149L1119,147L1127,147L1137,143L1145,143L1147,141L1153,141L1161,137L1167,137L1169,135L1179,133L1195,119L1183,109L1157,107L1155,105L1145,105L1143,103L1115,99L1107,91L1107,83L1093,81L1091,79L1081,79L1079,77L1067,77L1065,75L1045,73L1043,69L1045,67L1049,69L1061,69L1063,71L1087,73L1089,75L1097,75L1099,77L1107,77L1109,79L1115,73L1129,73L1131,75L1151,77L1153,79L1163,79L1165,81L1179,81L1181,83L1207,85L1213,89L1217,85L1221,65L1227,61L1231,61L1239,57L1243,53L1245,47L1033,47L1035,49L1035,57L1037,59L1037,67L1039,69L1025,81ZM707,47L733,77L755,93L773,95L775,97L785,97L787,99L797,99L799,101L861,103L863,101L891,99L907,93L921,79L917,63L909,47ZM501,47L501,51L513,59L535,59L537,61L659,59L661,57L677,57L681,51L681,47ZM155,47L157,49L157,59L159,61L159,75L161,77L161,91L163,93L165,117L165,113L171,103L185,91L185,85L183,83L183,55L185,53L187,55L187,71L189,73L189,91L197,91L221,101L241,101L263,87L277,73L287,57L309,57L311,59L477,59L479,57L491,55L495,49L495,47ZM147,47L79,47L79,219L83,219L85,217L99,217L133,201L137,197L143,183L147,179L157,159L157,151L159,147L157,145L157,137L155,135L155,119L153,117L153,105L151,103L149,77L147,75L147,59L145,57L145,49Z"/><path fill-rule="evenodd" fill="#f0f0f0" d="M431,503L405,503L403,505L379,507L377,509L365,509L363,511L345,511L343,513L305,515L303,517L283,517L281,519L259,519L257,521L249,521L247,523L233,525L231,527L227,527L223,531L219,531L213,535L197,539L191,543L187,543L179,547L125,589L441,589L439,557L437,555L437,549L433,539ZM1887,469L1877,475L1859,491L1829,467L1817,461L1813,461L1803,467L1799,467L1789,473L1785,473L1769,467L1749,463L1729,453L1703,457L1687,449L1679,433L1675,429L1671,431L1667,429L1665,425L1663,403L1659,399L1651,397L1639,403L1635,411L1633,425L1631,427L1627,425L1609,439L1587,431L1561,435L1547,427L1537,427L1535,429L1505,429L1489,423L1475,431L1467,431L1465,429L1433,429L1415,439L1411,439L1403,443L1383,445L1381,447L1363,447L1363,453L1367,461L1371,483L1375,491L1373,497L1367,501L1361,499L1357,493L1355,479L1351,471L1351,465L1349,463L1349,457L1345,447L1331,447L1329,449L1313,449L1311,451L1283,453L1277,457L1277,473L1279,475L1281,487L1291,505L1295,535L1293,537L1293,541L1281,553L1277,561L1275,561L1267,553L1257,549L1247,539L1239,535L1235,535L1229,531L1213,527L1203,517L1195,503L1183,495L1169,501L1147,519L1109,537L1101,549L1099,567L1085,581L1077,585L1071,583L1049,567L1025,555L1015,553L1003,547L967,551L953,561L939,567L931,575L921,569L907,569L895,557L887,553L881,541L873,537L861,543L855,543L853,541L839,541L837,539L813,541L803,535L789,537L771,525L757,519L739,523L737,521L707,515L697,511L689,519L675,521L673,523L663,523L655,527L645,517L629,513L625,517L621,529L613,533L601,545L595,547L591,551L587,581L583,589L1887,589ZM1737,47L1739,73L1747,77L1755,77L1757,79L1853,79L1855,81L1887,81L1887,47ZM1527,51L1529,53L1537,79L1551,89L1559,89L1561,87L1579,87L1581,85L1597,85L1599,83L1627,81L1641,73L1651,51L1655,47L1527,47ZM1281,47L1283,49L1285,89L1299,97L1345,97L1347,95L1357,95L1359,93L1369,93L1371,91L1421,89L1423,87L1441,87L1443,85L1469,83L1471,81L1477,81L1493,71L1511,47ZM1027,133L1037,143L1043,143L1045,145L1055,145L1057,147L1067,147L1069,149L1095,149L1097,147L1119,147L1121,145L1129,145L1131,143L1147,141L1149,139L1155,139L1163,135L1169,135L1171,133L1181,131L1193,121L1193,117L1185,111L1119,101L1117,99L1113,99L1107,93L1105,83L1091,81L1089,79L1077,79L1075,77L1053,75L1051,73L1045,73L1043,69L1045,67L1051,67L1053,69L1077,71L1079,73L1089,73L1091,75L1099,75L1101,77L1109,77L1113,73L1123,71L1125,73L1133,73L1135,75L1145,75L1147,77L1157,77L1159,79L1169,79L1171,81L1199,83L1201,85L1215,87L1219,67L1225,61L1241,55L1243,47L1035,47L1037,51L1037,59L1039,61L1039,71L1027,79ZM709,47L725,69L753,91L771,93L773,95L783,95L785,97L795,97L797,99L863,101L865,99L893,97L909,91L919,81L917,67L909,47ZM503,47L503,51L513,57L535,57L537,59L659,57L661,55L677,55L679,51L679,47ZM157,55L159,57L159,73L161,75L161,89L163,91L163,97L169,83L177,75L183,73L183,55L185,53L189,61L189,73L195,73L227,89L245,89L269,75L277,67L285,53L287,55L309,55L311,57L477,57L479,55L491,53L493,47L157,47ZM145,47L79,47L79,219L83,217L97,217L99,215L103,215L131,201L137,195L143,181L147,177L153,165L153,131L155,129L153,127L153,123L155,121L153,119L151,95L149,93L149,81L147,79Z"/><path fill-rule="evenodd" fill="#f5f5f5" d="M429,503L407,503L405,505L395,505L393,507L383,507L381,509L349,511L347,513L329,513L327,515L311,515L309,517L263,519L261,521L251,521L249,523L235,525L233,527L229,527L229,533L227,535L213,541L193,555L181,571L163,589L439,589L437,557L435,555L435,549L431,539ZM1887,471L1877,477L1859,493L1829,469L1817,463L1813,463L1803,469L1799,469L1789,475L1785,475L1769,469L1749,465L1729,455L1703,459L1687,451L1683,447L1675,431L1671,433L1667,431L1663,405L1659,399L1651,397L1639,403L1635,411L1633,427L1631,429L1627,427L1609,441L1587,433L1561,437L1547,429L1537,429L1535,431L1505,431L1489,425L1475,433L1467,433L1465,431L1433,431L1415,441L1411,441L1403,445L1383,447L1381,449L1363,449L1365,451L1369,473L1375,489L1375,495L1369,501L1363,501L1357,495L1355,481L1351,473L1351,467L1349,465L1349,459L1345,449L1331,449L1329,451L1313,451L1311,453L1283,455L1279,457L1279,473L1281,475L1283,487L1293,505L1297,535L1295,537L1295,541L1283,553L1277,565L1275,565L1267,555L1257,551L1247,541L1239,537L1235,537L1229,533L1209,527L1193,503L1183,497L1169,503L1147,521L1109,539L1103,549L1101,567L1085,583L1077,587L1071,585L1049,569L1025,557L1015,555L1003,549L967,553L953,563L939,569L935,575L931,577L921,571L907,571L895,559L889,557L885,553L881,543L873,539L861,545L855,545L853,543L839,543L837,541L813,543L803,537L789,539L771,527L757,521L739,525L737,523L707,517L697,513L695,517L689,521L675,523L673,525L663,525L655,529L645,519L629,515L625,521L623,529L619,533L613,535L601,547L593,551L589,581L585,589L1887,589ZM1739,47L1741,73L1745,73L1747,75L1755,75L1757,77L1853,77L1855,79L1887,79L1887,47ZM1529,51L1531,53L1539,79L1551,87L1559,87L1561,85L1579,85L1581,83L1597,83L1599,81L1627,79L1639,73L1649,51L1653,47L1529,47ZM1283,47L1285,49L1287,89L1299,95L1345,95L1347,93L1357,93L1359,91L1369,91L1371,89L1421,87L1423,85L1441,85L1443,83L1469,81L1471,79L1477,79L1493,69L1509,47ZM1027,131L1039,143L1057,145L1059,147L1069,147L1071,149L1117,147L1119,145L1127,145L1137,141L1145,141L1147,139L1153,139L1161,135L1167,135L1169,133L1179,131L1193,119L1183,111L1159,109L1157,107L1147,107L1145,105L1135,105L1133,103L1115,101L1107,95L1105,85L1103,83L1089,81L1087,79L1063,77L1061,75L1049,75L1047,73L1043,73L1041,69L1043,67L1053,67L1055,69L1067,69L1069,71L1091,73L1093,75L1101,75L1103,77L1107,77L1115,71L1127,71L1129,73L1151,75L1153,77L1161,77L1163,79L1177,79L1179,81L1191,81L1193,83L1207,83L1213,87L1215,85L1219,65L1223,61L1239,55L1243,47L1035,47L1037,49L1037,57L1039,59L1039,67L1041,71L1027,81ZM709,47L733,75L755,91L773,93L775,95L785,95L787,97L797,97L799,99L861,101L863,99L891,97L907,91L919,79L915,63L907,47ZM503,47L507,53L515,57L537,57L539,59L657,57L659,55L675,55L679,49L679,47ZM157,51L159,53L159,69L161,71L163,63L171,53L177,49L185,49L197,55L211,67L229,77L233,77L235,79L247,79L249,77L259,75L271,67L281,53L287,53L289,55L311,55L313,57L475,57L477,55L489,53L493,47L157,47ZM145,47L79,47L79,219L81,217L91,217L93,215L103,213L131,199L135,195L141,181L145,177L151,165L151,145L149,143L149,105L151,103L151,97L149,95L147,67L145,65Z"/><path fill-rule="evenodd" fill="#fafafa" d="M429,505L427,503L409,503L407,505L397,505L395,507L385,507L383,509L373,509L371,511L333,513L331,515L315,515L313,517L291,517L289,519L269,519L267,521L253,521L251,523L229,527L229,541L219,551L205,579L197,589L439,589L437,557L435,555L435,549L431,539ZM1887,471L1877,477L1859,493L1829,469L1817,463L1813,463L1803,469L1799,469L1789,475L1785,475L1769,469L1749,465L1729,455L1703,459L1687,451L1683,447L1675,431L1671,433L1667,431L1663,405L1659,399L1651,397L1639,403L1635,411L1633,427L1631,429L1627,427L1609,441L1587,433L1561,437L1547,429L1537,429L1535,431L1505,431L1489,425L1475,433L1467,433L1465,431L1433,431L1415,441L1411,441L1403,445L1383,447L1381,449L1365,449L1369,471L1375,487L1375,495L1369,501L1363,501L1357,495L1345,449L1331,449L1329,451L1313,451L1311,453L1283,455L1279,457L1279,473L1281,475L1283,487L1293,505L1297,535L1295,537L1295,541L1283,553L1277,565L1275,565L1267,555L1257,551L1247,541L1239,537L1235,537L1229,533L1209,527L1193,503L1183,497L1169,503L1147,521L1109,539L1103,549L1101,567L1085,583L1077,587L1071,585L1049,569L1025,557L1015,555L1003,549L967,553L953,563L939,569L935,575L931,577L921,571L907,571L895,559L889,557L885,553L881,543L873,539L861,545L855,545L853,543L839,543L837,541L813,543L803,537L789,539L771,527L757,521L739,525L737,523L707,517L697,513L695,517L689,521L675,523L673,525L663,525L655,529L645,519L629,515L625,521L623,529L619,533L613,535L601,547L593,551L589,581L585,589L1887,589ZM1029,81L1029,131L1039,141L1045,141L1047,143L1057,143L1059,145L1069,145L1071,147L1117,145L1119,143L1127,143L1137,139L1145,139L1147,137L1153,137L1161,133L1167,133L1169,131L1179,129L1191,119L1179,111L1153,109L1151,107L1141,107L1139,105L1131,105L1129,103L1119,103L1117,101L1113,101L1105,93L1103,85L1099,85L1091,81L1085,81L1083,79L1073,79L1071,77L1059,77L1057,75L1047,75L1045,73L1041,73ZM1739,47L1741,73L1745,73L1747,75L1755,75L1757,77L1853,77L1855,79L1887,79L1887,47ZM1529,51L1531,53L1539,79L1551,87L1559,87L1561,85L1579,85L1581,83L1597,83L1599,81L1627,79L1639,73L1649,51L1653,47L1529,47ZM1283,47L1285,49L1287,89L1299,95L1345,95L1347,93L1357,93L1359,91L1369,91L1371,89L1421,87L1423,85L1441,85L1443,83L1469,81L1471,79L1477,79L1493,69L1509,47ZM1037,47L1039,49L1041,67L1069,69L1071,71L1081,71L1083,73L1093,73L1095,75L1109,75L1113,71L1121,69L1123,71L1133,71L1135,73L1155,75L1157,77L1169,77L1171,79L1183,79L1185,81L1199,81L1201,83L1209,83L1211,85L1213,85L1217,65L1223,59L1239,53L1241,47ZM711,47L733,73L755,89L773,91L775,93L785,93L787,95L797,95L799,97L861,99L863,97L891,95L907,89L917,79L913,63L905,47ZM505,47L507,51L515,55L537,55L539,57L657,55L659,53L675,53L677,47ZM209,47L227,63L239,69L253,69L255,67L259,67L267,63L279,49L289,53L311,53L313,55L475,55L477,53L489,51L491,47ZM145,47L79,47L79,217L91,217L93,215L103,213L131,199L135,195L141,181L145,177L151,165L151,145L149,143L149,93L147,91L147,69L145,67L145,53L143,51Z"/><path fill-rule="evenodd" fill="#ffffff" d="M429,505L413,503L411,505L399,505L397,507L387,507L385,509L375,509L373,511L337,513L335,515L319,515L317,517L297,517L295,519L253,521L245,525L231,527L229,529L231,589L439,589L437,557L435,555L435,549L431,539ZM1887,471L1877,477L1859,493L1829,469L1817,463L1813,463L1803,469L1799,469L1789,475L1785,475L1769,469L1749,465L1729,455L1703,459L1687,451L1683,447L1675,431L1671,433L1667,431L1663,405L1659,399L1651,397L1639,403L1635,411L1633,427L1631,429L1627,427L1609,441L1587,433L1561,437L1547,429L1537,429L1535,431L1505,431L1489,425L1475,433L1467,433L1465,431L1433,431L1415,441L1411,441L1403,445L1383,447L1381,449L1365,449L1369,469L1375,485L1375,497L1371,501L1361,501L1357,497L1357,493L1353,485L1353,479L1351,477L1351,471L1347,463L1345,449L1331,449L1329,451L1313,451L1311,453L1283,455L1279,457L1279,473L1281,475L1283,487L1293,505L1297,535L1295,537L1295,541L1283,553L1277,565L1275,565L1267,555L1257,551L1247,541L1239,537L1235,537L1229,533L1209,527L1193,503L1183,497L1169,503L1147,521L1109,539L1103,549L1101,567L1085,583L1077,587L1071,585L1049,569L1025,557L1015,555L1003,549L967,553L953,563L939,569L935,575L931,577L921,571L907,571L895,559L889,557L885,553L881,543L873,539L861,545L855,545L853,543L839,543L837,541L813,543L803,537L789,539L771,527L757,521L739,525L737,523L707,517L697,513L695,517L689,521L675,523L673,525L663,525L655,529L645,519L629,515L625,521L623,529L619,533L613,535L601,547L593,551L589,581L585,589L1887,589ZM1029,81L1029,131L1039,141L1045,141L1047,143L1057,143L1059,145L1069,145L1071,147L1117,145L1119,143L1127,143L1137,139L1145,139L1147,137L1153,137L1161,133L1167,133L1169,131L1179,129L1191,119L1183,113L1159,111L1157,109L1149,109L1147,107L1137,107L1135,105L1115,103L1105,95L1103,85L1099,85L1091,81L1071,79L1069,77L1057,77L1055,75L1045,75L1043,73L1037,75ZM1739,47L1741,73L1745,73L1747,75L1755,75L1757,77L1853,77L1855,79L1887,79L1887,47ZM1529,51L1531,53L1539,79L1551,87L1559,87L1561,85L1579,85L1581,83L1597,83L1599,81L1627,79L1639,73L1649,51L1653,47L1529,47ZM1283,47L1285,49L1287,89L1299,95L1345,95L1347,93L1357,93L1359,91L1369,91L1371,89L1421,87L1423,85L1441,85L1443,83L1469,81L1471,79L1477,79L1493,69L1509,47ZM1037,47L1039,49L1041,67L1045,65L1047,67L1059,67L1061,69L1071,69L1073,71L1085,71L1087,73L1095,73L1097,75L1107,75L1115,69L1127,69L1129,71L1149,73L1151,75L1161,75L1163,77L1205,81L1213,85L1217,65L1223,59L1239,53L1241,47ZM711,47L733,73L755,89L773,91L775,93L785,93L787,95L797,95L799,97L861,99L863,97L891,95L907,89L917,79L913,63L905,47ZM505,47L507,51L515,55L537,55L539,57L657,55L659,53L675,53L677,47ZM227,47L239,57L243,57L245,59L259,59L267,55L273,47L289,53L311,53L313,55L475,55L477,53L489,51L491,47ZM145,47L79,47L79,217L91,217L93,215L103,213L131,199L135,195L141,181L145,177L151,165L151,145L149,143L149,93L147,91L147,73L145,71L145,55L143,53L143,49Z"/></g></g><g clip-path="url(#mapclip)" stroke="#ff00ff" stroke-width="7" stroke-linecap="round" fill="none"><path d="M143.0,244.0L222.0,193.0" stroke-width="8"/><path d="M143.0,252.0L212.0,204.0" stroke-width="8"/><path d="M143.0,260.0L200.0,218.0" stroke-width="8"/><path d="M143.0,268.0L188.0,234.0" stroke-width="9"/><path d="M204.0,211.0L169.0,371.0" stroke-width="7.3"/><path d="M184.0,236.0L157.0,351.0" stroke-width="7.3"/><path d="M167.0,372.0L194.0,349.0" stroke-width="7.3"/><path d="M153.0,333.0L328.0,157.0" stroke-width="7.3"/><path d="M158.0,344.0L336.0,158.0" stroke-width="7.3"/><path d="M186.0,297.0L333.0,184.0" stroke-width="7.3"/><path d="M351.0,186.0L384.0,157.0" stroke-width="7.3"/><path d="M339.0,158.0L272.0,457.0" stroke-width="7.3"/><path d="M352.0,158.0L287.0,457.0" stroke-width="7.3"/><path d="M227.0,461.0L348.0,363.0" stroke-width="7.3"/><path d="M245.0,464.0L364.0,326.0" stroke-width="7.3"/><path d="M287.0,454.0L375.0,359.0" stroke-width="7.3"/><path d="M352.0,355.0L375.0,334.0" stroke-width="7.3"/><path d="M378.0,311.0L404.0,287.0" stroke-width="7.3"/><path d="M390.0,319.0L419.0,290.0" stroke-width="7.3"/><path d="M399.0,333.0L443.0,289.0" stroke-width="7.3"/><path d="M422.6,266.8L490.4,199.0" stroke-width="7.3"/><path d="M431.9,277.4L489.2,216.6" stroke-width="7.3"/><path d="M447.1,284.4L478.7,251.7" stroke-width="7.3"/><path d="M516.0,219.0L535.0,197.0" stroke-width="7.3"/><path d="M370.0,342.0L384.0,327.0" stroke-width="7.3"/><path d="M370.0,364.0L394.5,340.0" stroke-width="7.3"/><path d="M398.0,334.0L416.7,320.0" stroke-width="7.3"/><path d="M214.0,474.0L218.0,470.0" stroke-width="7.3"/><path d="M231.0,479.0L238.0,471.0" stroke-width="7.3"/><path d="M252.0,483.0L268.0,465.0" stroke-width="7.3"/><path d="M266.0,485.0L270.0,465.0" stroke-width="7.3"/><path d="M279.0,486.0L284.0,465.0" stroke-width="7.3"/><path d="M298.0,243.0L299.0,242.0" stroke-width="7.3"/><path d="M288.0,253.0L289.0,252.0" stroke-width="7.3"/><path d="M258.0,282.0L268.0,272.0" stroke-width="7.3"/><path d="M570.0,201.0L504.0,484.0" stroke-width="9"/><path d="M579.0,215.0L520.0,484.0" stroke-width="9"/><path d="M598.0,289.0L556.0,461.0" stroke-width="7"/><path d="M602.5,322.0L571.0,452.0" stroke-width="7"/><path d="M789.5,258.8L827.7,220.6" stroke-width="7.3"/><path d="M787.4,339.0L910.9,215.5" stroke-width="7.3"/><path d="M790.0,352.0L925.8,216.2" stroke-width="7.3"/><path d="M801.5,383.0L983.6,219.1" stroke-width="7.3"/><path d="M810.6,393.9L992.2,219.6" stroke-width="7.3"/><path d="M848.7,428.8L1050.6,220.8" stroke-width="7.3"/><path d="M861.0,431.4L1073.7,218.7" stroke-width="7.3"/><path d="M894.2,438.5L1129.1,210.7" stroke-width="7.3"/><path d="M909.1,438.6L1139.1,208.6" stroke-width="7.3"/><path d="M943.6,435.6L1200.3,199.4" stroke-width="7.3"/><path d="M961.1,434.1L1121.5,277.0" stroke-width="7.3"/><path d="M993.3,431.3L1079.4,341.0" stroke-width="7.3"/><path d="M1060.7,362.0L1209.2,221.0" stroke-width="7.3"/><path d="M792.5,364.2L942.6,217.1" stroke-width="7.3"/><path d="M818.9,403.9L1008.1,220.4" stroke-width="7.3"/><path d="M833.9,422.1L1034.3,221.7" stroke-width="7.3"/><path d="M873.9,434.1L1090.9,217.1" stroke-width="7.3"/><path d="M918.4,437.8L1114.1,250.0" stroke-width="7.3"/><path d="M1173.0,290.0L1215.0,248.0" stroke-width="7.3"/><path d="M1333.3,331.0L1441.8,246.4" stroke-width="7.3"/><path d="M1315.0,350.0L1431.2,233.8" stroke-width="7.3"/><path d="M1321.2,369.0L1454.5,273.0" stroke-width="7.3"/><path d="M1343.3,385.0L1452.5,290.0" stroke-width="7.3"/><path d="M1359.6,383.5L1398.0,348.2" stroke-width="7.3"/><path d="M837.3,216.2L804.3,379.4" stroke-width="7.3"/><path d="M848.6,215.4L819.9,358.6" stroke-width="7.3"/><path d="M906.7,218.0L870.3,428.0" stroke-width="7.3"/><path d="M922.3,218.8L887.6,384.6" stroke-width="7.3"/><path d="M1147.5,209.3L1100.7,421.0" stroke-width="7.3"/><path d="M1135.4,282.2L1114.6,417.6" stroke-width="7.3"/><path d="M1222.2,197.2L1175.3,396.8" stroke-width="8"/><path d="M1229.0,195.4L1191.0,389.8" stroke-width="8"/><path d="M1214.0,198.0L1180.0,350.0" stroke-width="7"/><path d="M1273.0,192.0L1231.4,375.5" stroke-width="7.3"/><path d="M1284.3,191.2L1242.6,380.3" stroke-width="7.3"/><path d="M1339.5,192.0L1301.9,370.6" stroke-width="7.3"/><path d="M1351.6,190.4L1313.0,378.7" stroke-width="7.3"/><path d="M1362.8,193.6L1319.5,385.0" stroke-width="7.3"/><path d="M1418.8,218.4L1394.8,380.3" stroke-width="7.3"/><path d="M1427.7,232.9L1383.6,380.3" stroke-width="7.3"/><path d="M1018.0,227.5L1018.5,227.0" stroke-width="7.3"/><path d="M1006.0,241.0L1006.5,240.5" stroke-width="7.3"/><path d="M1278.0,395.0L1278.5,394.5" stroke-width="7.3"/><path d="M1283.0,390.0L1283.5,389.5" stroke-width="7.3"/><path d="M1306.0,397.0L1306.5,396.5" stroke-width="7.3"/><path d="M1316.0,399.0L1316.5,398.5" stroke-width="7.3"/><path d="M938.0,313.0L938.5,312.5" stroke-width="7.3"/><path d="M951.0,304.0L951.5,303.5" stroke-width="7.3"/><path d="M928.0,307.0L928.5,306.5" stroke-width="7.3"/><path d="M924.0,343.0L924.5,342.5" stroke-width="7.3"/><path d="M866.0,386.0L866.5,385.5" stroke-width="7.3"/><path d="M857.0,396.0L857.5,395.5" stroke-width="7.3"/><path d="M869.0,400.0L869.5,399.5" stroke-width="7.3"/><path d="M827.0,407.0L827.5,406.5" stroke-width="7.3"/><polygon stroke="none" fill="#ff00ff" points="171.0,410.0 415.0,167.0 437.0,177.0 182.0,432.0"/><polygon stroke="none" fill="#ff00ff" points="496.0,189.0 521.0,193.0 452.0,484.0 427.0,484.0"/><polygon stroke="none" fill="#ff00ff" points="1057.0,224.0 1078.0,224.0 1050.0,423.0 1021.0,423.0"/></g><polygon points="143.5,236 142.5,271 154,327 177.5,430 208,474 266,486 388,481 521,481 570,453 593,402 603,322 596,262 577,203 434.6,177.5 383,156.5 322,157.5 268.7,175 205.6,198.6" fill="none" stroke="#000" stroke-width="1.3"/><polygon points="789.3,240.7 784.6,317.8 796,374 838.3,425 899,438 1100,420.6 1207.5,406.5 1300,402 1351.4,394 1414.5,374 1454,329.6 1456.6,266.5 1421.5,224.4 1365.4,191.7 1339.7,190.3 1301,189 1160.7,205.6 1104.7,217.3 1039,223.4 843,213.6 819.6,224.3" fill="none" stroke="#000" stroke-width="1.3"/><path d="M80.5,48.5 V587.2 M80.5,48.5 H99 M1884.5,568 V587.2" stroke="#555" stroke-width="1" fill="none"/><text x="304" y="140.5" font-size="47" fill="#000">Area 2</text><text x="1048" y="183.6" font-size="47" fill="#000">Area 1</text><path d="M1712.4,301.8 L1765.5,214" stroke="#000" stroke-width="1.3"/><path d="M1770,206.9 L1755.4,218.1 L1763.8,217.7 L1766.6,224.7 Z" fill="#000"/><text x="1776.5" y="198" font-size="23.5" fill="#000" text-anchor="middle">N</text><text x="67" y="61.3" font-size="31" fill="#262626" text-anchor="end">-726</text><text x="67" y="215.3" font-size="31" fill="#262626" text-anchor="end">-727</text><text x="67" y="369.3" font-size="31" fill="#262626" text-anchor="end">-728</text><text x="67" y="523.3" font-size="31" fill="#262626" text-anchor="end">-729</text><text x="158.3" y="631.5" font-size="31" fill="#262626" text-anchor="middle">-398</text><text x="315.2" y="631.5" font-size="31" fill="#262626" text-anchor="middle">-397</text><text x="472.1" y="631.5" font-size="31" fill="#262626" text-anchor="middle">-396</text><text x="629.0" y="631.5" font-size="31" fill="#262626" text-anchor="middle">-395</text><text x="785.9" y="631.5" font-size="31" fill="#262626" text-anchor="middle">-394</text><text x="942.8" y="631.5" font-size="31" fill="#262626" text-anchor="middle">-393</text><text x="1099.7" y="631.5" font-size="31" fill="#262626" text-anchor="middle">-392</text><text x="1256.6" y="631.5" font-size="31" fill="#262626" text-anchor="middle">-391</text><text x="1413.5" y="631.5" font-size="31" fill="#262626" text-anchor="middle">-390</text><text x="1570.4" y="631.5" font-size="31" fill="#262626" text-anchor="middle">-389</text><text x="1727.3" y="631.5" font-size="31" fill="#262626" text-anchor="middle">-388</text><text x="1884.2" y="631.5" font-size="31" fill="#262626" text-anchor="middle">-387</text><text x="1056.5" y="677.6" font-size="30.7" fill="#000" text-anchor="middle">X and Y coordinates are Polar Stereographic in km (EPSG: 3413)</text><rect x="1935" y="49.5" width="44" height="537" fill="url(#cbar)" stroke="#333" stroke-width="1.2"/><text x="1989" y="60.0" font-size="29.5" fill="#262626">800 m</text><line x1="1971" x2="1979" y1="183.8" y2="183.8" stroke="#333" stroke-width="1.2"/><text x="1989" y="194.3" font-size="29.5" fill="#262626">750 m</text><line x1="1971" x2="1979" y1="318.2" y2="318.2" stroke="#333" stroke-width="1.2"/><text x="1989" y="328.7" font-size="29.5" fill="#262626">700 m</text><line x1="1971" x2="1979" y1="452.5" y2="452.5" stroke="#333" stroke-width="1.2"/><text x="1989" y="463.0" font-size="29.5" fill="#262626">650 m</text><text x="1989" y="597.4" font-size="29.5" fill="#262626">600 m</text><text x="88" y="37.5" font-size="59" fill="#000">a</text><text x="109" y="740" font-size="59" fill="#000">b</text><text x="1168" y="740" font-size="59" fill="#000">c</text><line x1="218.5" x2="218.5" y1="761.3" y2="1446.4" stroke="#dfdfdf" stroke-width="1.1"/><line x1="337.0" x2="337.0" y1="761.3" y2="1446.4" stroke="#dfdfdf" stroke-width="1.1"/><line x1="455.5" x2="455.5" y1="761.3" y2="1446.4" stroke="#dfdfdf" stroke-width="1.1"/><line x1="574.0" x2="574.0" y1="761.3" y2="1446.4" stroke="#dfdfdf" stroke-width="1.1"/><line x1="692.5" x2="692.5" y1="761.3" y2="1446.4" stroke="#dfdfdf" stroke-width="1.1"/><line x1="811.0" x2="811.0" y1="761.3" y2="1446.4" stroke="#dfdfdf" stroke-width="1.1"/><line x1="100" x2="929.5" y1="859.2" y2="859.2" stroke="#dfdfdf" stroke-width="1.1"/><line x1="100" x2="929.5" y1="957.0" y2="957.0" stroke="#dfdfdf" stroke-width="1.1"/><line x1="100" x2="929.5" y1="1054.9" y2="1054.9" stroke="#dfdfdf" stroke-width="1.1"/><line x1="100" x2="929.5" y1="1152.8" y2="1152.8" stroke="#dfdfdf" stroke-width="1.1"/><line x1="100" x2="929.5" y1="1250.7" y2="1250.7" stroke="#dfdfdf" stroke-width="1.1"/><line x1="100" x2="929.5" y1="1348.5" y2="1348.5" stroke="#dfdfdf" stroke-width="1.1"/><g clip-path="url(#bclip)"><polyline points="201.6,980.8 208.4,975.6 226.5,904.5 237.2,931.8 241.8,904.0 251.0,915.0 260.2,904.0 267.4,908.0 280.4,972.6 296.3,1074.8 306.0,1032.3 309.4,1050.5 319.2,1030.0 325.3,1046.0 331.0,1046.0 335.5,1049.4 339.6,1026.7 349.2,1000.5 355.3,1023.3 364.6,1020.3 378.2,999.9 389.4,1060.3 394.6,1084.6 399.1,1087.5 414.3,1197.6 423.8,1173.0 437.5,1134.3 443.6,1160.6 452.9,1147.9 457.4,1126.6 467.0,1135.7 473.1,1143.4 482.2,1102.0 487.0,1128.2 496.5,1113.9 502.9,1106.6 506.3,1153.1 516.3,1148.6 532.2,1224.4 555.5,1170.6 561.7,1170.2 566.2,1212.4 575.3,1168.3 585.0,1147.5 591.2,1135.0 595.7,1189.7 600.5,1131.6 620.3,1119.8 625.2,1125.9 634.5,1155.2 643.8,1235.0 650.2,1268.3 654.1,1228.2 659.7,1189.6 664.3,1247.9 679.5,1219.8 684.3,1205.5 693.1,1231.6 702.9,1188.4 709.0,1183.9 713.5,1164.6 718.8,1138.5 723.3,1206.6 732.0,1168.0 738.0,1143.5 742.6,1175.5 752.2,1225.9 768.0,1244.0 777.8,1227.0 781.2,1286.0 790.8,1236.6 797.6,1233.8 801.7,1270.2 811.4,1277.0 827.1,1223.6 831.6,1283.8 836.4,1158.4 840.3,1243.4 850.5,1208.4 879.6,1282.3 885.9,1296.6 895.2,1213.9 898.9,1322.6 915.3,1240.4" fill="none" stroke="#ff0000" stroke-width="4" stroke-dasharray="4 3.6"/><circle cx="201.6" cy="980.8" r="6" fill="#ff0000"/><circle cx="208.4" cy="975.6" r="6" fill="#ff0000"/><circle cx="226.5" cy="904.5" r="6" fill="#ff0000"/><circle cx="237.2" cy="931.8" r="6" fill="#ff0000"/><circle cx="241.8" cy="904.0" r="6" fill="#ff0000"/><circle cx="251.0" cy="915.0" r="6" fill="#ff0000"/><circle cx="260.2" cy="904.0" r="6" fill="#ff0000"/><circle cx="267.4" cy="908.0" r="6" fill="#ff0000"/><circle cx="280.4" cy="972.6" r="6" fill="#ff0000"/><circle cx="296.3" cy="1074.8" r="6" fill="#ff0000"/><circle cx="306.0" cy="1032.3" r="6" fill="#ff0000"/><circle cx="309.4" cy="1050.5" r="6" fill="#ff0000"/><circle cx="319.2" cy="1030.0" r="6" fill="#ff0000"/><circle cx="325.3" cy="1046.0" r="6" fill="#ff0000"/><circle cx="331.0" cy="1046.0" r="6" fill="#ff0000"/><circle cx="335.5" cy="1049.4" r="6" fill="#ff0000"/><circle cx="339.6" cy="1026.7" r="6" fill="#ff0000"/><circle cx="349.2" cy="1000.5" r="6" fill="#ff0000"/><circle cx="355.3" cy="1023.3" r="6" fill="#ff0000"/><circle cx="364.6" cy="1020.3" r="6" fill="#ff0000"/><circle cx="378.2" cy="999.9" r="6" fill="#ff0000"/><circle cx="389.4" cy="1060.3" r="6" fill="#ff0000"/><circle cx="394.6" cy="1084.6" r="6" fill="#ff0000"/><circle cx="399.1" cy="1087.5" r="6" fill="#ff0000"/><circle cx="414.3" cy="1197.6" r="6" fill="#ff0000"/><circle cx="423.8" cy="1173.0" r="6" fill="#ff0000"/><circle cx="437.5" cy="1134.3" r="6" fill="#ff0000"/><circle cx="443.6" cy="1160.6" r="6" fill="#ff0000"/><circle cx="452.9" cy="1147.9" r="6" fill="#ff0000"/><circle cx="457.4" cy="1126.6" r="6" fill="#ff0000"/><circle cx="467.0" cy="1135.7" r="6" fill="#ff0000"/><circle cx="473.1" cy="1143.4" r="6" fill="#ff0000"/><circle cx="482.2" cy="1102.0" r="6" fill="#ff0000"/><circle cx="487.0" cy="1128.2" r="6" fill="#ff0000"/><circle cx="496.5" cy="1113.9" r="6" fill="#ff0000"/><circle cx="502.9" cy="1106.6" r="6" fill="#ff0000"/><circle cx="506.3" cy="1153.1" r="6" fill="#ff0000"/><circle cx="516.3" cy="1148.6" r="6" fill="#ff0000"/><circle cx="532.2" cy="1224.4" r="6" fill="#ff0000"/><circle cx="555.5" cy="1170.6" r="6" fill="#ff0000"/><circle cx="561.7" cy="1170.2" r="6" fill="#ff0000"/><circle cx="566.2" cy="1212.4" r="6" fill="#ff0000"/><circle cx="575.3" cy="1168.3" r="6" fill="#ff0000"/><circle cx="585.0" cy="1147.5" r="6" fill="#ff0000"/><circle cx="591.2" cy="1135.0" r="6" fill="#ff0000"/><circle cx="595.7" cy="1189.7" r="6" fill="#ff0000"/><circle cx="600.5" cy="1131.6" r="6" fill="#ff0000"/><circle cx="620.3" cy="1119.8" r="6" fill="#ff0000"/><circle cx="625.2" cy="1125.9" r="6" fill="#ff0000"/><circle cx="634.5" cy="1155.2" r="6" fill="#ff0000"/><circle cx="643.8" cy="1235.0" r="6" fill="#ff0000"/><circle cx="650.2" cy="1268.3" r="6" fill="#ff0000"/><circle cx="654.1" cy="1228.2" r="6" fill="#ff0000"/><circle cx="659.7" cy="1189.6" r="6" fill="#ff0000"/><circle cx="664.3" cy="1247.9" r="6" fill="#ff0000"/><circle cx="679.5" cy="1219.8" r="6" fill="#ff0000"/><circle cx="684.3" cy="1205.5" r="6" fill="#ff0000"/><circle cx="693.1" cy="1231.6" r="6" fill="#ff0000"/><circle cx="702.9" cy="1188.4" r="6" fill="#ff0000"/><circle cx="709.0" cy="1183.9" r="6" fill="#ff0000"/><circle cx="713.5" cy="1164.6" r="6" fill="#ff0000"/><circle cx="718.8" cy="1138.5" r="6" fill="#ff0000"/><circle cx="723.3" cy="1206.6" r="6" fill="#ff0000"/><circle cx="732.0" cy="1168.0" r="6" fill="#ff0000"/><circle cx="738.0" cy="1143.5" r="6" fill="#ff0000"/><circle cx="742.6" cy="1175.5" r="6" fill="#ff0000"/><circle cx="752.2" cy="1225.9" r="6" fill="#ff0000"/><circle cx="768.0" cy="1244.0" r="6" fill="#ff0000"/><circle cx="777.8" cy="1227.0" r="6" fill="#ff0000"/><circle cx="781.2" cy="1286.0" r="6" fill="#ff0000"/><circle cx="790.8" cy="1236.6" r="6" fill="#ff0000"/><circle cx="797.6" cy="1233.8" r="6" fill="#ff0000"/><circle cx="801.7" cy="1270.2" r="6" fill="#ff0000"/><circle cx="811.4" cy="1277.0" r="6" fill="#ff0000"/><circle cx="827.1" cy="1223.6" r="6" fill="#ff0000"/><circle cx="831.6" cy="1283.8" r="6" fill="#ff0000"/><circle cx="836.4" cy="1158.4" r="6" fill="#ff0000"/><circle cx="840.3" cy="1243.4" r="6" fill="#ff0000"/><circle cx="850.5" cy="1208.4" r="6" fill="#ff0000"/><circle cx="879.6" cy="1282.3" r="6" fill="#ff0000"/><circle cx="885.9" cy="1296.6" r="6" fill="#ff0000"/><circle cx="895.2" cy="1213.9" r="6" fill="#ff0000"/><circle cx="898.9" cy="1322.6" r="6" fill="#ff0000"/><circle cx="915.3" cy="1240.4" r="6" fill="#ff0000"/><path d="M201.6,825.60V1138.6M208.4,890.10V1067.5M226.5,832.05V979.0M237.2,877.20V989.2M241.8,767.55V1042.6M251.0,857.85V979.0M260.2,786.90V1024.4M267.4,819.15V1001.7M280.4,825.60V1120.4M296.3,883.65V1269.0M306.0,812.70V1253.2M309.4,961.05V1144.0M319.2,909.45V1148.8M325.3,980.40V1111.3M331.0,941.70V1150.0M335.5,903.00V1200.0M339.6,967.50V1087.5M349.2,883.65V1117.0M355.3,961.05V1089.7M364.6,870.75V1171.5M378.2,883.65V1118.0M389.4,973.95V1147.6M394.6,922.35V1249.8M399.1,1025.55V1153.3M414.3,1102.95V1289.6M423.8,1025.55V1324.8M437.5,1019.10V1253.3M443.6,1102.95V1222.6M452.9,1006.20V1294.1M457.4,1057.80V1195.4M467.0,1019.10V1253.3M473.1,1077.15V1209.0M482.2,948.15V1256.7M487.0,1077.15V1188.6M496.5,999.75V1231.7M502.9,1038.45V1177.2M506.3,1083.60V1229.4M516.3,1090.05V1210.1M532.2,1161.00V1294.1M555.5,1051.35V1289.6M561.7,1109.40V1230.6M566.2,1141.65V1282.8M575.3,1109.40V1231.7M585.0,1025.55V1268.0M591.2,1070.70V1198.8M595.7,1115.85V1265.8M600.5,980.40V1285.0M620.3,1064.25V1178.3M625.2,999.75V1254.4M634.5,1096.50V1212.9M643.8,1115.85V1354.2M650.2,1199.70V1339.7M654.1,1102.95V1358.0M659.7,1025.55V1357.1M664.3,1199.70V1310.6M679.5,1154.55V1287.4M684.3,1083.60V1330.0M693.1,1167.45V1295.2M702.9,1070.70V1305.8M709.0,1128.75V1241.0M713.5,1038.45V1294.2M718.8,986.85V1293.2M723.3,1141.65V1271.0M732.0,1038.45V1294.2M738.0,1083.60V1204.2M742.6,1051.35V1303.9M752.2,1167.45V1288.4M768.0,1180.35V1304.8M777.8,1064.25V1391.0M781.2,1206.15V1366.8M790.8,1102.95V1366.8M797.6,1077.15V1387.1M801.7,1148.10V1390.0M811.4,1212.60V1343.5M827.1,1161.00V1289.4M831.6,1206.15V1362.9M836.4,986.85V1332.0M840.3,1180.35V1308.7M850.5,1090.05V1329.0M879.6,1180.35V1389.5M885.9,1225.50V1371.8M895.2,1064.25V1367.4M898.9,1257.75V1386.9M915.3,1173.90V1305.0" stroke="#000" stroke-width="3.2" stroke-dasharray="3 3.45" fill="none"/></g><rect x="100" y="761.3" width="829.5" height="685.1000000000001" fill="none" stroke="#262626" stroke-width="1.3"/><path d="M100.0,1446.4v-8M100.0,761.3v8M218.5,1446.4v-8M218.5,761.3v8M337.0,1446.4v-8M337.0,761.3v8M455.5,1446.4v-8M455.5,761.3v8M574.0,1446.4v-8M574.0,761.3v8M692.5,1446.4v-8M692.5,761.3v8M811.0,1446.4v-8M811.0,761.3v8M929.5,1446.4v-8M929.5,761.3v8M100,761.3h8M929.5,761.3h-8M100,859.2h8M929.5,859.2h-8M100,957.0h8M929.5,957.0h-8M100,1054.9h8M929.5,1054.9h-8M100,1152.8h8M929.5,1152.8h-8M100,1250.7h8M929.5,1250.7h-8M100,1348.5h8M929.5,1348.5h-8M100,1446.4h8M929.5,1446.4h-8" stroke="#262626" stroke-width="1.3" fill="none"/><text x="100.0" y="1491" font-size="31" fill="#262626" text-anchor="middle">2018</text><text x="218.5" y="1491" font-size="31" fill="#262626" text-anchor="middle">2019</text><text x="337.0" y="1491" font-size="31" fill="#262626" text-anchor="middle">2020</text><text x="455.5" y="1491" font-size="31" fill="#262626" text-anchor="middle">2021</text><text x="574.0" y="1491" font-size="31" fill="#262626" text-anchor="middle">2022</text><text x="692.5" y="1491" font-size="31" fill="#262626" text-anchor="middle">2023</text><text x="811.0" y="1491" font-size="31" fill="#262626" text-anchor="middle">2024</text><text x="929.5" y="1491" font-size="31" fill="#262626" text-anchor="middle">2025</text><text x="87" y="772.3" font-size="31" fill="#262626" text-anchor="end">3</text><text x="87" y="870.2" font-size="31" fill="#262626" text-anchor="end">2</text><text x="87" y="968.0" font-size="31" fill="#262626" text-anchor="end">1</text><text x="87" y="1065.9" font-size="31" fill="#262626" text-anchor="end">0</text><text x="87" y="1163.8" font-size="31" fill="#262626" text-anchor="end">-1</text><text x="87" y="1261.7" font-size="31" fill="#262626" text-anchor="end">-2</text><text x="87" y="1359.5" font-size="31" fill="#262626" text-anchor="end">-3</text><text x="87" y="1457.4" font-size="31" fill="#262626" text-anchor="end">-4</text><text x="444" y="831" font-size="47" fill="#000">Area 2</text><line x1="1279.4" x2="1279.4" y1="761.3" y2="1445.2" stroke="#dfdfdf" stroke-width="1.1"/><line x1="1397.8" x2="1397.8" y1="761.3" y2="1445.2" stroke="#dfdfdf" stroke-width="1.1"/><line x1="1516.2" x2="1516.2" y1="761.3" y2="1445.2" stroke="#dfdfdf" stroke-width="1.1"/><line x1="1634.5" x2="1634.5" y1="761.3" y2="1445.2" stroke="#dfdfdf" stroke-width="1.1"/><line x1="1752.9" x2="1752.9" y1="761.3" y2="1445.2" stroke="#dfdfdf" stroke-width="1.1"/><line x1="1871.3" x2="1871.3" y1="761.3" y2="1445.2" stroke="#dfdfdf" stroke-width="1.1"/><line x1="1161" x2="1989.7" y1="859.0" y2="859.0" stroke="#dfdfdf" stroke-width="1.1"/><line x1="1161" x2="1989.7" y1="956.7" y2="956.7" stroke="#dfdfdf" stroke-width="1.1"/><line x1="1161" x2="1989.7" y1="1054.4" y2="1054.4" stroke="#dfdfdf" stroke-width="1.1"/><line x1="1161" x2="1989.7" y1="1152.1" y2="1152.1" stroke="#dfdfdf" stroke-width="1.1"/><line x1="1161" x2="1989.7" y1="1249.8" y2="1249.8" stroke="#dfdfdf" stroke-width="1.1"/><line x1="1161" x2="1989.7" y1="1347.5" y2="1347.5" stroke="#dfdfdf" stroke-width="1.1"/><g clip-path="url(#cclip)"><polyline points="1256.8,1223.8 1261.6,1285.0 1266.4,1175.3 1270.8,1237.5 1281.3,1214.7 1286.4,1196.6 1290.9,1237.0 1296.0,1191.4 1300.5,1145.0 1311.1,1185.3 1320.5,1206.2 1325.3,1164.9 1330.1,1175.7 1340.2,1032.7 1345.4,895.7 1364.9,1294.2 1369.7,1295.9 1379.3,1274.2 1384.9,1243.7 1390.2,1245.4 1395.0,1280.2 1399.3,1245.4 1404.6,1246.6 1409.4,1238.9 1418.3,1232.7 1424.5,1255.0 1433.4,1238.9 1438.2,1239.9 1443.7,1215.9 1453.8,1134.2 1458.5,996.6 1463.7,948.0 1483.0,1311.0 1496.9,1302.4 1502.3,1265.5 1507.0,1305.4 1512.3,1318.2 1517.2,1290.0 1522.4,1276.8 1526.8,1288.6 1532.2,1268.7 1542.6,1289.0 1546.5,1271.9 1551.8,1265.5 1556.5,1269.8 1561.0,1246.3 1576.4,1242.0 1581.3,1187.1 1595.2,1264.9 1615.2,1280.4 1620.6,1284.1 1624.4,1276.8 1635.1,1279.4 1640.4,1259.1 1645.4,1243.1 1650.0,1243.5 1660.3,1229.8 1669.9,1175.2 1674.2,1209.3 1678.9,1238.4 1683.8,1226.0 1694.3,1291.9 1703.6,1027.8 1708.6,1102.7 1719.1,1318.0 1723.8,1296.8 1728.4,1305.2 1738.6,1260.1 1743.6,1262.8 1753.1,1294.6 1757.9,1265.1 1762.2,1253.0 1767.4,1214.0 1772.0,1228.7 1778.3,1223.1 1782.6,1270.7 1787.9,1199.2 1791.9,1206.0 1796.9,1218.5 1801.9,1216.7 1812.2,1288.9 1817.2,915.5 1826.5,1124.3 1837.1,1259.4 1841.2,1322.5 1846.9,1308.2 1851.4,1305.2 1856.7,1310.5 1860.1,1265.7 1871.2,1306.4 1876.4,1226.0 1885.5,1250.8 1890.0,1237.8 1896.2,1254.8 1900.3,1279.8 1905.5,1169.2 1910.0,1242.4 1935.1,858.6 1939.7,1090.5 1948.9,1227.4 1955.6,1221.6 1959.2,1317.7 1978.2,1299.0 1984.4,1256.9" fill="none" stroke="#ff0000" stroke-width="4" stroke-dasharray="4 3.6"/><circle cx="1256.8" cy="1223.8" r="6" fill="#ff0000"/><circle cx="1261.6" cy="1285.0" r="6" fill="#ff0000"/><circle cx="1266.4" cy="1175.3" r="6" fill="#ff0000"/><circle cx="1270.8" cy="1237.5" r="6" fill="#ff0000"/><circle cx="1281.3" cy="1214.7" r="6" fill="#ff0000"/><circle cx="1286.4" cy="1196.6" r="6" fill="#ff0000"/><circle cx="1290.9" cy="1237.0" r="6" fill="#ff0000"/><circle cx="1296.0" cy="1191.4" r="6" fill="#ff0000"/><circle cx="1300.5" cy="1145.0" r="6" fill="#ff0000"/><circle cx="1311.1" cy="1185.3" r="6" fill="#ff0000"/><circle cx="1320.5" cy="1206.2" r="6" fill="#ff0000"/><circle cx="1325.3" cy="1164.9" r="6" fill="#ff0000"/><circle cx="1330.1" cy="1175.7" r="6" fill="#ff0000"/><circle cx="1340.2" cy="1032.7" r="6" fill="#ff0000"/><circle cx="1345.4" cy="895.7" r="6" fill="#ff0000"/><circle cx="1364.9" cy="1294.2" r="6" fill="#ff0000"/><circle cx="1369.7" cy="1295.9" r="6" fill="#ff0000"/><circle cx="1379.3" cy="1274.2" r="6" fill="#ff0000"/><circle cx="1384.9" cy="1243.7" r="6" fill="#ff0000"/><circle cx="1390.2" cy="1245.4" r="6" fill="#ff0000"/><circle cx="1395.0" cy="1280.2" r="6" fill="#ff0000"/><circle cx="1399.3" cy="1245.4" r="6" fill="#ff0000"/><circle cx="1404.6" cy="1246.6" r="6" fill="#ff0000"/><circle cx="1409.4" cy="1238.9" r="6" fill="#ff0000"/><circle cx="1418.3" cy="1232.7" r="6" fill="#ff0000"/><circle cx="1424.5" cy="1255.0" r="6" fill="#ff0000"/><circle cx="1433.4" cy="1238.9" r="6" fill="#ff0000"/><circle cx="1438.2" cy="1239.9" r="6" fill="#ff0000"/><circle cx="1443.7" cy="1215.9" r="6" fill="#ff0000"/><circle cx="1453.8" cy="1134.2" r="6" fill="#ff0000"/><circle cx="1458.5" cy="996.6" r="6" fill="#ff0000"/><circle cx="1463.7" cy="948.0" r="6" fill="#ff0000"/><circle cx="1483.0" cy="1311.0" r="6" fill="#ff0000"/><circle cx="1496.9" cy="1302.4" r="6" fill="#ff0000"/><circle cx="1502.3" cy="1265.5" r="6" fill="#ff0000"/><circle cx="1507.0" cy="1305.4" r="6" fill="#ff0000"/><circle cx="1512.3" cy="1318.2" r="6" fill="#ff0000"/><circle cx="1517.2" cy="1290.0" r="6" fill="#ff0000"/><circle cx="1522.4" cy="1276.8" r="6" fill="#ff0000"/><circle cx="1526.8" cy="1288.6" r="6" fill="#ff0000"/><circle cx="1532.2" cy="1268.7" r="6" fill="#ff0000"/><circle cx="1542.6" cy="1289.0" r="6" fill="#ff0000"/><circle cx="1546.5" cy="1271.9" r="6" fill="#ff0000"/><circle cx="1551.8" cy="1265.5" r="6" fill="#ff0000"/><circle cx="1556.5" cy="1269.8" r="6" fill="#ff0000"/><circle cx="1561.0" cy="1246.3" r="6" fill="#ff0000"/><circle cx="1576.4" cy="1242.0" r="6" fill="#ff0000"/><circle cx="1581.3" cy="1187.1" r="6" fill="#ff0000"/><circle cx="1595.2" cy="1264.9" r="6" fill="#ff0000"/><circle cx="1615.2" cy="1280.4" r="6" fill="#ff0000"/><circle cx="1620.6" cy="1284.1" r="6" fill="#ff0000"/><circle cx="1624.4" cy="1276.8" r="6" fill="#ff0000"/><circle cx="1635.1" cy="1279.4" r="6" fill="#ff0000"/><circle cx="1640.4" cy="1259.1" r="6" fill="#ff0000"/><circle cx="1645.4" cy="1243.1" r="6" fill="#ff0000"/><circle cx="1650.0" cy="1243.5" r="6" fill="#ff0000"/><circle cx="1660.3" cy="1229.8" r="6" fill="#ff0000"/><circle cx="1669.9" cy="1175.2" r="6" fill="#ff0000"/><circle cx="1674.2" cy="1209.3" r="6" fill="#ff0000"/><circle cx="1678.9" cy="1238.4" r="6" fill="#ff0000"/><circle cx="1683.8" cy="1226.0" r="6" fill="#ff0000"/><circle cx="1694.3" cy="1291.9" r="6" fill="#ff0000"/><circle cx="1703.6" cy="1027.8" r="6" fill="#ff0000"/><circle cx="1708.6" cy="1102.7" r="6" fill="#ff0000"/><circle cx="1719.1" cy="1318.0" r="6" fill="#ff0000"/><circle cx="1723.8" cy="1296.8" r="6" fill="#ff0000"/><circle cx="1728.4" cy="1305.2" r="6" fill="#ff0000"/><circle cx="1738.6" cy="1260.1" r="6" fill="#ff0000"/><circle cx="1743.6" cy="1262.8" r="6" fill="#ff0000"/><circle cx="1753.1" cy="1294.6" r="6" fill="#ff0000"/><circle cx="1757.9" cy="1265.1" r="6" fill="#ff0000"/><circle cx="1762.2" cy="1253.0" r="6" fill="#ff0000"/><circle cx="1767.4" cy="1214.0" r="6" fill="#ff0000"/><circle cx="1772.0" cy="1228.7" r="6" fill="#ff0000"/><circle cx="1778.3" cy="1223.1" r="6" fill="#ff0000"/><circle cx="1782.6" cy="1270.7" r="6" fill="#ff0000"/><circle cx="1787.9" cy="1199.2" r="6" fill="#ff0000"/><circle cx="1791.9" cy="1206.0" r="6" fill="#ff0000"/><circle cx="1796.9" cy="1218.5" r="6" fill="#ff0000"/><circle cx="1801.9" cy="1216.7" r="6" fill="#ff0000"/><circle cx="1812.2" cy="1288.9" r="6" fill="#ff0000"/><circle cx="1817.2" cy="915.5" r="6" fill="#ff0000"/><circle cx="1826.5" cy="1124.3" r="6" fill="#ff0000"/><circle cx="1837.1" cy="1259.4" r="6" fill="#ff0000"/><circle cx="1841.2" cy="1322.5" r="6" fill="#ff0000"/><circle cx="1846.9" cy="1308.2" r="6" fill="#ff0000"/><circle cx="1851.4" cy="1305.2" r="6" fill="#ff0000"/><circle cx="1856.7" cy="1310.5" r="6" fill="#ff0000"/><circle cx="1860.1" cy="1265.7" r="6" fill="#ff0000"/><circle cx="1871.2" cy="1306.4" r="6" fill="#ff0000"/><circle cx="1876.4" cy="1226.0" r="6" fill="#ff0000"/><circle cx="1885.5" cy="1250.8" r="6" fill="#ff0000"/><circle cx="1890.0" cy="1237.8" r="6" fill="#ff0000"/><circle cx="1896.2" cy="1254.8" r="6" fill="#ff0000"/><circle cx="1900.3" cy="1279.8" r="6" fill="#ff0000"/><circle cx="1905.5" cy="1169.2" r="6" fill="#ff0000"/><circle cx="1910.0" cy="1242.4" r="6" fill="#ff0000"/><circle cx="1935.1" cy="858.6" r="6" fill="#ff0000"/><circle cx="1939.7" cy="1090.5" r="6" fill="#ff0000"/><circle cx="1948.9" cy="1227.4" r="6" fill="#ff0000"/><circle cx="1955.6" cy="1221.6" r="6" fill="#ff0000"/><circle cx="1959.2" cy="1317.7" r="6" fill="#ff0000"/><circle cx="1978.2" cy="1299.0" r="6" fill="#ff0000"/><circle cx="1984.4" cy="1256.9" r="6" fill="#ff0000"/><path d="M1256.8,1154.55V1294.7M1261.6,1231.95V1346.3M1266.4,1109.40V1245.0M1270.8,1180.35V1298.3M1281.3,1180.35V1253.8M1286.4,1148.10V1249.0M1290.9,1135.20V1339.1M1296.0,1102.95V1285.0M1300.5,1019.10V1270.6M1311.1,1115.85V1257.4M1320.5,1141.65V1271.8M1325.3,1096.50V1234.6M1330.1,1128.75V1222.6M1340.2,1006.20V1063.0M1345.4,838.50V951.8M1364.9,1251.30V1340.3M1369.7,1199.70V1393.2M1379.3,1212.60V1337.9M1384.9,1173.90V1310.3M1390.2,1173.90V1316.3M1395.0,1231.95V1330.7M1399.3,1173.90V1313.9M1404.6,1199.70V1294.7M1409.4,1173.90V1303.1M1418.3,1186.80V1280.2M1424.5,1206.15V1304.3M1433.4,1193.25V1288.6M1438.2,1173.90V1306.7M1443.7,1148.10V1283.8M1453.8,1096.50V1173.3M1458.5,915.90V1078.9M1463.7,896.55V1004.1M1483.0,1270.65V1353.0M1496.9,1238.40V1369.1M1502.3,1206.15V1330.6M1507.0,1257.75V1350.9M1512.3,1283.55V1358.4M1517.2,1212.60V1366.9M1522.4,1225.50V1333.8M1526.8,1225.50V1354.1M1532.2,1206.15V1333.8M1542.6,1238.40V1347.7M1546.5,1199.70V1341.3M1551.8,1219.05V1313.5M1556.5,1206.15V1336.0M1561.0,1186.80V1307.1M1576.4,1167.45V1315.7M1581.3,1128.75V1238.8M1595.2,1199.70V1329.6M1615.2,1212.60V1347.7M1620.6,1225.50V1348.8M1624.4,1231.95V1323.1M1635.1,1212.60V1350.9M1640.4,1219.05V1305.0M1645.4,1180.35V1308.2M1650.0,1180.35V1308.2M1660.3,1193.25V1266.6M1669.9,1128.75V1223.9M1674.2,1128.75V1293.3M1678.9,1173.90V1306.1M1683.8,1180.35V1270.8M1694.3,1219.05V1370.3M1703.6,967.50V1095.0M1708.6,1057.80V1148.1M1719.1,1270.65V1367.2M1723.8,1225.50V1368.4M1728.4,1257.75V1354.7M1738.6,1199.70V1321.8M1743.6,1219.05V1307.1M1753.1,1225.50V1368.4M1757.9,1212.60V1317.3M1762.2,1186.80V1321.8M1767.4,1167.45V1259.4M1772.0,1193.25V1274.1M1778.3,1186.80V1273.0M1782.6,1212.60V1343.4M1787.9,1154.55V1248.0M1791.9,1141.65V1276.4M1796.9,1154.55V1288.9M1801.9,1173.90V1261.7M1812.2,1225.50V1352.5M1817.2,864.30V971.6M1826.5,1057.80V1193.5M1837.1,1225.50V1311.6M1841.2,1244.85V1402.4M1846.9,1270.65V1355.9M1851.4,1238.40V1371.8M1856.7,1251.30V1375.2M1860.1,1225.50V1310.0M1871.2,1238.40V1379.7M1876.4,1180.35V1275.3M1885.5,1206.15V1298.0M1890.0,1193.25V1287.8M1896.2,1199.70V1311.6M1900.3,1206.15V1355.9M1905.5,1122.30V1243.5M1910.0,1173.90V1310.5M1935.1,806.25V912.2M1939.7,1019.10V1160.9M1948.9,1186.80V1273.7M1955.6,1173.90V1276.0M1959.2,1257.75V1384.2M1978.2,1244.85V1350.6M1984.4,1193.25V1325.4" stroke="#000" stroke-width="3.2" stroke-dasharray="3 3.45" fill="none"/></g><rect x="1161" y="761.3" width="828.7" height="683.9000000000001" fill="none" stroke="#262626" stroke-width="1.3"/><path d="M1161.0,1445.2v-8M1161.0,761.3v8M1279.4,1445.2v-8M1279.4,761.3v8M1397.8,1445.2v-8M1397.8,761.3v8M1516.2,1445.2v-8M1516.2,761.3v8M1634.5,1445.2v-8M1634.5,761.3v8M1752.9,1445.2v-8M1752.9,761.3v8M1871.3,1445.2v-8M1871.3,761.3v8M1989.7,1445.2v-8M1989.7,761.3v8M1161,761.3h8M1989.7,761.3h-8M1161,859.0h8M1989.7,859.0h-8M1161,956.7h8M1989.7,956.7h-8M1161,1054.4h8M1989.7,1054.4h-8M1161,1152.1h8M1989.7,1152.1h-8M1161,1249.8h8M1989.7,1249.8h-8M1161,1347.5h8M1989.7,1347.5h-8M1161,1445.2h8M1989.7,1445.2h-8" stroke="#262626" stroke-width="1.3" fill="none"/><text x="1161.0" y="1491" font-size="31" fill="#262626" text-anchor="middle">2018</text><text x="1279.4" y="1491" font-size="31" fill="#262626" text-anchor="middle">2019</text><text x="1397.8" y="1491" font-size="31" fill="#262626" text-anchor="middle">2020</text><text x="1516.2" y="1491" font-size="31" fill="#262626" text-anchor="middle">2021</text><text x="1634.5" y="1491" font-size="31" fill="#262626" text-anchor="middle">2022</text><text x="1752.9" y="1491" font-size="31" fill="#262626" text-anchor="middle">2023</text><text x="1871.3" y="1491" font-size="31" fill="#262626" text-anchor="middle">2024</text><text x="1989.7" y="1491" font-size="31" fill="#262626" text-anchor="middle">2025</text><text x="1148" y="772.3" font-size="31" fill="#262626" text-anchor="end">2.5</text><text x="1148" y="870.0" font-size="31" fill="#262626" text-anchor="end">2</text><text x="1148" y="967.7" font-size="31" fill="#262626" text-anchor="end">1.5</text><text x="1148" y="1065.4" font-size="31" fill="#262626" text-anchor="end">1</text><text x="1148" y="1163.1" font-size="31" fill="#262626" text-anchor="end">0.5</text><text x="1148" y="1260.8" font-size="31" fill="#262626" text-anchor="end">0</text><text x="1148" y="1358.5" font-size="31" fill="#262626" text-anchor="end">-0.5</text><text x="1148" y="1456.2" font-size="31" fill="#262626" text-anchor="end">-1</text><text x="1512" y="831" font-size="47" fill="#000">Area 1</text><text transform="translate(45,1104) rotate(-90)" font-size="34" fill="#262626" text-anchor="middle">Height change (m)</text><text transform="translate(1078,1104) rotate(-90)" font-size="34" fill="#262626" text-anchor="middle">Height change (m)</text></svg>
</body></html>
